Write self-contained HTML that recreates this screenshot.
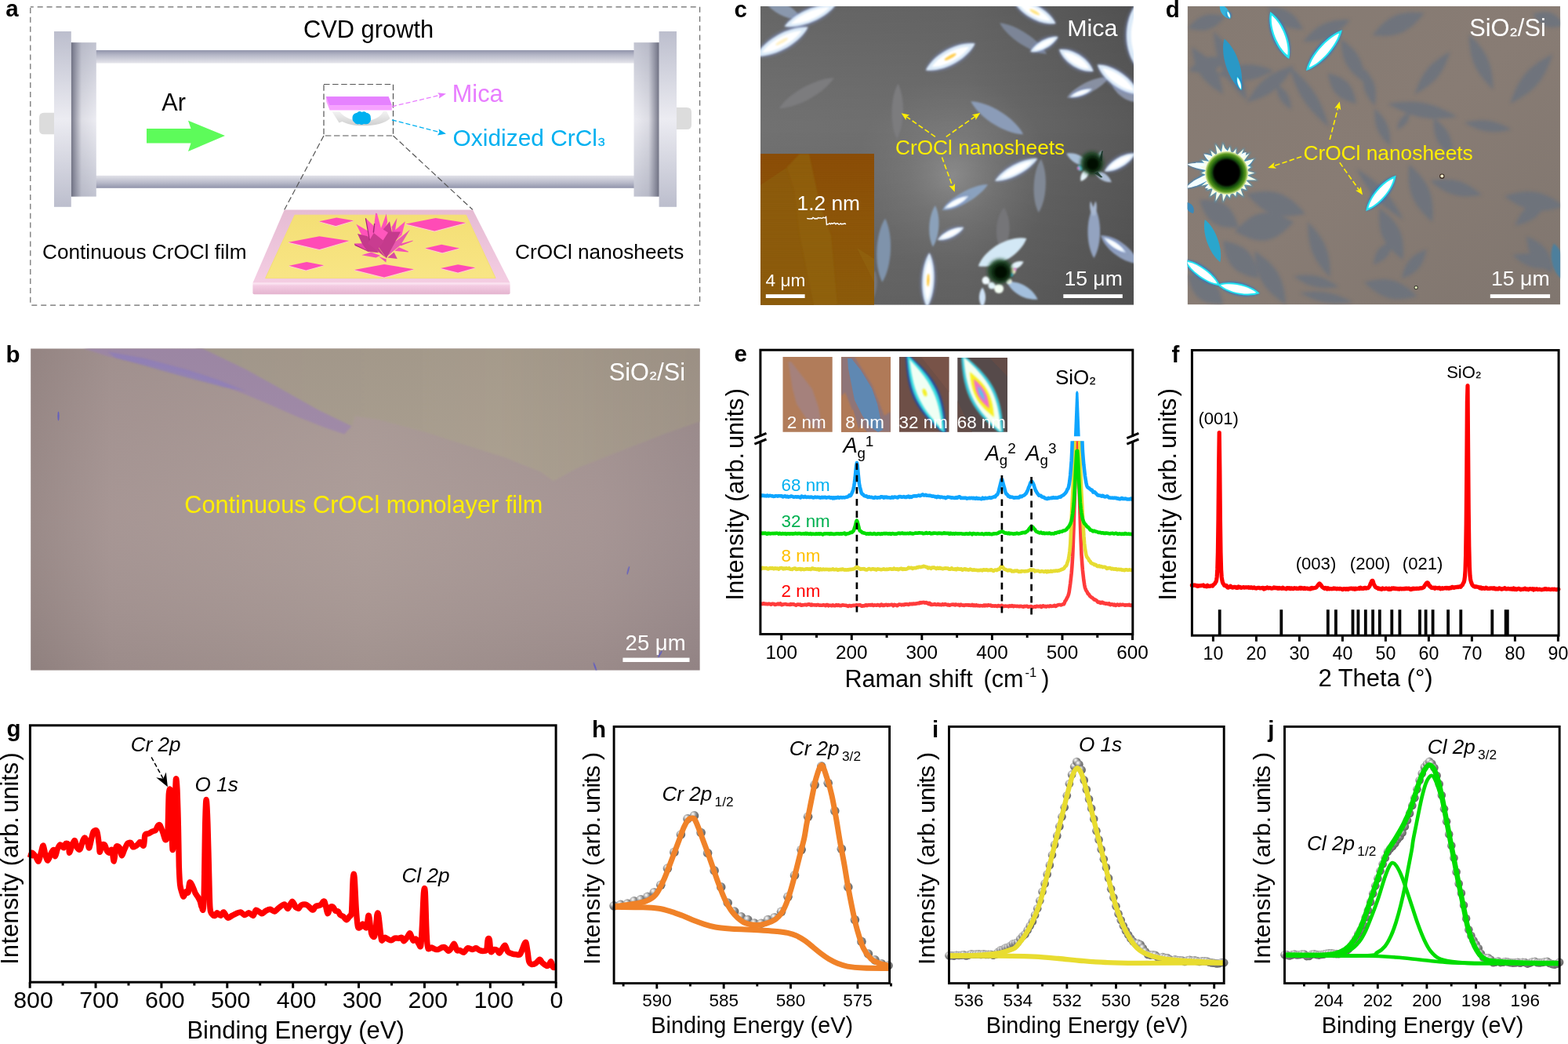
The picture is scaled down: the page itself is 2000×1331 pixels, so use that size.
<!DOCTYPE html>
<html lang="en">
<head>
<meta charset="utf-8">
<title>CVD growth and characterization of CrOCl</title>
<style>
html,body{margin:0;padding:0;background:#fff;}
body{width:2000px;height:1331px;overflow:hidden;}
svg{display:block;font-family:"Liberation Sans", Arial, Helvetica, sans-serif;}
text{white-space:pre;}
</style>
</head>
<body>
<svg width="2000" height="1331" viewBox="0 0 2000 1331">
<defs>

<linearGradient id="aTubeT" x1="0" y1="0" x2="0" y2="1"><stop offset="0" stop-color="#9093aa"/><stop offset="0.35" stop-color="#b4b6c6"/><stop offset="1" stop-color="#e6e6ec"/></linearGradient>
<linearGradient id="aTubeB" x1="0" y1="0" x2="0" y2="1"><stop offset="0" stop-color="#e2e2e9"/><stop offset="0.6" stop-color="#b6b8c8"/><stop offset="1" stop-color="#9093aa"/></linearGradient>
<linearGradient id="aFlO" x1="0" y1="0" x2="0" y2="1"><stop offset="0" stop-color="#bcbecd"/><stop offset="0.5" stop-color="#ececf2"/><stop offset="1" stop-color="#bcbecd"/></linearGradient>
<linearGradient id="aFlIv" x1="0" y1="0" x2="0" y2="1"><stop offset="0" stop-color="#c2c4d1"/><stop offset="0.5" stop-color="#ececf2"/><stop offset="1" stop-color="#c2c4d1"/></linearGradient>
<linearGradient id="aShL" x1="0" y1="0" x2="1" y2="0"><stop offset="0" stop-color="#55576a" stop-opacity="0.8"/><stop offset="0.18" stop-color="#5a5c70" stop-opacity="0.5"/><stop offset="0.42" stop-color="#5a5c70" stop-opacity="0.1"/><stop offset="1" stop-color="#5a5c70" stop-opacity="0"/></linearGradient>
<linearGradient id="aShR" x1="1" y1="0" x2="0" y2="0"><stop offset="0" stop-color="#55576a" stop-opacity="0.8"/><stop offset="0.18" stop-color="#5a5c70" stop-opacity="0.5"/><stop offset="0.42" stop-color="#5a5c70" stop-opacity="0.1"/><stop offset="1" stop-color="#5a5c70" stop-opacity="0"/></linearGradient>
<linearGradient id="aSubF" x1="0" y1="0" x2="0" y2="1"><stop offset="0" stop-color="#fdeaf5"/><stop offset="0.25" stop-color="#f3cbe2"/><stop offset="1" stop-color="#e4b4cf"/></linearGradient>
<linearGradient id="aSubT" x1="0" y1="0" x2="0" y2="1"><stop offset="0" stop-color="#e6bcd3"/><stop offset="1" stop-color="#f4cde3"/></linearGradient>
<linearGradient id="aYel" x1="0" y1="0" x2="0" y2="1"><stop offset="0" stop-color="#f4df75"/><stop offset="1" stop-color="#f8e585"/></linearGradient>
<linearGradient id="aBoat" x1="0" y1="0" x2="0" y2="1"><stop offset="0" stop-color="#f4f4f4"/><stop offset="1" stop-color="#cfcfcf"/></linearGradient>

<clipPath id="bClip"><rect x="39.1" y="444.3" width="853.7" height="410.4"/></clipPath>
<linearGradient id="bBg" x1="0" y1="0" x2="1" y2="0"><stop offset="0" stop-color="#988886"/><stop offset="0.12" stop-color="#a59492"/><stop offset="0.5" stop-color="#ab9b97"/><stop offset="0.85" stop-color="#a49392"/><stop offset="1" stop-color="#9b8b8c"/></linearGradient>
<linearGradient id="bBgV" x1="0" y1="0" x2="0" y2="1"><stop offset="0" stop-color="#000" stop-opacity="0.03"/><stop offset="0.5" stop-color="#fff" stop-opacity="0.02"/><stop offset="1" stop-color="#000" stop-opacity="0.06"/></linearGradient>
<linearGradient id="bBare" x1="0" y1="0" x2="1" y2="0"><stop offset="0" stop-color="#a59a8e"/><stop offset="0.6" stop-color="#aa9f8f"/><stop offset="1" stop-color="#a09488"/></linearGradient>

<clipPath id="cClip"><rect x="970" y="8" width="476" height="380.8"/></clipPath>
<clipPath id="cAfm"><rect x="970" y="196" width="145" height="192.8"/></clipPath>
<filter id="bl05" x="-20%" y="-20%" width="140%" height="140%"><feGaussianBlur stdDeviation="0.6"/></filter>
<filter id="bl1" x="-20%" y="-20%" width="140%" height="140%"><feGaussianBlur stdDeviation="1.1"/></filter>
<filter id="bl2" x="-30%" y="-30%" width="160%" height="160%"><feGaussianBlur stdDeviation="2.2"/></filter>
<filter id="bl4" x="-40%" y="-40%" width="180%" height="180%"><feGaussianBlur stdDeviation="4"/></filter>
<linearGradient id="cBg" x1="0" y1="0" x2="1" y2="0"><stop offset="0" stop-color="#717171"/><stop offset="0.55" stop-color="#6d6d6d"/><stop offset="1" stop-color="#595959"/></linearGradient>
<radialGradient id="cGlow" cx="1215" cy="225" r="125" gradientUnits="userSpaceOnUse"><stop offset="0" stop-color="#9a9a9a" stop-opacity="0.75"/><stop offset="0.45" stop-color="#8a8a8a" stop-opacity="0.4"/><stop offset="1" stop-color="#808080" stop-opacity="0"/></radialGradient>
<linearGradient id="cDark" x1="0" y1="0" x2="0" y2="1"><stop offset="0" stop-color="#000" stop-opacity="0.1"/><stop offset="0.4" stop-color="#000" stop-opacity="0"/><stop offset="1" stop-color="#000" stop-opacity="0.12"/></linearGradient>
<linearGradient id="cAfmG" x1="0" y1="0" x2="0" y2="1"><stop offset="0" stop-color="#884a05"/><stop offset="0.45" stop-color="#8a5307"/><stop offset="1" stop-color="#895909"/></linearGradient>
<pattern id="cAfmLines" width="4" height="2.4" patternUnits="userSpaceOnUse"><rect width="4" height="1" fill="#b07818" opacity="0.12"/></pattern>

<clipPath id="dClip"><rect x="1514.6" y="8" width="475.6" height="380.4"/></clipPath>
<linearGradient id="dBg" x1="0" y1="0" x2="1" y2="1"><stop offset="0" stop-color="#857a72"/><stop offset="0.5" stop-color="#887c74"/><stop offset="1" stop-color="#80766f"/></linearGradient>
<radialGradient id="dFl" cx="0.5" cy="0.5" r="0.5"><stop offset="0" stop-color="#000"/><stop offset="0.5" stop-color="#020802"/><stop offset="0.72" stop-color="#1c5a0c"/><stop offset="0.88" stop-color="#5a9a20"/><stop offset="1" stop-color="#e8f0b0"/></radialGradient>

<clipPath id="eLow"><rect x="969.9" y="562.2" width="474.9" height="245"/></clipPath>
<clipPath id="eI1"><rect x="998.5" y="455.1" width="63.2" height="95.6"/></clipPath>
<clipPath id="eI2"><rect x="1073" y="455.1" width="63" height="95.6"/></clipPath>
<clipPath id="eI3"><rect x="1147" y="455.1" width="63.5" height="95.6"/></clipPath>
<clipPath id="eI4"><rect x="1221.3" y="456" width="63.7" height="94.7"/></clipPath>

<radialGradient id="dotG" cx="0.36" cy="0.32" r="0.75"><stop offset="0" stop-color="#ffffff"/><stop offset="0.2" stop-color="#d0d0d0"/><stop offset="0.5" stop-color="#858585"/><stop offset="1" stop-color="#5c5c5c"/></radialGradient>

</defs>
<rect width="2000" height="1331" fill="#fff"/>
<g id="panel_a">
<rect x="38.8" y="8.8" width="853.8" height="380.4" fill="none" stroke="#6a6a6a" stroke-width="1.2" stroke-dasharray="7 4.9" stroke-dashoffset="3"/>
<path d="M69.5,143.8H56 q-6,0 -6,6 v15.5 q0,6 6,6 H69.5Z" fill="#dcdcdc"/>
<path d="M862.5,137H876 q6,0 6,6 v16 q0,6 -6,6 H862.5Z" fill="#dcdcdc"/>
<rect x="122" y="64" width="687" height="16.6" fill="url(#aTubeT)"/>
<rect x="122" y="223.8" width="687" height="16" fill="url(#aTubeB)"/>
<rect x="90.5" y="54.2" width="32.3" height="196.4" fill="url(#aFlIv)"/>
<rect x="90.5" y="54.2" width="32.3" height="196.4" fill="url(#aShL)"/>
<rect x="808.5" y="54.2" width="32.3" height="196.4" fill="url(#aFlIv)"/>
<rect x="808.5" y="54.2" width="32.3" height="196.4" fill="url(#aShR)"/>
<rect x="69" y="40" width="21.8" height="223.8" fill="url(#aFlO)"/>
<rect x="840.6" y="40" width="22.4" height="223.8" fill="url(#aFlO)"/>
<path d="M187,164 H243.5 L240,153.8 L287,173 L240,193 L243.5,182.5 H187Z" fill="#5dfb5a"/>
<rect x="413" y="107.5" width="88.5" height="65.5" fill="none" stroke="#555" stroke-width="1.2" stroke-dasharray="7.5 3.6"/>
<path d="M413,173 L362.7,267.5 M501.5,173 L603,267.5" fill="none" stroke="#555" stroke-width="1.2" stroke-dasharray="7.5 3.6"/>
<path d="M423.5,142.2 L433,142.2 C440,151 452,154.5 463,154.5 C476,154.5 486,149 489,141.8 L493,141.8 L497.5,151 C492,157 478,160.3 463,160.3 C451,160.3 442,158 436.5,155 L432.5,156.5Z" fill="url(#aBoat)"/>
<path d="M449.5,150.5 c0,-4 2.5,-6.5 6,-6.8 c1.5,-2 4.5,-2 6,-0.8 c2,-1.2 5,-0.6 6,1.2 c3,0 5.5,2.5 5.3,6 c0.6,2.5 0,5.5 -2.2,6.8 c-2,1.8 -5,1.5 -6.5,1 c-2,1.4 -4.5,1.2 -6,0.2 c-2.5,0.8 -5,-0.2 -6,-2 c-1.8,-1.2 -2.8,-3.4 -2.6,-5.6Z" fill="#00b0f0"/>
<path d="M416,123.3 H495.6 L499.8,134.2 H420.4Z" fill="#e682ff"/>
<path d="M416,123.3 L420.4,134.2 H499.8 V140.5 H420.6 L416.3,129.5Z" fill="#f7a2ff"/>
<path d="M416,123.3 H495.6 L499.8,134.2 H420.4Z" fill="#e682ff"/>
<path d="M500,135.8 L560,121.6" fill="none" stroke="#e87dff" stroke-width="1.3" stroke-dasharray="6 3"/>
<path d="M569,119.4 L558.3,118.2 L560.6,121.4 L559.8,125.5Z" fill="#e87dff"/>
<path d="M500,153 L560,168.3" fill="none" stroke="#00b0f0" stroke-width="1.3" stroke-dasharray="6 3"/>
<path d="M569,170.6 L559.6,164.6 L560.5,168.6 L558,172.6Z" fill="#00b0f0"/>
<path d="M362.7,267.6 L603.1,267.6 L650.6,360.7 L322.4,360.7Z" fill="url(#aSubT)"/>
<path d="M322.4,360.7 H650.6 V373.3 q0,2 -2,2 H324.4 q-2,0 -2,-2Z" fill="url(#aSubF)"/>
<path d="M376,274.2 L594.5,274.2 L632.1,354.6 L338.6,354.6Z" fill="url(#aYel)" stroke="#f4df75" stroke-width="1" stroke-linejoin="round"/>
<path d="M407,283.1 L428.3,288.9 L451.1,282.1 L451.1,281.2 L428.3,287.9 L407,282.2Z" fill="#ffc4ea"/>
<path d="M407,282.2 L429.2,277.4 L451.1,281.2 L428.3,287.9Z" fill="#ff4bb6"/>
<path d="M517.6,286.5 L554.2,295.5 L594.1,285 L594.1,284.1 L554.2,294.5 L517.6,285.6Z" fill="#ffc4ea"/>
<path d="M517.6,285.6 L555.6,278 L594.1,284.1 L554.2,294.5Z" fill="#ff4bb6"/>
<path d="M368,309.7 L407.4,318.9 L445.4,307.8 L445.4,306.9 L407.4,317.9 L368,308.8Z" fill="#ffc4ea"/>
<path d="M368,308.8 L407.4,301.2 L445.4,306.9 L407.4,317.9Z" fill="#ff4bb6"/>
<path d="M542.3,317.3 L564.1,323.3 L586,317.3 L586,316.4 L564.1,322.3 L542.3,316.4Z" fill="#ffc4ea"/>
<path d="M542.3,316.4 L563.2,311.8 L586,316.4 L564.1,322.3Z" fill="#ff4bb6"/>
<path d="M368.8,339.7 L390.3,345.5 L413.1,339.1 L413.1,338.2 L390.3,344.5 L368.8,338.8Z" fill="#ffc4ea"/>
<path d="M368.8,338.8 L391.2,334.1 L413.1,338.2 L390.3,344.5Z" fill="#ff4bb6"/>
<path d="M452,345 L490,354.4 L528,344.1 L528,343.2 L490,353.4 L452,344.1Z" fill="#ffc4ea"/>
<path d="M452,344.1 L490,336.9 L528,343.2 L490,353.4Z" fill="#ff4bb6"/>
<path d="M562.2,342.9 L584.1,348.5 L606.3,342.2 L606.3,341.3 L584.1,347.5 L562.2,342Z" fill="#ffc4ea"/>
<path d="M562.2,342 L584.1,337.3 L606.3,341.3 L584.1,347.5Z" fill="#ff4bb6"/>
<path d="M454.3,285.8 L469,294.2 L473.2,308.2 L463.4,304Z" fill="#ff52ba"/>
<path d="M451.8,310.6 L464.8,310.3 L470.4,321.1 L452.9,313.1Z" fill="#e848aa"/>
<path d="M451.8,311 L452.9,313.1 L470.4,321.1 L469,319.7Z" fill="#a82c78"/>
<path d="M510.3,311 L526.7,306.4 L526.4,307.5 L511,313.4Z" fill="#f04eb2"/>
<path d="M508.9,315.2 L520.8,320.4 L520.8,321.5 L503.3,319.7Z" fill="#f650b6"/>
<path d="M522.9,292.8 L511,312.4 L493.5,327.1 L500.5,311Z" fill="#e85aae"/>
<path d="M456,298 L469,301.2 L483,322.2 L469,320.8 L462,311Z" fill="#c43a8c"/>
<path d="M466.2,278.1 L476.7,287.9 L478.1,304 L472.5,311.7Z" fill="#ff55bc"/>
<path d="M465.8,278.4 L467,278.1 L472.8,311 L471.8,311.6Z" fill="#a02a74"/>
<path d="M506.4,278.1 L504,294.2 L500.5,297 L499.8,289.3Z" fill="#f04cb0"/>
<path d="M516.9,282.3 L512.4,299.8 L502.6,308.2 L501.2,295.6Z" fill="#ff52ba"/>
<path d="M492.8,272.5 L494.2,283 L490,294.2 L485.8,291.4Z" fill="#ff50b8"/>
<path d="M479.1,271.8 L480.9,272.1 L485.8,290 L483,299.8 L476,297Z" fill="#ff55bc"/>
<path d="M497,282.3 L500.5,298.4 L495.6,304 L488.6,292.8Z" fill="#cc3c94"/>
<path d="M477.4,285.1 L495.6,297 L490,308.2 L476.7,298.4Z" fill="#ff57bd"/>
<path d="M477,285.1 L478.4,285.1 L477,297 L475.6,296.3Z" fill="#a02a74"/>
<path d="M495.6,295.6 L511,295.6 L492.8,329.2 L483,315.2Z" fill="#c43a8c"/>
<path d="M476.7,297 L490,307.5 L483,315.9 L492.1,328.5 L469,310.3Z" fill="#c93c90"/>
<path d="M461.3,325.3 L473.2,321.5 L485.1,325.7 L479.5,328.5Z" fill="#f452b6"/>
<path d="M502.6,321.5 L506.8,329.9 L494.2,328.5Z" fill="#d848a0"/>
<path d="M483,327.1 L492.8,330.6 L492.4,334.4Z" fill="#f050b4"/>
<text x="7.20" y="21.20" font-size="29.50" fill="#000" font-weight="bold">a</text>
<text x="386.90" y="47.60" font-size="30.85" fill="#000">CVD growth</text>
<text x="206.30" y="140.60" font-size="30.60" fill="#000">Ar</text>
<text x="576.80" y="130.20" font-size="30.70" fill="#e87dff">Mica</text>
<text x="577.60" y="186.40" font-size="29.90" fill="#00b0f0">Oxidized CrCl<tspan font-size="25.7" dy="-2.09" stroke="#00b0f0" stroke-width="0.3">₃</tspan></text>
<text x="54.00" y="329.60" font-size="26.20" fill="#000">Continuous CrOCl film</text>
<text x="657.00" y="329.60" font-size="26.20" fill="#000">CrOCl nanosheets</text>
</g>
<g id="panel_b">
<g clip-path="url(#bClip)">
<rect x="39.1" y="444.3" width="853.7" height="410.4" fill="url(#bBg)"/>
<path d="M248.4,443.9 L892.8,443.9 L892.8,537.3 L846.4,553.4 L782,578.7 L736,597.1 L706.1,613.2 L690,601.7 L644,583.3 L593.4,567.2 L542.8,551.1 L483,535 L453.1,530.4 L448.5,544.2 L427.8,537.3 L395.6,518.9 L349.6,493.6 L299,468.3Z" fill="url(#bBare)" filter="url(#bl1)"/>
<path d="M105.8,443.9 L257.6,443.9 L312.8,470.6 L358.8,495.9 L404.8,522.1 L448.5,543.3 L439.3,553.4 L414,545.1 L377.2,530.4 L340.4,514.3 L312.8,502.8 L276,489 L230,474.3 L184,463.7 L138,454.5Z" fill="#a08aa8" filter="url(#bl1)"/>
<path d="M138,448.5 L184,456.8 L239.2,471.5 L276,483.5 L312.8,498.2 L285.2,493.6 L230,478.9 L184,466 L147.2,455.9Z" fill="#9080c0" opacity="0.75" filter="url(#bl1)"/>
<rect x="39.1" y="444.3" width="853.7" height="410.4" fill="url(#bBgV)"/>
<ellipse cx="74.5" cy="530.4" rx="1.1" ry="6" fill="#5a58c8" opacity="0.85" transform="rotate(0 74.5 530.4)" filter="url(#bl05)"/>
<ellipse cx="801.3" cy="727.3" rx="0.9" ry="5.5" fill="#5a58c8" opacity="0.85" transform="rotate(15 801.3 727.3)" filter="url(#bl05)"/>
<ellipse cx="759.0" cy="850.1" rx="1.0" ry="6" fill="#5a58c8" opacity="0.85" transform="rotate(-20 759.0 850.1)" filter="url(#bl05)"/>
<ellipse cx="841.8" cy="834.0" rx="1.0" ry="5" fill="#5a58c8" opacity="0.85" transform="rotate(30 841.8 834.0)" filter="url(#bl05)"/>
</g>
<text x="235.30" y="654.30" font-size="30.70" fill="#ffee00">Continuous CrOCl monolayer film</text>
<text x="776.80" y="484.50" font-size="30.70" fill="#fff">SiO<tspan font-size="26.4" dy="-2.15" stroke="#fff" stroke-width="0.3">₂</tspan><tspan dy="2.15">/Si</tspan></text>
<text x="797.60" y="828.60" font-size="27.50" fill="#fff">25 μm</text>
<rect x="794.4" y="838.6" width="85.1" height="5.4" fill="#fff"/>
<text x="7.60" y="461.60" font-size="29.50" fill="#000" font-weight="bold">b</text>
</g>
<g id="panel_c">
<g clip-path="url(#cClip)">
<rect x="970" y="8" width="476" height="380.8" fill="url(#cBg)"/>
<rect x="970" y="8" width="476" height="380.8" fill="url(#cGlow)"/>
<rect x="970" y="8" width="476" height="380.8" fill="url(#cDark)"/>
<g filter="url(#bl1)"><path d="M993.8,138.2 C1016.7,138.1 1051.6,118.6 1063.7,99.2 C1040.8,99.3 1005.9,118.8 993.8,138.2Z" fill="#7b7b7e"/><path d="M1145.5,106.7 C1135.4,124.1 1134.7,159.4 1144,177.3 C1154.1,159.9 1154.8,124.6 1145.5,106.7Z" fill="#7b7b7e"/><path d="M1280.4,264.4 C1268.8,278 1267.6,306.2 1278.1,320.7 C1289.7,307.1 1290.9,278.9 1280.4,264.4Z" fill="#757578"/><path d="M1327.7,202.8 C1316.9,219.4 1315.4,253.6 1324.7,271.1 C1335.5,254.5 1337,220.3 1327.7,202.8Z" fill="#808895"/><path d="M1116,345 C1106.1,354.6 1102.1,376.6 1108,389 C1117.9,379.4 1121.9,357.4 1116,345Z" fill="#74767a"/></g>
<g filter="url(#bl1)"><path d="M975,0 C982.2,15 1005.7,27 1022,24 C1014.8,9 991.3,-3 975,0Z" fill="#8a98ad"/><path d="M1275.1,29.3 C1284.6,47.6 1314.6,67.5 1335.2,69.1 C1325.7,50.8 1295.7,30.9 1275.1,29.3Z" fill="#7b8597"/><path d="M1360.8,124.7 C1378.3,126.3 1405.3,113.1 1414.8,98.4 C1397.3,96.8 1370.3,110 1360.8,124.7Z" fill="#8890a2"/><path d="M1238.3,129.2 C1248.6,149.9 1282.1,171 1305.2,171.3 C1294.9,150.6 1261.4,129.5 1238.3,129.2Z" fill="#8b9cb8"/><path d="M1129,278.6 C1116.4,298.4 1114.5,339 1125.3,359.8 C1137.9,340 1139.8,299.4 1129,278.6Z" fill="#7f93ab"/><path d="M1192.9,262.1 C1184.1,274.8 1182.6,301.1 1189.9,314.7 C1198.7,302 1200.2,275.7 1192.9,262.1Z" fill="#8ba1ba"/><path d="M1201.5,268.1 C1220.8,268 1250.1,251.5 1260.1,235.1 C1240.8,235.2 1211.5,251.7 1201.5,268.1Z" fill="#8aa1be"/><path d="M1395.3,262 C1384.9,278.8 1384.9,312.2 1395.3,329 C1405.7,312.2 1405.7,278.8 1395.3,262Z" fill="#93a3c0"/><path d="M1391,256.5 C1389.1,261.8 1390.6,271.5 1394,276 C1395.9,270.7 1394.4,261 1391,256.5Z" fill="#a8b8d0"/><path d="M1397.5,256.5 C1394.5,261.2 1393.7,270.9 1396,276 C1399,271.3 1399.8,261.6 1397.5,256.5Z" fill="#a8b8d0"/><path d="M1417.8,105.2 C1420.8,119 1437.9,131.4 1452,130 C1449,116.2 1431.9,103.8 1417.8,105.2Z" fill="#8a93a8"/><path d="M1404,300 C1409.3,318.1 1433.5,336.1 1452.4,336 C1447.1,317.9 1422.9,299.9 1404,300Z" fill="#8f9fbd"/></g>
<g filter="url(#bl2)"><path d="M1000.6,33.8 C1022.1,38.9 1054.8,25 1066,6 C1044.5,0.9 1011.8,14.8 1000.6,33.8Z" fill="#7f92c8" opacity="0.75"/><path d="M964,71.5 C988,75.5 1021.3,57 1030.6,34.6 C1006.6,30.6 973.3,49.1 964,71.5Z" fill="#7f92c8" opacity="0.75"/><path d="M1180.9,89.4 C1203.7,94.2 1235.1,77.3 1243.6,55.6 C1220.8,50.8 1189.4,67.7 1180.9,89.4Z" fill="#7f92c8" opacity="0.75"/><path d="M1293,1 C1300,20 1326.7,34.5 1346.5,30 C1339.5,11 1312.8,-3.5 1293,1Z" fill="#7f92c8" opacity="0.75"/><path d="M1314.2,66.1 C1327.3,69.2 1345,59.6 1349.5,46.9 C1336.4,43.8 1318.7,53.4 1314.2,66.1Z" fill="#7f92c8" opacity="0.75"/><path d="M1351,63.1 C1355.1,80.8 1376.9,94.7 1394.6,90.9 C1390.5,73.2 1368.7,59.3 1351,63.1Z" fill="#7f92c8" opacity="0.75"/><path d="M1399.8,82.6 C1404.8,103.4 1431.1,122.2 1452.4,120.2 C1447.4,99.4 1421.1,80.6 1399.8,82.6Z" fill="#7f92c8" opacity="0.75"/><path d="M1452,2 C1429.9,23.5 1429.9,66.5 1452,88 C1474.1,66.5 1474.1,23.5 1452,2Z" fill="#7f92c8" opacity="0.75"/><path d="M1364.5,123.5 C1373.6,126.7 1387.9,121.6 1393,113.4 C1383.9,110.2 1369.6,115.3 1364.5,123.5Z" fill="#7f92c8" opacity="0.75"/><path d="M1185.4,322.2 C1172.6,339.1 1171.1,374 1182.4,392 C1195.2,375.1 1196.7,340.2 1185.4,322.2Z" fill="#7f92c8" opacity="0.75"/><path d="M1269.1,230.6 C1287.8,233.2 1314.8,218.9 1323.2,202 C1304.5,199.4 1277.5,213.7 1269.1,230.6Z" fill="#7f92c8" opacity="0.75"/><path d="M1204.5,265.9 C1215.4,268.2 1230.8,260.3 1235.3,250.1 C1224.4,247.8 1209,255.7 1204.5,265.9Z" fill="#7f92c8" opacity="0.75"/><path d="M1196,305.7 C1207.8,309 1224.4,301.1 1229.3,289.9 C1217.5,286.6 1200.9,294.5 1196,305.7Z" fill="#7f92c8" opacity="0.75"/><path d="M1408.8,218.5 C1423.7,221.4 1443.3,209.9 1448,195.5 C1433.1,192.6 1413.5,204.1 1408.8,218.5Z" fill="#7f92c8" opacity="0.75"/><path d="M1408,303 C1411.2,313.3 1425.2,322.8 1436,322 C1432.8,311.7 1418.8,302.2 1408,303Z" fill="#7f92c8" opacity="0.75"/></g>
<g filter="url(#bl1)"><path d="M1000.6,33.8 C1021.3,37 1054,23.1 1066,6 C1045.3,2.8 1012.6,16.7 1000.6,33.8Z" fill="#dbeaf8"/><path d="M964,71.5 C987,73.7 1020.3,55.3 1030.6,34.6 C1007.6,32.4 974.3,50.8 964,71.5Z" fill="#dbeaf8"/><path d="M1180.9,89.4 C1202.8,92.5 1234.1,75.6 1243.6,55.6 C1221.7,52.5 1190.4,69.4 1180.9,89.4Z" fill="#dbeaf8"/><path d="M1293,1 C1300.9,18.3 1327.7,32.8 1346.5,30 C1338.6,12.7 1311.8,-1.8 1293,1Z" fill="#dbeaf8"/><path d="M1314.2,66.1 C1326.4,67.5 1344,57.9 1349.5,46.9 C1337.3,45.5 1319.7,55.1 1314.2,66.1Z" fill="#dbeaf8"/><path d="M1351,63.1 C1356.1,79.1 1377.9,93 1394.6,90.9 C1389.5,74.9 1367.7,61 1351,63.1Z" fill="#dbeaf8"/><path d="M1399.8,82.6 C1405.9,101.8 1432.2,120.6 1452.4,120.2 C1446.3,101 1420,82.2 1399.8,82.6Z" fill="#dbeaf8"/><path d="M1452,2 C1431.9,23.5 1431.9,66.5 1452,88 C1472.1,66.5 1472.1,23.5 1452,2Z" fill="#dbeaf8"/><path d="M1364.5,123.5 C1373,124.8 1387.2,119.7 1393,113.4 C1384.5,112.1 1370.3,117.2 1364.5,123.5Z" fill="#dbeaf8"/><path d="M1185.4,322.2 C1174.6,339.2 1173.1,374.1 1182.4,392 C1193.2,375 1194.7,340.1 1185.4,322.2Z" fill="#dbeaf8"/><path d="M1269.1,230.6 C1286.9,231.4 1313.9,217.1 1323.2,202 C1305.4,201.2 1278.4,215.5 1269.1,230.6Z" fill="#dbeaf8"/><path d="M1204.5,265.9 C1214.5,266.4 1229.9,258.5 1235.3,250.1 C1225.3,249.6 1209.9,257.5 1204.5,265.9Z" fill="#dbeaf8"/><path d="M1196,305.7 C1206.9,307.2 1223.6,299.3 1229.3,289.9 C1218.4,288.4 1201.7,296.3 1196,305.7Z" fill="#dbeaf8"/><path d="M1408.8,218.5 C1422.7,219.7 1442.3,208.2 1448,195.5 C1434.1,194.3 1414.5,205.8 1408.8,218.5Z" fill="#dbeaf8"/><path d="M1408,303 C1412.4,311.6 1426.4,321.1 1436,322 C1431.6,313.4 1417.6,303.9 1408,303Z" fill="#dbeaf8"/></g>
<g filter="url(#bl1)"><path d="M1008.4,30.5 C1023.6,31.5 1048.4,20.9 1058.2,9.3 C1043,8.3 1018.2,18.9 1008.4,30.5Z" fill="#ffffff"/><path d="M972,67.1 C988.6,67.1 1013.9,53.1 1022.6,39 C1006,39 980.7,53 972,67.1Z" fill="#ffffff"/><path d="M1188.4,85.3 C1204.2,86.1 1228,73.2 1236.1,59.7 C1220.3,58.9 1196.5,71.8 1188.4,85.3Z" fill="#ffffff"/><path d="M1299.4,4.5 C1306.2,16.2 1326.5,27.2 1340.1,26.5 C1333.3,14.8 1313,3.8 1299.4,4.5Z" fill="#ffffff"/><path d="M1318.4,63.8 C1327.2,64 1340.6,56.7 1345.3,49.2 C1336.5,49 1323.1,56.3 1318.4,63.8Z" fill="#ffffff"/><path d="M1356.2,66.4 C1360.9,77.3 1377.5,87.9 1389.4,87.6 C1384.7,76.7 1368.1,66.1 1356.2,66.4Z" fill="#ffffff"/><path d="M1406.1,87.1 C1411.8,100.3 1431.7,114.6 1446.1,115.7 C1440.4,102.5 1420.5,88.2 1406.1,87.1Z" fill="#ffffff"/><path d="M1452,12.3 C1439.5,28.7 1439.5,61.3 1452,77.7 C1464.5,61.3 1464.5,28.7 1452,12.3Z" fill="#ffffff"/><path d="M1367.9,122.3 C1374.2,122.7 1385,118.9 1389.6,114.6 C1383.3,114.2 1372.5,118 1367.9,122.3Z" fill="#ffffff"/><path d="M1185,330.6 C1178.2,343.6 1177.1,370.1 1182.8,383.6 C1189.6,370.6 1190.7,344.1 1185,330.6Z" fill="#ffffff"/><path d="M1275.6,227.2 C1288.5,226.7 1309,215.8 1316.7,205.4 C1303.8,205.9 1283.3,216.8 1275.6,227.2Z" fill="#ffffff"/><path d="M1208.2,264 C1215.5,263.8 1227.2,257.8 1231.6,252 C1224.3,252.2 1212.6,258.2 1208.2,264Z" fill="#ffffff"/><path d="M1200,303.8 C1207.9,304.2 1220.6,298.2 1225.3,291.8 C1217.4,291.4 1204.7,297.4 1200,303.8Z" fill="#ffffff"/><path d="M1413.5,215.7 C1423.5,215.7 1438.4,206.9 1443.3,198.3 C1433.3,198.3 1418.4,207.1 1413.5,215.7Z" fill="#ffffff"/><path d="M1411.4,305.3 C1415,311.3 1425.7,318.5 1432.6,319.7 C1429,313.7 1418.3,306.5 1411.4,305.3Z" fill="#ffffff"/></g>
<g filter="url(#bl1)"><ellipse cx="997.3" cy="53.0" rx="9.1" ry="2.1" fill="#fff0c0" opacity="0.9" transform="rotate(-29.0 997.3 53.0)"/><ellipse cx="1212.2" cy="72.5" rx="8.5" ry="2.1" fill="#ffc83c" opacity="0.9" transform="rotate(-28.3 1212.2 72.5)"/><ellipse cx="1319.8" cy="15.5" rx="7.3" ry="1.9" fill="#ffe070" opacity="0.9" transform="rotate(28.5 1319.8 15.5)"/><ellipse cx="1183.9" cy="357.1" rx="8.4" ry="1.6" fill="#ffc020" opacity="0.9" transform="rotate(92.5 1183.9 357.1)"/></g>
<g filter="url(#bl1)"><path d="M1360.3,195.7 C1365.8,206.8 1377.7,213 1390,211 C1384.5,199.9 1372.6,193.7 1360.3,195.7Z" fill="#a9bfd8"/><path d="M1378.5,231 C1386.2,228.7 1390.4,221.9 1389,214 C1381.3,216.3 1377.1,223.1 1378.5,231Z" fill="#e6f4fb"/><path d="M1417.8,232.2 C1414.6,222.9 1405.8,217.2 1396,218 C1399.2,227.3 1408,233 1417.8,232.2Z" fill="#aebfd6"/><path d="M1406,192 C1400.7,194.5 1397.5,200.1 1398,206 C1403.3,203.5 1406.5,197.9 1406,192Z" fill="#8fa9b5"/><path d="M1247.8,339.2 C1270.5,343.2 1301.3,325.5 1309.4,303.9 C1286.7,299.9 1255.9,317.6 1247.8,339.2Z" fill="#d3e8f5"/><path d="M1286.9,342.6 C1294.8,344.7 1302.3,341.1 1305.6,333.6 C1297.7,331.5 1290.2,335.1 1286.9,342.6Z" fill="#e4f2fb"/><path d="M1283.9,359.1 C1291.2,374 1307.1,383.1 1323.7,381.7 C1316.4,366.8 1300.5,357.7 1283.9,359.1Z" fill="#a3bfdd"/><path d="M1253,366.6 C1247.6,374.2 1247.6,384.4 1253,392 C1258.4,384.4 1258.4,374.2 1253,366.6Z" fill="#cfe2f6"/></g>
<g filter="url(#bl1)"><circle cx="1257.6" cy="357.6" r="5" fill="#f2fbff"/><circle cx="1274.1" cy="368.1" r="6" fill="#f4fff4"/><circle cx="1265" cy="364" r="4.5" fill="#e2f4fa"/><circle cx="1291.4" cy="345.6" r="4.2" fill="#fff8d0"/><circle cx="1294.5" cy="343.5" r="2" fill="#f090e0"/><circle cx="1290" cy="350" r="2.4" fill="#40c8f0"/><circle cx="1287" cy="358.5" r="3.6" fill="#f0f6e8"/><circle cx="1378" cy="214" r="3.4" fill="#58d0e8"/><circle cx="1375.6" cy="214.6" r="1.8" fill="#e080e0"/></g>
<g filter="url(#bl2)"><circle cx="1392.7" cy="208" r="14.5" fill="#154020" opacity="0.95"/></g>
<g filter="url(#bl2)"><circle cx="1393.7" cy="209" r="9.4" fill="#020a04"/></g>
<g filter="url(#bl2)"><circle cx="1275.6" cy="345.8" r="15.5" fill="#154020" opacity="0.95"/></g>
<g filter="url(#bl2)"><circle cx="1276.6" cy="346.8" r="10.1" fill="#020a04"/></g>
<path d="M1405,193 L1407,192 L1405.5,206 L1402,204Z M1400,219 L1406.5,226 L1404,226.6 L1396,221Z" fill="#0f2c1a" opacity="0.8" filter="url(#bl05)"/>
<g clip-path="url(#cAfm)">
<rect x="970" y="196" width="145" height="193" fill="url(#cAfmG)"/>
<path d="M970,236 L1003,214 L1012,240 L1020,300 L1038,389 L970,389Z" fill="#8a5a0b" opacity="0.9"/>
<path d="M1003,214 L1020,196 L1032,196 L1046,262 L1060,300 L1068,389 L1038,389 L1020,300 L1012,240Z" fill="#8f630d" opacity="0.7" filter="url(#bl1)"/>
<path d="M1093,316 L1115,330 L1115,360Z" fill="#8f600e" opacity="0.8"/>
<rect x="970" y="196" width="145" height="193" fill="url(#cAfmLines)"/>
</g>
<path d="M1029.2,278.4 L1030.5,278.7 L1031.8,278.8 L1033.1,279.1 L1034.4,278.7 L1035.7,279 L1037,277.3 L1038.3,278.1 L1039.6,279.1 L1040.9,278.5 L1042.2,279 L1043.5,277.4 L1044.8,278.1 L1046.1,277.7 L1047.4,278.3 L1048.7,278.3 L1050,277.2 L1051.3,277.6 L1052.6,277.8 L1053.6,276.2 L1054.4,286.6 L1055.5,285.9 L1056.8,285.7 L1058.1,284.6 L1059.4,285.7 L1060.7,284.5 L1062,285.4 L1063.3,284.5 L1064.6,284.3 L1065.9,285.9 L1067.2,284.7 L1068.5,284.7 L1069.8,286.1 L1071.1,285.9 L1072.4,284.8 L1073.7,286 L1075,285.3 L1076.3,285.5 L1077.6,284.7 L1078.9,286" fill="none" stroke="#fff" stroke-width="1.4" stroke-linejoin="round"/>
</g>
<path d="M1192.9,174.3 L1156.0,148.7" fill="none" stroke="#ffee00" stroke-width="1.6" stroke-dasharray="6.5 3.2"/><path d="M1149.6,144.2 L1160.2,146.5 L1156.0,148.7 L1155.5,153.3Z" fill="#ffee00"/>
<path d="M1206.8,174.3 L1243.9,148.4" fill="none" stroke="#ffee00" stroke-width="1.6" stroke-dasharray="6.5 3.2"/><path d="M1250.3,143.9 L1244.5,153.0 L1243.9,148.4 L1239.8,146.3Z" fill="#ffee00"/>
<path d="M1201.5,200.5 L1215.0,237.5" fill="none" stroke="#ffee00" stroke-width="1.6" stroke-dasharray="6.5 3.2"/><path d="M1217.7,244.8 L1210.4,236.8 L1215.0,237.5 L1218.1,234.0Z" fill="#ffee00"/>
<text x="1141.90" y="196.60" font-size="26.30" fill="#ffee00">CrOCl nanosheets</text>
<text x="1361.30" y="45.90" font-size="30.40" fill="#fff">Mica</text>
<text x="1016.60" y="267.90" font-size="26.30" fill="#fff">1.2 nm</text>
<text x="976.60" y="365.10" font-size="22.60" fill="#fff">4 μm</text>
<rect x="976.8" y="375.2" width="49.8" height="4.8" fill="#fff"/>
<text x="1357.40" y="364.40" font-size="26.60" fill="#fff">15 μm</text>
<rect x="1356.3" y="375.2" width="75.5" height="4.8" fill="#fff"/>
<text x="936.40" y="22.10" font-size="29.50" fill="#000" font-weight="bold">c</text>
</g>
<g id="panel_d">
<g clip-path="url(#dClip)">
<rect x="1514.6" y="8" width="475.6" height="380.4" fill="url(#dBg)"/>
<g filter="url(#bl2)" fill="#69727f" opacity="0.8"><path d="M1515,36 C1537.4,41.9 1548,38.6 1563,21 C1540.6,15.1 1530,18.4 1515,36Z"/><path d="M1516.5,90 C1538.9,96 1549.5,92.7 1564.6,75.1 C1542.2,69.1 1531.6,72.4 1516.5,90Z"/><path d="M1552.6,94.7 C1581.6,106.4 1597.4,105.4 1624.7,90.1 C1595.7,78.4 1579.9,79.4 1552.6,94.7Z"/><path d="M1590.1,130.7 C1621.1,122.3 1634.3,112 1650.2,84.1 C1619.2,92.5 1606,102.8 1590.1,130.7Z"/><path d="M1627.7,106.7 C1628.9,123.3 1633.2,130.6 1647.2,139.7 C1646,123.1 1641.7,115.8 1627.7,106.7Z"/><path d="M1644.2,84.1 C1654.8,120.7 1666.1,137.9 1695.3,162.3 C1684.7,125.7 1673.4,108.5 1644.2,84.1Z"/><path d="M1693.8,93.2 C1697.9,117.6 1705.9,126.2 1729.9,132.2 C1725.8,107.8 1717.8,99.2 1693.8,93.2Z"/><path d="M1662,53 C1690.6,53.3 1703.8,47.1 1722,25 C1693.4,24.7 1680.2,30.9 1662,53Z"/><path d="M1617.2,9 C1628.2,30.6 1638.1,36.9 1662.3,37.6 C1651.3,16 1641.4,9.7 1617.2,9Z"/><path d="M1710.3,49.6 C1711.2,77.2 1717.8,89.4 1740.4,105.2 C1739.5,77.6 1732.9,65.4 1710.3,49.6Z"/><path d="M1750.5,45.1 C1782.4,48.1 1796.9,41.8 1816.6,16.5 C1784.7,13.5 1770.2,19.8 1750.5,45.1Z"/><path d="M1804.6,120.2 C1830.7,106.2 1840.6,94.3 1849.7,66.1 C1823.6,80.1 1813.7,92 1804.6,120.2Z"/><path d="M1873.7,43.6 C1874.4,76.1 1881.2,91.6 1904.5,114.2 C1903.8,81.7 1897,66.2 1873.7,43.6Z"/><path d="M1926.3,132.2 C1957.7,116.4 1969.6,102.5 1980.4,69.1 C1949,84.9 1937.1,98.8 1926.3,132.2Z"/><path d="M1770,132.2 C1802.3,150.8 1821.9,154.4 1858.7,148.7 C1826.4,130.1 1806.8,126.5 1770,132.2Z"/><path d="M1867.7,156.3 C1889.8,169 1903,170.9 1927.8,165.3 C1905.7,152.6 1892.5,150.7 1867.7,156.3Z"/><path d="M1828.6,150.2 C1828,174.5 1833.3,185.4 1852.7,200 C1853.3,175.7 1848,164.8 1828.6,150.2Z"/><path d="M1753.5,138.2 C1752.6,160.4 1756.9,171 1773.1,186.3 C1774,164.1 1769.7,153.5 1753.5,138.2Z"/><path d="M1782.1,165.3 C1793.5,160.1 1797.1,155.1 1798.6,142.7 C1787.2,147.9 1783.6,152.9 1782.1,165.3Z"/><path d="M1954.8,18 C1966.4,35.1 1975.3,38.2 1995,32 C1983.4,14.9 1974.5,11.8 1954.8,18Z"/><path d="M1740,87.1 C1736.4,108.4 1739.3,118.9 1753.5,135.2 C1757.1,113.9 1754.2,103.4 1740,87.1Z"/><path d="M1590,247 C1613.3,274.5 1629.8,280.1 1665,272.6 C1641.7,245.1 1625.2,239.5 1590,247Z"/><path d="M1575,295 C1608,313.4 1624.5,310.8 1650,283 C1617,264.6 1600.5,267.2 1575,295Z"/><path d="M1668.3,283.1 C1668,315.3 1674.3,330.8 1696.8,353.8 C1697.1,321.6 1690.8,306.1 1668.3,283.1Z"/><path d="M1650.2,352.3 C1670.3,366.6 1682.9,369.5 1707.3,365.8 C1687.2,351.5 1674.6,348.6 1650.2,352.3Z"/><path d="M1657.8,373.3 C1682.7,386.5 1697.5,389.1 1725.4,385.3 C1700.5,372.1 1685.7,369.5 1657.8,373.3Z"/><path d="M1560,307 C1564.1,338.4 1574,348.9 1605,355 C1600.9,323.6 1591,313.1 1560,307Z"/><path d="M1797.1,209.5 C1794.5,244 1801.1,260.2 1827.1,283.1 C1829.7,248.6 1823.1,232.4 1797.1,209.5Z"/><path d="M1824.1,230.6 C1846.6,249.5 1861.2,253.5 1890.2,248.6 C1867.7,229.7 1853.1,225.7 1824.1,230.6Z"/><path d="M1759.5,265.1 C1757.2,297.3 1763.8,311.8 1789.6,331.2 C1791.9,299 1785.3,284.5 1759.5,265.1Z"/><path d="M1752,337.2 C1768.6,331.3 1773.9,324.7 1776,307.2 C1759.4,313.1 1754.1,319.7 1752,337.2Z"/><path d="M1788.1,355.3 C1808.4,347.4 1815.3,339.1 1819.6,317.7 C1799.3,325.6 1792.4,333.9 1788.1,355.3Z"/><path d="M1740,359.8 C1762.4,381.7 1777.3,385.7 1807.6,377.8 C1785.2,355.9 1770.3,351.9 1740,359.8Z"/><path d="M1918.8,250.1 C1945.9,270.3 1962.7,273.2 1995,263 C1967.9,242.8 1951.1,239.9 1918.8,250.1Z"/><path d="M1932.3,287.7 C1955.8,282.8 1965,275.2 1974.4,253.1 C1950.9,258 1941.7,265.6 1932.3,287.7Z"/><path d="M1947.3,301.2 C1949.2,327.2 1956.4,337.4 1980.4,347.7 C1978.5,321.7 1971.3,311.5 1947.3,301.2Z"/><path d="M1929.3,325.2 C1947.4,341.7 1959.3,345 1983.4,340.2 C1965.3,323.7 1953.4,320.4 1929.3,325.2Z"/><path d="M1520,60 C1524.3,90.9 1533.1,104.1 1560,120 C1555.7,89.1 1546.9,75.9 1520,60Z"/><path d="M1530,255 C1538.9,283.8 1549.9,291.5 1580,290 C1571.1,261.2 1560.1,253.5 1530,255Z"/><path d="M1515,350 C1520.6,378.9 1530.5,387.3 1560,388 C1554.4,359.1 1544.5,350.7 1515,350Z"/><path d="M1600,320 C1602.3,354.3 1611.1,369.3 1640,388 C1637.7,353.7 1628.9,338.7 1600,320Z"/><path d="M1548,40 C1551,80.7 1560.3,100.1 1590,128 C1587,87.3 1577.7,67.9 1548,40Z"/><path d="M1730,215 C1746.2,247 1759.4,261.3 1790,280 C1773.8,248 1760.6,233.7 1730,215Z"/></g>
<path d="M1981.9,310.2 C1974.6,323.8 1979.7,346.7 1992,356 C1999.3,342.4 1994.2,319.5 1981.9,310.2Z" fill="#4d7f9c" filter="url(#bl1)"/>
<path d="M1561.6,49.6 C1556,69.3 1566.5,101.6 1582.6,114.2 C1588.2,94.5 1577.7,62.2 1561.6,49.6Z" fill="#2b98c6" filter="url(#bl05)"/>
<path d="M1536.8,280.1 C1532.9,296.8 1542.6,323.9 1556.3,334.2 C1560.2,317.5 1550.5,290.4 1536.8,280.1Z" fill="#2aa6cd" filter="url(#bl05)"/>
<path d="M1556,6 C1554.4,14 1560.9,23 1569.1,24 C1570.7,16 1564.2,7 1556,6Z" fill="#35b4dc" filter="url(#bl05)"/>
<path d="M1514,258 C1511.3,264.2 1515.3,271.2 1522,272 C1524.7,265.8 1520.7,258.8 1514,258Z" fill="#3a88b8" filter="url(#bl05)"/>
<path d="M1620.2,15 C1613.9,34.9 1625.9,65 1644.2,75.1 C1650.5,55.2 1638.5,25.1 1620.2,15Z" fill="#2a78c8" opacity="0.8" filter="url(#bl1)"/>
<path d="M1666,90.1 C1686.6,85.2 1709.5,59.3 1711.8,38.3 C1691.2,43.2 1668.3,69.1 1666,90.1Z" fill="#2a78c8" opacity="0.8" filter="url(#bl1)"/>
<path d="M1742.3,268.9 C1760.8,265.2 1780,242.7 1780.6,223.8 C1762.1,227.5 1742.9,250 1742.3,268.9Z" fill="#2a78c8" opacity="0.8" filter="url(#bl1)"/>
<path d="M1510,331 C1515.2,348.1 1538.4,364.8 1556.3,364.3 C1551.1,347.2 1527.9,330.5 1510,331Z" fill="#2a78c8" opacity="0.8" filter="url(#bl1)"/>
<path d="M1552.6,362.8 C1563.9,376.6 1590.9,382.2 1606.7,374 C1595.4,360.2 1568.4,354.6 1552.6,362.8Z" fill="#2a78c8" opacity="0.8" filter="url(#bl1)"/>
<path d="M1578,97.5 C1574.4,103.3 1577,112.1 1583.2,115 C1586.8,109.2 1584.2,100.4 1578,97.5Z" fill="#2a78c8" opacity="0.8" filter="url(#bl1)"/>
<path d="M1565.5,14 C1562.2,17.9 1563.9,22.7 1569,23.5 C1572.3,19.6 1570.6,14.8 1565.5,14Z" fill="#2a78c8" opacity="0.8" filter="url(#bl1)"/>
<path d="M1620.2,15 C1615.9,34.1 1627.9,64.2 1644.2,75.1 C1648.5,56 1636.5,25.9 1620.2,15Z" fill="#22e6f2" filter="url(#bl05)"/>
<path d="M1622.1,19.8 C1619.8,35.4 1629.8,60.6 1642.3,70.3 C1644.6,54.7 1634.6,29.5 1622.1,19.8Z" fill="#fff" filter="url(#bl05)"/>
<path d="M1666,90.1 C1685,83.8 1707.9,57.9 1711.8,38.3 C1692.8,44.6 1669.9,70.5 1666,90.1Z" fill="#22e6f2" filter="url(#bl05)"/>
<path d="M1669.7,86 C1684.7,79.9 1703.9,58.1 1708.1,42.4 C1693.1,48.5 1673.9,70.3 1669.7,86Z" fill="#fff" filter="url(#bl05)"/>
<path d="M1742.3,268.9 C1759.2,263.8 1778.3,241.3 1780.6,223.8 C1763.7,228.9 1744.6,251.4 1742.3,268.9Z" fill="#22e6f2" filter="url(#bl05)"/>
<path d="M1745.4,265.3 C1758.7,260.3 1774.8,241.3 1777.5,227.4 C1764.2,232.4 1748.1,251.4 1745.4,265.3Z" fill="#fff" filter="url(#bl05)"/>
<path d="M1510,331 C1516.5,346.4 1539.6,363 1556.3,364.3 C1549.8,348.9 1526.7,332.3 1510,331Z" fill="#22e6f2" filter="url(#bl05)"/>
<path d="M1513.7,333.7 C1519.8,345.7 1539.2,359.7 1552.6,361.6 C1546.5,349.6 1527.1,335.6 1513.7,333.7Z" fill="#fff" filter="url(#bl05)"/>
<path d="M1552.6,362.8 C1564.3,374.5 1591.3,380.1 1606.7,374 C1595,362.3 1568,356.7 1552.6,362.8Z" fill="#22e6f2" filter="url(#bl05)"/>
<path d="M1556.9,363.7 C1567,372.4 1589.7,377.1 1602.4,373.1 C1592.3,364.4 1569.6,359.7 1556.9,363.7Z" fill="#fff" filter="url(#bl05)"/>
<path d="M1578,97.5 C1576.4,102.7 1579,111.5 1583.2,115 C1584.8,109.8 1582.2,101 1578,97.5Z" fill="#22e6f2" filter="url(#bl05)"/>
<path d="M1578.4,98.9 C1577.4,103.2 1579.6,110.5 1582.8,113.6 C1583.8,109.3 1581.6,102 1578.4,98.9Z" fill="#fff" filter="url(#bl05)"/>
<path d="M1565.5,14 C1564.2,17.2 1565.9,21.9 1569,23.5 C1570.3,20.3 1568.6,15.6 1565.5,14Z" fill="#22e6f2" filter="url(#bl05)"/>
<path d="M1565.8,14.8 C1564.9,17.3 1566.4,21.3 1568.7,22.7 C1569.6,20.2 1568.1,16.2 1565.8,14.8Z" fill="#fff" filter="url(#bl05)"/>
<path d="M1514,209.5 C1527.3,219.2 1555.8,222.5 1571,216.2 C1557.7,206.6 1529.2,203.2 1514,209.5Z" fill="#2a88d0" opacity="0.8" filter="url(#bl1)"/>
<path d="M1535.5,196.5 C1538,207 1551.1,215.6 1561.8,213.8 C1559.2,203.3 1546.1,194.7 1535.5,196.5Z" fill="#2a88d0" opacity="0.8" filter="url(#bl1)"/>
<path d="M1560,188 C1554.8,196.6 1559.3,207.9 1569,210.5 C1574.2,201.9 1569.7,190.6 1560,188Z" fill="#2a88d0" opacity="0.8" filter="url(#bl1)"/>
<path d="M1589.5,194 C1579.7,194 1571,203.7 1572.2,213.5 C1582.1,213.5 1590.7,203.8 1589.5,194Z" fill="#2a88d0" opacity="0.8" filter="url(#bl1)"/>
<path d="M1598,204 C1590,201.9 1580.2,207.9 1578.5,216 C1586.5,218.1 1596.3,212.1 1598,204Z" fill="#2a88d0" opacity="0.8" filter="url(#bl1)"/>
<path d="M1512,240 C1525.8,241.3 1546.8,230.8 1554,219 C1540.2,217.7 1519.2,228.2 1512,240Z" fill="#2a88d0" opacity="0.8" filter="url(#bl1)"/>
<path d="M1537,240 C1543.7,242.5 1551.9,238 1553.5,231 C1546.8,228.5 1538.6,233 1537,240Z" fill="#2a88d0" opacity="0.8" filter="url(#bl1)"/>
<path d="M1600.2,220.5 L1590.6,223.6 L1602.8,229.6 L1588.8,229.4 L1596.5,236.8 L1586.3,235 L1589.7,242 L1581.9,239.4 L1585.6,250.1 L1577.2,243.8 L1576.2,250.2 L1570.6,244.2 L1568.5,252 L1564.6,246.9 L1560.1,256.7 L1558.8,243.3 L1550.5,256.6 L1551.7,244.4 L1543.5,250.2 L1547.1,239.7 L1539.7,241.9 L1544.8,233.8 L1532.5,236.8 L1541.9,228.8 L1532.1,228.3 L1539.8,223.4 L1532.4,220.5 L1538.9,217.5 L1530.1,212.3 L1539,211.1 L1532.6,204.2 L1542.7,205.9 L1537.7,197.3 L1546.9,201.2 L1544.3,192 L1552.9,198.9 L1550.4,184.2 L1557.9,194.1 L1559.9,183.2 L1564.6,194.5 L1568.8,187.3 L1570.6,197 L1576.8,189.4 L1575.9,199.6 L1586.3,190.1 L1581.6,201.9 L1593.6,195.6 L1585.6,206.4 L1599.7,202.6 L1590.2,211.1 L1595.7,213.1 L1589.3,217.6Z" fill="#3fa8d8" opacity="0.8" filter="url(#bl1)" transform="translate(1564.6 220.5) scale(1.07) translate(-1564.6 -220.5)"/>
<path d="M1514,209.5 C1527.5,217.2 1556,220.6 1571,216.2 C1557.5,208.6 1529,205.2 1514,209.5Z" fill="#f4ffff" filter="url(#bl05)"/>
<path d="M1535.5,196.5 C1539.1,205.3 1552.2,213.9 1561.8,213.8 C1558.1,205 1545,196.3 1535.5,196.5Z" fill="#f4ffff" filter="url(#bl05)"/>
<path d="M1560,188 C1556.7,195.9 1561.2,207.1 1569,210.5 C1572.3,202.6 1567.8,191.4 1560,188Z" fill="#f4ffff" filter="url(#bl05)"/>
<path d="M1589.5,194 C1581.2,195.3 1572.5,205.1 1572.2,213.5 C1580.6,212.2 1589.2,202.4 1589.5,194Z" fill="#f4ffff" filter="url(#bl05)"/>
<path d="M1598,204 C1591,203.6 1581.3,209.6 1578.5,216 C1585.5,216.4 1595.2,210.4 1598,204Z" fill="#f4ffff" filter="url(#bl05)"/>
<path d="M1512,240 C1524.9,239.5 1545.9,229 1554,219 C1541.1,219.5 1520.1,230 1512,240Z" fill="#f4ffff" filter="url(#bl05)"/>
<path d="M1537,240 C1542.7,240.7 1551,236.2 1553.5,231 C1547.8,230.3 1539.5,234.8 1537,240Z" fill="#f4ffff" filter="url(#bl05)"/>
<path d="M1600.2,220.5 L1590.6,223.6 L1602.8,229.6 L1588.8,229.4 L1596.5,236.8 L1586.3,235 L1589.7,242 L1581.9,239.4 L1585.6,250.1 L1577.2,243.8 L1576.2,250.2 L1570.6,244.2 L1568.5,252 L1564.6,246.9 L1560.1,256.7 L1558.8,243.3 L1550.5,256.6 L1551.7,244.4 L1543.5,250.2 L1547.1,239.7 L1539.7,241.9 L1544.8,233.8 L1532.5,236.8 L1541.9,228.8 L1532.1,228.3 L1539.8,223.4 L1532.4,220.5 L1538.9,217.5 L1530.1,212.3 L1539,211.1 L1532.6,204.2 L1542.7,205.9 L1537.7,197.3 L1546.9,201.2 L1544.3,192 L1552.9,198.9 L1550.4,184.2 L1557.9,194.1 L1559.9,183.2 L1564.6,194.5 L1568.8,187.3 L1570.6,197 L1576.8,189.4 L1575.9,199.6 L1586.3,190.1 L1581.6,201.9 L1593.6,195.6 L1585.6,206.4 L1599.7,202.6 L1590.2,211.1 L1595.7,213.1 L1589.3,217.6Z" fill="#f8fbe8" filter="url(#bl05)"/>
<circle cx="1564.6" cy="220.5" r="27.5" fill="url(#dFl)" filter="url(#bl05)"/>
<circle cx="1564.6" cy="220.0" r="17" fill="#000" filter="url(#bl1)"/>
<circle cx="1839.3" cy="224.7" r="3.2" fill="#3a2a20"/><circle cx="1839.3" cy="224.5" r="2" fill="#fff4d0"/>
<circle cx="1806.2" cy="366.6" r="2.6" fill="#3a3a30"/><circle cx="1806.2" cy="366.6" r="1.6" fill="#e8f4c0"/>
</g>
<path d="M1696.1,178.0 L1706.8,137.0" fill="none" stroke="#ffee00" stroke-width="1.6" stroke-dasharray="6.5 3.2"/><path d="M1708.8,129.5 L1710.2,140.2 L1706.8,137.0 L1702.3,138.1Z" fill="#ffee00"/>
<path d="M1660.0,199.8 L1624.6,211.5" fill="none" stroke="#ffee00" stroke-width="1.6" stroke-dasharray="6.5 3.2"/><path d="M1617.2,214.0 L1625.4,207.0 L1624.6,211.5 L1628.0,214.7Z" fill="#ffee00"/>
<path d="M1708.8,207.3 L1733.6,242.2" fill="none" stroke="#ffee00" stroke-width="1.6" stroke-dasharray="6.5 3.2"/><path d="M1738.1,248.6 L1729.0,242.8 L1733.6,242.2 L1735.7,238.1Z" fill="#ffee00"/>
<text x="1662.40" y="203.60" font-size="26.30" fill="#ffee00">CrOCl nanosheets</text>
<text x="1874.20" y="45.90" font-size="30.80" fill="#fff">SiO<tspan font-size="26.5" dy="-2.16" stroke="#fff" stroke-width="0.3">₂</tspan><tspan dy="2.16">/Si</tspan></text>
<text x="1902.00" y="364.40" font-size="26.70" fill="#fff">15 μm</text>
<rect x="1900.8" y="375.2" width="76.3" height="4.8" fill="#fff"/>
<text x="1486.80" y="22.10" font-size="29.50" fill="#000" font-weight="bold">d</text>
</g>
<g id="panel_e">
<g clip-path="url(#eI1)"><rect x="998" y="455" width="64" height="96" fill="#b17c5a"/><path d="M1005.5,461.5 L1009,461 L1019,474 L1036,496 L1044,519 L1049,548 L1040,546 L1028,533 L1016,515 L1011,496 L1008,478Z" fill="#a5817c" filter="url(#bl1)"/></g>
<g clip-path="url(#eI2)"><rect x="1073" y="455" width="63" height="96" fill="#b07a58"/><path d="M1073,455 H1090 L1112,490 L1128,530 L1136,525 V551 H1096 L1090,530 L1078,500 L1073,505Z" fill="#8f7478" filter="url(#bl1)"/><path d="M1073,535 L1088,522 L1096,551 H1073Z" fill="#b07a58" filter="url(#bl05)"/><path d="M1098,540 L1106,551 H1094Z" fill="#b07a58"/><path d="M1081,457 L1086,457 L1098,472 L1112,495 L1119,515 L1126,548 L1120,551 L1110,544 L1100,530 L1090,510 L1085,485 L1082,470Z" fill="#5f88b2" filter="url(#bl05)"/></g>
<g clip-path="url(#eI3)"><rect x="1147" y="455" width="64" height="96" fill="#6e4f47"/><path d="M1175,455 H1210.5 V500 L1195,480Z" fill="#7a5448" opacity="0.8"/><path d="M1155,449 C1155.9,501.5 1166.3,522.9 1207,556 C1206.1,503.5 1195.7,482.1 1155,449Z" fill="#2a4a98" filter="url(#bl1)"/><path d="M1157,452 C1159.6,500.3 1169.2,520.5 1205,553 C1202.4,504.7 1192.8,484.5 1157,452Z" fill="#38dce0" filter="url(#bl1)"/><path d="M1160,458 C1164.7,499.7 1173.1,517.7 1202,548 C1197.3,506.3 1188.9,488.3 1160,458Z" fill="#f0fff4" filter="url(#bl1)"/><ellipse cx="1179.5" cy="500.5" rx="2.4" ry="5" fill="#f4f020" transform="rotate(-20 1179.5 500.5)" filter="url(#bl1)"/></g>
<g clip-path="url(#eI4)"><rect x="1221" y="455" width="65" height="96" fill="#564a4a"/><path d="M1221,510 L1240,551 H1221Z M1262,456 H1285 V480Z" fill="#6a4c44" opacity="0.6"/><path d="M1226,450 C1227.9,502.4 1238.7,523.6 1280,556 C1278.1,503.6 1267.3,482.4 1226,450Z" fill="#38c8d8" filter="url(#bl1)"/><path d="M1229,455 C1232.6,501.2 1242.2,520.4 1277,551 C1273.4,504.8 1263.8,485.6 1229,455Z" fill="#f4fff0" filter="url(#bl1)"/><path d="M1237,474 C1239.4,502.6 1245.6,514.2 1268,532 C1265.6,503.4 1259.4,491.8 1237,474Z" fill="#f8f020" filter="url(#bl1)"/><path d="M1242,483 C1243.8,501.5 1247.8,509.1 1262,521 C1260.2,502.5 1256.2,494.9 1242,483Z" fill="#f070c8" filter="url(#bl1)"/><path d="M1247,492 C1247.8,500.9 1249.6,504.7 1256,511 C1255.2,502.1 1253.4,498.3 1247,492Z" fill="#60c0e8" filter="url(#bl1)"/></g>
<text x="1003.80" y="545.80" font-size="22.40" fill="#fff">2 nm</text>
<text x="1078.20" y="545.80" font-size="22.40" fill="#fff">8 nm</text>
<text x="1146.60" y="545.80" font-size="22.40" fill="#fff">32 nm</text>
<text x="1220.70" y="545.80" font-size="22.40" fill="#fff">68 nm</text>
<g clip-path="url(#eLow)" fill="none" stroke-linejoin="round" stroke-width="4.6">
<path d="M969.9,769.8 L970.6,770.0 L971.4,769.7 L972.1,769.8 L972.9,769.9 L973.6,769.3 L974.4,769.3 L975.1,769.9 L975.9,770.2 L976.6,769.7 L977.4,769.8 L978.1,770.1 L978.9,770.1 L979.6,770.2 L980.4,769.8 L981.1,769.8 L981.9,770.0 L982.6,770.3 L983.4,770.7 L984.1,770.3 L984.9,769.8 L985.6,769.9 L986.4,770.2 L987.1,769.9 L987.9,770.5 L988.6,770.9 L989.4,770.8 L990.1,770.4 L990.9,770.4 L991.6,770.3 L992.4,769.7 L993.1,770.3 L993.9,770.5 L994.6,769.7 L995.4,769.4 L996.1,770.3 L996.9,771.2 L997.6,771.2 L998.4,770.6 L999.1,770.6 L999.9,770.3 L1000.6,770.3 L1001.4,770.2 L1002.1,770.1 L1002.9,770.4 L1003.6,770.7 L1004.4,770.7 L1005.1,770.8 L1005.9,770.8 L1006.6,770.7 L1007.4,771.0 L1008.1,770.3 L1008.9,770.1 L1009.6,770.6 L1010.4,770.4 L1011.1,770.5 L1011.9,770.3 L1012.6,770.4 L1013.4,771.0 L1014.1,771.0 L1014.9,771.5 L1015.6,771.6 L1016.4,770.9 L1017.1,770.6 L1017.9,770.7 L1018.6,770.6 L1019.4,770.9 L1020.1,771.0 L1020.9,770.7 L1021.6,771.5 L1022.4,771.8 L1023.1,771.3 L1023.9,771.4 L1024.7,771.3 L1025.4,771.2 L1026.2,771.2 L1026.9,770.7 L1027.7,770.9 L1028.4,771.4 L1029.2,771.2 L1029.9,770.6 L1030.7,770.6 L1031.4,770.3 L1032.2,770.3 L1032.9,770.6 L1033.7,771.4 L1034.4,771.6 L1035.2,770.6 L1035.9,771.0 L1036.7,771.4 L1037.4,771.2 L1038.2,771.3 L1038.9,771.4 L1039.7,771.2 L1040.4,771.4 L1041.2,771.7 L1041.9,771.3 L1042.7,771.1 L1043.4,771.0 L1044.2,771.2 L1044.9,771.7 L1045.7,771.8 L1046.4,771.8 L1047.2,771.6 L1047.9,771.8 L1048.7,771.8 L1049.4,771.4 L1050.2,771.4 L1050.9,771.4 L1051.7,771.5 L1052.4,772.0 L1053.2,772.2 L1053.9,771.2 L1054.7,771.0 L1055.4,771.1 L1056.2,771.4 L1056.9,772.3 L1057.7,771.9 L1058.4,771.7 L1059.2,771.8 L1059.9,771.7 L1060.7,772.3 L1061.4,772.1 L1062.2,771.3 L1062.9,771.6 L1063.7,772.1 L1064.4,772.1 L1065.2,772.3 L1065.9,771.9 L1066.7,771.1 L1067.4,771.6 L1068.2,772.0 L1068.9,771.4 L1069.7,771.2 L1070.4,771.9 L1071.2,772.3 L1071.9,772.1 L1072.7,772.3 L1073.4,772.0 L1074.2,771.5 L1074.9,771.4 L1075.7,771.5 L1076.4,771.6 L1077.2,771.7 L1077.9,771.8 L1078.7,771.9 L1079.4,771.9 L1080.2,772.2 L1080.9,772.6 L1081.7,772.9 L1082.4,772.5 L1083.2,772.1 L1083.9,772.0 L1084.7,772.2 L1085.4,772.7 L1086.2,772.3 L1086.9,772.0 L1087.7,772.1 L1088.4,771.8 L1089.2,772.0 L1089.9,771.9 L1090.7,772.1 L1091.4,771.8 L1092.2,771.3 L1092.9,771.7 L1093.7,771.6 L1094.4,771.7 L1095.2,771.5 L1095.9,771.4 L1096.7,771.4 L1097.4,771.4 L1098.2,771.9 L1098.9,772.6 L1099.7,772.7 L1100.4,772.5 L1101.2,772.2 L1101.9,772.4 L1102.7,772.3 L1103.4,771.6 L1104.2,771.3 L1104.9,771.4 L1105.7,772.1 L1106.4,771.8 L1107.2,771.4 L1107.9,771.4 L1108.7,771.4 L1109.4,771.4 L1110.2,771.1 L1110.9,771.6 L1111.7,771.4 L1112.4,770.8 L1113.2,771.4 L1113.9,772.0 L1114.7,771.8 L1115.4,771.4 L1116.2,771.5 L1116.9,771.5 L1117.7,771.7 L1118.4,771.6 L1119.2,771.1 L1119.9,771.1 L1120.7,771.4 L1121.4,771.8 L1122.2,772.2 L1122.9,771.8 L1123.7,770.9 L1124.4,770.6 L1125.2,771.6 L1125.9,771.9 L1126.7,771.4 L1127.4,772.0 L1128.2,771.7 L1128.9,771.1 L1129.7,771.1 L1130.4,770.8 L1131.2,771.2 L1131.9,771.8 L1132.7,771.0 L1133.4,771.0 L1134.2,771.5 L1134.9,771.2 L1135.7,771.3 L1136.4,770.9 L1137.2,770.7 L1137.9,770.8 L1138.7,771.4 L1139.4,772.3 L1140.2,771.8 L1140.9,770.8 L1141.7,771.1 L1142.4,771.4 L1143.2,771.5 L1143.9,772.1 L1144.7,772.1 L1145.4,771.4 L1146.2,770.7 L1146.9,770.6 L1147.7,770.8 L1148.4,770.7 L1149.2,771.0 L1149.9,771.5 L1150.7,771.1 L1151.4,770.7 L1152.2,770.9 L1152.9,771.3 L1153.7,770.6 L1154.4,770.2 L1155.2,770.6 L1155.9,770.3 L1156.7,770.2 L1157.4,770.4 L1158.2,771.0 L1158.9,770.9 L1159.7,770.2 L1160.4,769.8 L1161.2,770.0 L1161.9,770.1 L1162.7,769.8 L1163.4,770.2 L1164.2,770.1 L1164.9,769.8 L1165.7,769.6 L1166.4,769.9 L1167.2,769.9 L1167.9,769.6 L1168.7,769.7 L1169.4,769.4 L1170.2,769.2 L1170.9,769.1 L1171.7,769.2 L1172.4,769.3 L1173.2,768.3 L1173.9,768.0 L1174.7,768.6 L1175.4,768.5 L1176.2,768.0 L1176.9,768.3 L1177.7,768.1 L1178.4,767.8 L1179.2,768.4 L1179.9,768.7 L1180.7,768.4 L1181.4,768.0 L1182.2,768.9 L1182.9,769.2 L1183.7,768.9 L1184.4,770.0 L1185.2,770.1 L1185.9,768.9 L1186.7,769.9 L1187.4,770.9 L1188.2,770.3 L1188.9,770.9 L1189.7,770.8 L1190.4,770.5 L1191.2,770.6 L1191.9,770.1 L1192.7,770.3 L1193.4,770.7 L1194.2,770.9 L1194.9,771.0 L1195.7,770.5 L1196.4,770.2 L1197.2,770.9 L1197.9,771.1 L1198.7,770.6 L1199.4,770.8 L1200.2,771.2 L1200.9,771.2 L1201.7,770.7 L1202.4,770.2 L1203.2,770.6 L1203.9,771.1 L1204.7,770.6 L1205.4,770.1 L1206.2,770.4 L1206.9,770.9 L1207.7,770.7 L1208.4,771.2 L1209.2,771.5 L1209.9,770.9 L1210.7,771.6 L1211.4,771.6 L1212.2,771.2 L1212.9,771.0 L1213.7,770.9 L1214.4,770.7 L1215.2,770.6 L1215.9,770.9 L1216.7,770.7 L1217.4,771.0 L1218.2,771.4 L1218.9,770.6 L1219.7,770.8 L1220.4,771.0 L1221.2,771.0 L1221.9,771.1 L1222.7,770.8 L1223.4,771.2 L1224.2,771.9 L1224.9,771.3 L1225.7,770.7 L1226.4,771.1 L1227.2,771.5 L1227.9,771.6 L1228.7,771.4 L1229.4,771.9 L1230.2,772.0 L1230.9,771.5 L1231.7,771.2 L1232.4,771.3 L1233.2,771.4 L1233.9,771.3 L1234.7,771.3 L1235.4,771.7 L1236.2,771.6 L1236.9,771.3 L1237.7,771.6 L1238.4,771.9 L1239.2,771.5 L1239.9,771.0 L1240.7,771.8 L1241.4,772.1 L1242.2,771.4 L1242.9,771.5 L1243.7,772.3 L1244.4,772.1 L1245.2,771.4 L1245.9,771.5 L1246.7,772.3 L1247.4,772.2 L1248.2,771.9 L1248.9,772.4 L1249.7,772.4 L1250.4,772.1 L1251.2,772.1 L1251.9,772.3 L1252.7,772.3 L1253.4,772.4 L1254.2,772.2 L1254.9,771.6 L1255.7,771.8 L1256.4,772.3 L1257.2,771.5 L1257.9,771.6 L1258.7,772.2 L1259.4,772.2 L1260.2,771.5 L1260.9,771.3 L1261.7,771.7 L1262.4,771.9 L1263.2,771.5 L1263.9,771.7 L1264.7,772.5 L1265.4,772.6 L1266.2,772.5 L1266.9,772.3 L1267.7,772.6 L1268.4,772.8 L1269.2,772.4 L1269.9,772.3 L1270.7,772.7 L1271.4,772.9 L1272.2,772.9 L1272.9,772.3 L1273.7,772.1 L1274.4,772.4 L1275.2,772.6 L1275.9,772.9 L1276.7,772.3 L1277.4,771.8 L1278.2,772.0 L1278.9,772.5 L1279.7,773.1 L1280.4,772.9 L1281.2,772.9 L1281.9,772.7 L1282.7,772.6 L1283.4,772.8 L1284.2,772.7 L1284.9,772.7 L1285.7,772.9 L1286.4,773.3 L1287.2,772.6 L1287.9,772.2 L1288.7,772.6 L1289.4,772.9 L1290.2,772.5 L1290.9,772.1 L1291.7,772.4 L1292.4,773.2 L1293.2,773.1 L1293.9,772.5 L1294.7,772.7 L1295.4,772.8 L1296.2,772.9 L1296.9,772.9 L1297.7,772.8 L1298.4,772.9 L1299.2,773.1 L1299.9,773.1 L1300.7,773.2 L1301.4,772.8 L1302.2,772.7 L1302.9,773.1 L1303.7,773.3 L1304.4,773.4 L1305.2,773.7 L1305.9,773.3 L1306.7,772.8 L1307.4,773.1 L1308.2,773.0 L1308.9,772.9 L1309.7,772.9 L1310.4,772.9 L1311.2,773.7 L1311.9,773.8 L1312.7,773.6 L1313.4,773.4 L1314.2,773.0 L1314.9,773.1 L1315.7,773.1 L1316.4,773.8 L1317.2,774.2 L1317.9,774.0 L1318.7,773.6 L1319.4,773.4 L1320.2,773.3 L1320.9,773.7 L1321.7,773.2 L1322.4,772.7 L1323.2,772.9 L1323.9,773.2 L1324.7,773.2 L1325.4,773.1 L1326.2,773.1 L1326.9,772.6 L1327.7,773.3 L1328.4,773.9 L1329.2,773.3 L1329.9,772.5 L1330.7,772.4 L1331.4,773.1 L1332.2,773.3 L1332.9,772.9 L1333.7,773.0 L1334.4,773.6 L1335.2,773.1 L1335.9,772.7 L1336.7,772.8 L1337.4,773.1 L1338.2,773.3 L1338.9,772.8 L1339.7,772.3 L1340.4,772.6 L1341.2,773.0 L1341.9,772.8 L1342.7,772.8 L1343.4,772.8 L1344.2,772.3 L1344.9,771.8 L1345.7,772.3 L1346.4,772.9 L1347.2,772.7 L1347.9,772.0 L1348.7,771.6 L1349.4,771.3 L1350.2,771.2 L1350.9,771.0 L1351.7,771.0 L1352.4,771.0 L1353.2,771.4 L1353.9,771.2 L1354.7,770.8 L1355.4,770.5 L1356.2,770.2 L1356.9,770.3 L1357.7,768.9 L1358.4,766.6 L1359.2,765.7 L1359.9,764.6 L1360.7,762.9 L1361.4,761.5 L1362.2,760.1 L1362.9,758.1 L1363.7,754.7 L1364.4,749.7 L1365.2,744.1 L1365.9,737.9 L1366.7,730.8 L1367.4,722.1 L1368.2,709.2 L1368.9,690.9 L1369.7,668.5 L1370.4,643.8 L1371.2,619.9 L1371.9,593.9 L1372.7,561.1 L1373.4,531.3 L1374.2,528.8 L1374.9,557.6 L1375.7,591.9 L1376.4,618.3 L1377.2,642.1 L1377.9,667.1 L1378.7,690.0 L1379.4,706.6 L1380.2,718.0 L1380.9,726.8 L1381.7,734.1 L1382.4,740.2 L1383.2,745.4 L1383.9,749.0 L1384.7,751.1 L1385.4,752.9 L1386.2,753.9 L1386.9,755.2 L1387.7,757.0 L1388.4,757.2 L1389.2,758.3 L1389.9,759.5 L1390.7,760.3 L1391.4,761.1 L1392.2,761.5 L1392.9,761.9 L1393.7,762.4 L1394.4,763.2 L1395.2,763.9 L1395.9,764.6 L1396.7,764.4 L1397.4,764.8 L1398.2,765.4 L1398.9,765.8 L1399.7,767.0 L1400.4,767.8 L1401.2,767.9 L1401.9,767.6 L1402.7,767.8 L1403.4,768.8 L1404.2,768.9 L1404.9,768.0 L1405.7,767.8 L1406.4,768.0 L1407.2,768.8 L1407.9,769.2 L1408.7,768.8 L1409.4,769.1 L1410.2,769.8 L1410.9,769.8 L1411.7,769.4 L1412.4,769.6 L1413.2,770.2 L1413.9,769.8 L1414.7,769.3 L1415.4,770.5 L1416.2,771.1 L1416.9,770.8 L1417.7,770.4 L1418.4,770.2 L1419.2,770.6 L1419.9,771.2 L1420.7,771.4 L1421.4,770.6 L1422.2,771.0 L1422.9,771.9 L1423.7,771.8 L1424.4,771.0 L1425.2,770.6 L1425.9,770.9 L1426.7,771.1 L1427.4,771.7 L1428.2,771.3 L1428.9,770.7 L1429.7,771.1 L1430.4,771.1 L1431.2,771.0 L1431.9,770.8 L1432.7,770.9 L1433.4,771.3 L1434.2,771.3 L1434.9,771.7 L1435.7,771.6 L1436.4,771.3 L1437.2,771.5 L1437.9,771.4 L1438.7,771.5 L1439.4,771.1 L1440.2,770.8 L1440.9,771.5 L1441.7,771.8 L1442.4,771.9 L1443.2,771.5 L1443.9,771.2 L1444.7,771.5" stroke="#ff3b3b"/>
<path d="M969.9,725.0 L970.6,725.2 L971.4,724.7 L972.1,724.0 L972.9,723.9 L973.6,724.4 L974.4,724.5 L975.1,724.4 L975.9,724.4 L976.6,724.5 L977.4,724.1 L978.1,724.5 L978.9,725.2 L979.6,725.4 L980.4,725.2 L981.1,724.6 L981.9,724.4 L982.6,724.1 L983.4,724.6 L984.1,724.7 L984.9,724.1 L985.6,724.4 L986.4,725.1 L987.1,725.3 L987.9,724.6 L988.6,724.3 L989.4,724.8 L990.1,725.0 L990.9,724.6 L991.6,724.6 L992.4,725.0 L993.1,725.7 L993.9,725.1 L994.6,724.4 L995.4,724.5 L996.1,724.0 L996.9,724.0 L997.6,724.4 L998.4,725.0 L999.1,725.3 L999.9,724.5 L1000.6,724.7 L1001.4,725.1 L1002.1,724.5 L1002.9,724.4 L1003.6,724.7 L1004.4,724.7 L1005.1,724.9 L1005.9,724.5 L1006.6,724.4 L1007.4,725.4 L1008.1,725.7 L1008.9,725.7 L1009.6,725.8 L1010.4,725.9 L1011.1,725.3 L1011.9,725.1 L1012.6,724.9 L1013.4,724.5 L1014.1,724.5 L1014.9,725.0 L1015.6,726.0 L1016.4,725.6 L1017.1,725.8 L1017.9,725.6 L1018.6,725.2 L1019.4,725.4 L1020.1,725.1 L1020.9,725.2 L1021.6,726.1 L1022.4,725.7 L1023.1,725.4 L1023.9,725.6 L1024.7,725.9 L1025.4,726.1 L1026.2,725.8 L1026.9,725.8 L1027.7,725.7 L1028.4,725.2 L1029.2,725.5 L1029.9,725.5 L1030.7,725.2 L1031.4,725.8 L1032.2,725.5 L1032.9,725.4 L1033.7,726.0 L1034.4,725.9 L1035.2,725.4 L1035.9,724.6 L1036.7,724.5 L1037.4,725.2 L1038.2,725.4 L1038.9,725.3 L1039.7,725.5 L1040.4,725.7 L1041.2,725.5 L1041.9,725.9 L1042.7,725.7 L1043.4,725.4 L1044.2,726.3 L1044.9,726.6 L1045.7,725.7 L1046.4,725.4 L1047.2,726.0 L1047.9,726.3 L1048.7,726.2 L1049.4,725.8 L1050.2,725.5 L1050.9,725.9 L1051.7,726.2 L1052.4,725.9 L1053.2,725.7 L1053.9,725.8 L1054.7,726.0 L1055.4,726.0 L1056.2,725.9 L1056.9,726.4 L1057.7,726.4 L1058.4,725.9 L1059.2,726.2 L1059.9,726.2 L1060.7,726.0 L1061.4,726.0 L1062.2,725.4 L1062.9,725.7 L1063.7,726.2 L1064.4,726.2 L1065.2,726.2 L1065.9,726.0 L1066.7,725.7 L1067.4,725.9 L1068.2,726.7 L1068.9,726.9 L1069.7,726.3 L1070.4,726.2 L1071.2,726.2 L1071.9,725.9 L1072.7,726.3 L1073.4,726.3 L1074.2,725.6 L1074.9,725.5 L1075.7,726.0 L1076.4,726.3 L1077.2,726.6 L1077.9,726.4 L1078.7,726.3 L1079.4,726.6 L1080.2,726.3 L1080.9,726.4 L1081.7,726.6 L1082.4,726.1 L1083.2,726.2 L1083.9,726.1 L1084.7,725.7 L1085.4,726.0 L1086.2,726.0 L1086.9,725.7 L1087.7,725.5 L1088.4,725.5 L1089.2,725.5 L1089.9,725.0 L1090.7,724.3 L1091.4,723.9 L1092.2,723.0 L1092.9,723.6 L1093.7,724.1 L1094.4,723.5 L1095.2,724.4 L1095.9,724.9 L1096.7,724.9 L1097.4,725.7 L1098.2,725.6 L1098.9,725.3 L1099.7,725.4 L1100.4,725.5 L1101.2,725.3 L1101.9,725.0 L1102.7,725.4 L1103.4,726.1 L1104.2,726.3 L1104.9,726.5 L1105.7,726.5 L1106.4,725.9 L1107.2,725.7 L1107.9,725.2 L1108.7,725.0 L1109.4,725.3 L1110.2,725.6 L1110.9,726.1 L1111.7,725.8 L1112.4,725.5 L1113.2,725.2 L1113.9,725.3 L1114.7,725.8 L1115.4,725.9 L1116.2,725.6 L1116.9,726.1 L1117.7,726.6 L1118.4,726.0 L1119.2,725.5 L1119.9,725.4 L1120.7,725.6 L1121.4,725.7 L1122.2,725.8 L1122.9,726.0 L1123.7,726.2 L1124.4,726.3 L1125.2,725.9 L1125.9,725.7 L1126.7,725.6 L1127.4,725.3 L1128.2,725.9 L1128.9,726.0 L1129.7,726.0 L1130.4,726.0 L1131.2,725.5 L1131.9,725.9 L1132.7,725.8 L1133.4,725.6 L1134.2,725.5 L1134.9,725.2 L1135.7,725.2 L1136.4,725.2 L1137.2,725.7 L1137.9,725.8 L1138.7,725.8 L1139.4,725.1 L1140.2,724.6 L1140.9,725.5 L1141.7,725.4 L1142.4,725.5 L1143.2,725.8 L1143.9,725.4 L1144.7,725.3 L1145.4,726.2 L1146.2,726.1 L1146.9,725.4 L1147.7,725.2 L1148.4,725.1 L1149.2,724.8 L1149.9,724.7 L1150.7,725.7 L1151.4,726.0 L1152.2,725.5 L1152.9,725.4 L1153.7,725.7 L1154.4,725.5 L1155.2,725.5 L1155.9,725.6 L1156.7,725.0 L1157.4,725.1 L1158.2,724.4 L1158.9,723.6 L1159.7,724.3 L1160.4,724.2 L1161.2,724.0 L1161.9,724.0 L1162.7,723.8 L1163.4,724.7 L1164.2,725.0 L1164.9,724.2 L1165.7,724.3 L1166.4,724.2 L1167.2,724.0 L1167.9,724.0 L1168.7,724.1 L1169.4,723.5 L1170.2,723.2 L1170.9,723.5 L1171.7,722.8 L1172.4,722.9 L1173.2,722.8 L1173.9,722.9 L1174.7,723.1 L1175.4,722.7 L1176.2,722.5 L1176.9,722.5 L1177.7,722.0 L1178.4,721.8 L1179.2,722.2 L1179.9,722.3 L1180.7,722.6 L1181.4,722.9 L1182.2,722.8 L1182.9,723.3 L1183.7,724.4 L1184.4,724.0 L1185.2,723.5 L1185.9,723.8 L1186.7,724.2 L1187.4,724.8 L1188.2,724.2 L1188.9,723.5 L1189.7,723.6 L1190.4,723.6 L1191.2,723.4 L1191.9,723.9 L1192.7,724.1 L1193.4,724.4 L1194.2,725.1 L1194.9,724.4 L1195.7,723.9 L1196.4,724.0 L1197.2,724.7 L1197.9,724.7 L1198.7,723.9 L1199.4,724.2 L1200.2,724.7 L1200.9,724.6 L1201.7,725.0 L1202.4,725.3 L1203.2,725.0 L1203.9,724.7 L1204.7,724.6 L1205.4,724.8 L1206.2,724.2 L1206.9,724.4 L1207.7,724.6 L1208.4,724.5 L1209.2,724.6 L1209.9,725.3 L1210.7,725.8 L1211.4,725.5 L1212.2,725.7 L1212.9,725.1 L1213.7,724.3 L1214.4,724.6 L1215.2,725.5 L1215.9,725.7 L1216.7,725.7 L1217.4,725.9 L1218.2,725.3 L1218.9,725.2 L1219.7,726.2 L1220.4,726.0 L1221.2,724.9 L1221.9,725.0 L1222.7,725.5 L1223.4,725.7 L1224.2,725.6 L1224.9,725.6 L1225.7,725.2 L1226.4,725.5 L1227.2,726.6 L1227.9,726.8 L1228.7,725.9 L1229.4,725.7 L1230.2,725.3 L1230.9,725.3 L1231.7,726.2 L1232.4,725.8 L1233.2,726.0 L1233.9,726.3 L1234.7,726.5 L1235.4,726.6 L1236.2,726.4 L1236.9,725.9 L1237.7,725.5 L1238.4,726.0 L1239.2,726.4 L1239.9,726.6 L1240.7,726.9 L1241.4,726.7 L1242.2,726.3 L1242.9,726.6 L1243.7,726.7 L1244.4,726.8 L1245.2,726.7 L1245.9,727.0 L1246.7,727.1 L1247.4,727.0 L1248.2,727.1 L1248.9,727.3 L1249.7,726.9 L1250.4,726.7 L1251.2,727.0 L1251.9,726.9 L1252.7,727.4 L1253.4,727.0 L1254.2,726.3 L1254.9,726.4 L1255.7,726.8 L1256.4,726.6 L1257.2,726.5 L1257.9,726.7 L1258.7,726.4 L1259.4,726.7 L1260.2,727.1 L1260.9,727.0 L1261.7,726.8 L1262.4,727.0 L1263.2,727.0 L1263.9,726.3 L1264.7,726.2 L1265.4,727.0 L1266.2,727.4 L1266.9,727.9 L1267.7,727.7 L1268.4,727.1 L1269.2,726.6 L1269.9,726.5 L1270.7,726.9 L1271.4,727.1 L1272.2,726.4 L1272.9,725.8 L1273.7,725.9 L1274.4,725.9 L1275.2,725.1 L1275.9,723.7 L1276.7,722.6 L1277.4,722.1 L1278.2,722.0 L1278.9,722.8 L1279.7,724.1 L1280.4,724.9 L1281.2,725.7 L1281.9,725.9 L1282.7,726.1 L1283.4,726.5 L1284.2,726.7 L1284.9,727.3 L1285.7,727.5 L1286.4,726.7 L1287.2,726.8 L1287.9,727.2 L1288.7,726.9 L1289.4,727.0 L1290.2,727.7 L1290.9,728.5 L1291.7,728.1 L1292.4,728.0 L1293.2,728.5 L1293.9,727.9 L1294.7,727.6 L1295.4,728.0 L1296.2,728.0 L1296.9,727.6 L1297.7,727.5 L1298.4,728.3 L1299.2,728.8 L1299.9,729.0 L1300.7,728.5 L1301.4,728.6 L1302.2,728.9 L1302.9,728.0 L1303.7,728.0 L1304.4,728.3 L1305.2,728.2 L1305.9,728.3 L1306.7,728.4 L1307.4,728.5 L1308.2,728.0 L1308.9,728.2 L1309.7,728.3 L1310.4,727.8 L1311.2,727.9 L1311.9,727.8 L1312.7,727.1 L1313.4,726.9 L1314.2,726.4 L1314.9,726.3 L1315.7,727.1 L1316.4,727.0 L1317.2,726.6 L1317.9,726.7 L1318.7,726.8 L1319.4,727.7 L1320.2,728.4 L1320.9,727.9 L1321.7,727.8 L1322.4,727.9 L1323.2,727.8 L1323.9,727.8 L1324.7,727.9 L1325.4,728.3 L1326.2,728.7 L1326.9,728.8 L1327.7,728.6 L1328.4,728.1 L1329.2,728.2 L1329.9,728.3 L1330.7,728.6 L1331.4,729.0 L1332.2,729.0 L1332.9,728.7 L1333.7,728.0 L1334.4,728.3 L1335.2,729.2 L1335.9,728.4 L1336.7,728.1 L1337.4,728.8 L1338.2,728.5 L1338.9,728.6 L1339.7,728.7 L1340.4,727.9 L1341.2,728.3 L1341.9,728.6 L1342.7,728.0 L1343.4,728.1 L1344.2,727.7 L1344.9,727.9 L1345.7,728.1 L1346.4,727.6 L1347.2,727.7 L1347.9,727.6 L1348.7,727.9 L1349.4,727.5 L1350.2,727.4 L1350.9,727.5 L1351.7,727.0 L1352.4,726.8 L1353.2,726.5 L1353.9,725.9 L1354.7,726.0 L1355.4,725.7 L1356.2,725.2 L1356.9,724.9 L1357.7,723.8 L1358.4,722.6 L1359.2,721.9 L1359.9,721.4 L1360.7,719.8 L1361.4,717.4 L1362.2,715.4 L1362.9,712.5 L1363.7,708.2 L1364.4,702.8 L1365.2,694.3 L1365.9,680.2 L1366.7,662.1 L1367.4,645.0 L1368.2,629.8 L1368.9,614.7 L1369.7,597.4 L1370.4,573.1 L1371.2,531.9 L1371.9,466.6 L1372.7,400.0 L1373.4,400.0 L1374.2,400.0 L1374.9,400.0 L1375.7,444.3 L1376.4,512.9 L1377.2,562.0 L1377.9,592.5 L1378.7,612.4 L1379.4,628.4 L1380.2,642.8 L1380.9,656.5 L1381.7,670.4 L1382.4,683.2 L1383.2,692.9 L1383.9,699.0 L1384.7,703.7 L1385.4,707.6 L1386.2,709.6 L1386.9,710.9 L1387.7,711.7 L1388.4,712.7 L1389.2,714.7 L1389.9,715.3 L1390.7,715.8 L1391.4,717.5 L1392.2,718.1 L1392.9,718.3 L1393.7,718.8 L1394.4,718.9 L1395.2,719.2 L1395.9,720.2 L1396.7,720.1 L1397.4,719.8 L1398.2,720.4 L1398.9,721.2 L1399.7,721.9 L1400.4,722.1 L1401.2,721.7 L1401.9,721.4 L1402.7,721.8 L1403.4,722.4 L1404.2,722.1 L1404.9,722.1 L1405.7,722.7 L1406.4,723.1 L1407.2,722.8 L1407.9,722.8 L1408.7,722.9 L1409.4,722.8 L1410.2,723.2 L1410.9,723.9 L1411.7,725.0 L1412.4,724.8 L1413.2,724.1 L1413.9,724.4 L1414.7,724.0 L1415.4,724.1 L1416.2,724.3 L1416.9,724.6 L1417.7,725.5 L1418.4,725.3 L1419.2,724.8 L1419.9,725.3 L1420.7,725.7 L1421.4,725.4 L1422.2,725.6 L1422.9,725.3 L1423.7,725.3 L1424.4,726.2 L1425.2,726.2 L1425.9,726.0 L1426.7,725.7 L1427.4,725.8 L1428.2,726.2 L1428.9,726.1 L1429.7,725.9 L1430.4,726.2 L1431.2,726.7 L1431.9,726.6 L1432.7,726.5 L1433.4,726.9 L1434.2,727.1 L1434.9,726.8 L1435.7,726.3 L1436.4,726.2 L1437.2,726.3 L1437.9,726.6 L1438.7,726.9 L1439.4,726.7 L1440.2,726.5 L1440.9,726.4 L1441.7,726.7 L1442.4,726.9 L1443.2,726.7 L1443.9,726.7 L1444.7,726.5" stroke="#e6dc32"/>
<path d="M969.9,632.4 L970.6,632.2 L971.4,631.6 L972.1,631.5 L972.9,631.9 L973.6,631.6 L974.4,631.9 L975.1,632.3 L975.9,631.9 L976.6,632.1 L977.4,632.4 L978.1,632.0 L978.9,631.5 L979.6,632.0 L980.4,632.4 L981.1,632.2 L981.9,631.9 L982.6,632.0 L983.4,632.0 L984.1,632.5 L984.9,632.2 L985.6,632.4 L986.4,633.0 L987.1,632.8 L987.9,632.8 L988.6,632.5 L989.4,632.2 L990.1,632.2 L990.9,632.2 L991.6,632.6 L992.4,632.5 L993.1,632.3 L993.9,632.3 L994.6,632.2 L995.4,632.2 L996.1,632.5 L996.9,632.4 L997.6,632.5 L998.4,633.3 L999.1,633.4 L999.9,632.9 L1000.6,632.5 L1001.4,632.4 L1002.1,633.1 L1002.9,633.4 L1003.6,632.7 L1004.4,632.8 L1005.1,633.6 L1005.9,633.6 L1006.6,633.2 L1007.4,633.3 L1008.1,633.0 L1008.9,632.6 L1009.6,632.6 L1010.4,632.9 L1011.1,633.2 L1011.9,633.5 L1012.6,633.7 L1013.4,633.5 L1014.1,633.5 L1014.9,633.3 L1015.6,633.4 L1016.4,633.8 L1017.1,633.4 L1017.9,633.4 L1018.6,633.5 L1019.4,633.7 L1020.1,634.1 L1020.9,634.5 L1021.6,633.6 L1022.4,632.6 L1023.1,632.9 L1023.9,633.4 L1024.7,633.8 L1025.4,633.9 L1026.2,633.1 L1026.9,632.9 L1027.7,633.7 L1028.4,633.9 L1029.2,633.9 L1029.9,633.8 L1030.7,633.6 L1031.4,633.7 L1032.2,633.9 L1032.9,633.9 L1033.7,633.9 L1034.4,633.6 L1035.2,633.7 L1035.9,634.0 L1036.7,634.2 L1037.4,634.5 L1038.2,634.3 L1038.9,633.9 L1039.7,633.6 L1040.4,633.9 L1041.2,634.1 L1041.9,633.9 L1042.7,633.9 L1043.4,633.9 L1044.2,634.1 L1044.9,634.1 L1045.7,634.3 L1046.4,634.6 L1047.2,634.4 L1047.9,634.0 L1048.7,633.9 L1049.4,634.4 L1050.2,634.1 L1050.9,633.9 L1051.7,634.2 L1052.4,633.9 L1053.2,634.0 L1053.9,634.6 L1054.7,634.3 L1055.4,634.2 L1056.2,634.1 L1056.9,634.0 L1057.7,633.9 L1058.4,634.2 L1059.2,634.8 L1059.9,634.5 L1060.7,634.2 L1061.4,634.5 L1062.2,635.3 L1062.9,634.5 L1063.7,634.3 L1064.4,635.2 L1065.2,635.0 L1065.9,634.2 L1066.7,634.3 L1067.4,634.6 L1068.2,634.2 L1068.9,633.9 L1069.7,634.2 L1070.4,634.8 L1071.2,634.4 L1071.9,634.3 L1072.7,634.1 L1073.4,634.2 L1074.2,634.5 L1074.9,634.2 L1075.7,634.1 L1076.4,634.3 L1077.2,634.4 L1077.9,634.2 L1078.7,633.9 L1079.4,633.7 L1080.2,633.6 L1080.9,633.5 L1081.7,633.2 L1082.4,632.7 L1083.2,631.5 L1083.9,631.3 L1084.7,632.0 L1085.4,631.1 L1086.2,629.5 L1086.9,628.0 L1087.7,626.2 L1088.4,623.8 L1089.2,620.2 L1089.9,615.4 L1090.7,608.9 L1091.4,601.1 L1092.2,593.5 L1092.9,590.1 L1093.7,593.6 L1094.4,601.5 L1095.2,609.6 L1095.9,616.4 L1096.7,620.5 L1097.4,623.0 L1098.2,626.2 L1098.9,628.8 L1099.7,629.8 L1100.4,630.1 L1101.2,630.8 L1101.9,631.8 L1102.7,632.2 L1103.4,632.4 L1104.2,632.7 L1104.9,632.4 L1105.7,632.8 L1106.4,633.5 L1107.2,633.9 L1107.9,633.8 L1108.7,633.4 L1109.4,633.7 L1110.2,634.0 L1110.9,634.0 L1111.7,633.9 L1112.4,634.2 L1113.2,634.4 L1113.9,634.6 L1114.7,634.9 L1115.4,634.6 L1116.2,633.8 L1116.9,633.8 L1117.7,634.4 L1118.4,634.5 L1119.2,634.6 L1119.9,634.3 L1120.7,634.2 L1121.4,634.2 L1122.2,634.5 L1122.9,634.3 L1123.7,633.3 L1124.4,633.2 L1125.2,633.4 L1125.9,633.5 L1126.7,634.3 L1127.4,634.6 L1128.2,633.6 L1128.9,634.0 L1129.7,634.2 L1130.4,633.5 L1131.2,634.0 L1131.9,634.5 L1132.7,634.1 L1133.4,634.3 L1134.2,634.4 L1134.9,634.5 L1135.7,634.6 L1136.4,634.6 L1137.2,634.4 L1137.9,633.6 L1138.7,634.3 L1139.4,634.5 L1140.2,633.7 L1140.9,633.6 L1141.7,633.6 L1142.4,633.9 L1143.2,634.0 L1143.9,634.1 L1144.7,634.5 L1145.4,634.3 L1146.2,633.4 L1146.9,633.1 L1147.7,633.2 L1148.4,633.1 L1149.2,633.5 L1149.9,633.8 L1150.7,633.5 L1151.4,633.6 L1152.2,633.3 L1152.9,633.0 L1153.7,633.6 L1154.4,634.0 L1155.2,633.6 L1155.9,634.0 L1156.7,633.7 L1157.4,633.0 L1158.2,633.3 L1158.9,632.6 L1159.7,633.1 L1160.4,633.9 L1161.2,633.0 L1161.9,633.4 L1162.7,633.8 L1163.4,633.2 L1164.2,632.8 L1164.9,632.6 L1165.7,632.2 L1166.4,632.3 L1167.2,632.5 L1167.9,632.2 L1168.7,632.5 L1169.4,632.4 L1170.2,632.1 L1170.9,631.9 L1171.7,631.5 L1172.4,631.6 L1173.2,632.1 L1173.9,632.0 L1174.7,631.7 L1175.4,631.2 L1176.2,630.6 L1176.9,630.4 L1177.7,631.0 L1178.4,631.4 L1179.2,631.4 L1179.9,631.4 L1180.7,630.9 L1181.4,631.2 L1182.2,631.7 L1182.9,631.8 L1183.7,631.7 L1184.4,631.8 L1185.2,632.0 L1185.9,631.8 L1186.7,631.8 L1187.4,632.2 L1188.2,632.3 L1188.9,632.6 L1189.7,632.6 L1190.4,632.5 L1191.2,632.7 L1191.9,633.0 L1192.7,633.4 L1193.4,633.1 L1194.2,633.2 L1194.9,634.1 L1195.7,633.6 L1196.4,632.8 L1197.2,633.1 L1197.9,633.3 L1198.7,634.0 L1199.4,634.1 L1200.2,633.5 L1200.9,633.7 L1201.7,633.8 L1202.4,634.0 L1203.2,634.2 L1203.9,634.3 L1204.7,634.1 L1205.4,634.6 L1206.2,635.1 L1206.9,634.4 L1207.7,634.2 L1208.4,633.8 L1209.2,633.6 L1209.9,633.8 L1210.7,633.9 L1211.4,634.0 L1212.2,634.1 L1212.9,634.2 L1213.7,634.7 L1214.4,634.4 L1215.2,634.5 L1215.9,634.6 L1216.7,634.7 L1217.4,634.9 L1218.2,634.9 L1218.9,634.5 L1219.7,634.2 L1220.4,634.9 L1221.2,634.8 L1221.9,633.9 L1222.7,633.5 L1223.4,633.4 L1224.2,633.4 L1224.9,634.0 L1225.7,635.0 L1226.4,635.0 L1227.2,634.8 L1227.9,634.9 L1228.7,634.8 L1229.4,634.9 L1230.2,634.8 L1230.9,635.0 L1231.7,634.8 L1232.4,635.0 L1233.2,635.6 L1233.9,635.3 L1234.7,635.3 L1235.4,635.1 L1236.2,634.8 L1236.9,635.1 L1237.7,635.2 L1238.4,635.0 L1239.2,634.9 L1239.9,634.9 L1240.7,635.4 L1241.4,635.0 L1242.2,634.9 L1242.9,635.4 L1243.7,635.5 L1244.4,635.7 L1245.2,634.8 L1245.9,634.8 L1246.7,635.7 L1247.4,635.6 L1248.2,635.3 L1248.9,635.6 L1249.7,635.6 L1250.4,635.9 L1251.2,636.2 L1251.9,636.2 L1252.7,635.8 L1253.4,634.7 L1254.2,635.1 L1254.9,635.8 L1255.7,635.6 L1256.4,634.9 L1257.2,634.7 L1257.9,635.3 L1258.7,635.3 L1259.4,635.0 L1260.2,635.0 L1260.9,634.7 L1261.7,634.5 L1262.4,634.3 L1263.2,634.8 L1263.9,635.0 L1264.7,634.5 L1265.4,634.2 L1266.2,634.1 L1266.9,633.6 L1267.7,633.3 L1268.4,633.5 L1269.2,633.5 L1269.9,632.6 L1270.7,631.4 L1271.4,631.1 L1272.2,630.4 L1272.9,628.8 L1273.7,626.7 L1274.4,623.8 L1275.2,620.6 L1275.9,617.7 L1276.7,614.5 L1277.4,611.6 L1278.2,611.4 L1278.9,614.0 L1279.7,617.0 L1280.4,619.5 L1281.2,622.2 L1281.9,625.2 L1282.7,627.9 L1283.4,629.7 L1284.2,629.9 L1284.9,630.6 L1285.7,632.3 L1286.4,632.8 L1287.2,632.5 L1287.9,633.5 L1288.7,634.0 L1289.4,633.5 L1290.2,633.7 L1290.9,634.0 L1291.7,633.9 L1292.4,634.3 L1293.2,634.7 L1293.9,634.7 L1294.7,634.3 L1295.4,634.4 L1296.2,634.4 L1296.9,634.2 L1297.7,634.4 L1298.4,634.4 L1299.2,634.5 L1299.9,634.3 L1300.7,633.2 L1301.4,632.6 L1302.2,633.2 L1302.9,633.2 L1303.7,632.7 L1304.4,632.2 L1305.2,631.9 L1305.9,631.6 L1306.7,631.1 L1307.4,630.4 L1308.2,629.5 L1308.9,628.9 L1309.7,627.2 L1310.4,625.9 L1311.2,624.3 L1311.9,621.9 L1312.7,620.4 L1313.4,618.4 L1314.2,616.0 L1314.9,614.6 L1315.7,613.6 L1316.4,614.0 L1317.2,615.4 L1317.9,616.7 L1318.7,618.5 L1319.4,620.8 L1320.2,623.4 L1320.9,625.3 L1321.7,626.3 L1322.4,627.7 L1323.2,628.9 L1323.9,629.7 L1324.7,631.1 L1325.4,631.7 L1326.2,631.7 L1326.9,631.7 L1327.7,631.9 L1328.4,633.0 L1329.2,633.5 L1329.9,633.8 L1330.7,634.0 L1331.4,633.8 L1332.2,634.5 L1332.9,635.3 L1333.7,635.5 L1334.4,635.5 L1335.2,635.9 L1335.9,635.9 L1336.7,635.2 L1337.4,634.9 L1338.2,635.4 L1338.9,635.3 L1339.7,635.2 L1340.4,634.9 L1341.2,634.5 L1341.9,635.1 L1342.7,634.6 L1343.4,634.1 L1344.2,634.7 L1344.9,634.5 L1345.7,634.5 L1346.4,634.7 L1347.2,634.5 L1347.9,634.6 L1348.7,634.6 L1349.4,634.3 L1350.2,634.0 L1350.9,633.7 L1351.7,633.5 L1352.4,633.8 L1353.2,633.4 L1353.9,632.6 L1354.7,631.9 L1355.4,631.7 L1356.2,631.4 L1356.9,630.5 L1357.7,630.1 L1358.4,629.3 L1359.2,628.3 L1359.9,627.4 L1360.7,625.7 L1361.4,624.0 L1362.2,623.2 L1362.9,621.2 L1363.7,617.5 L1364.4,612.7 L1365.2,605.9 L1365.9,597.5 L1366.7,587.2 L1367.4,572.9 L1368.2,550.0 L1368.9,515.5 L1369.7,469.0 L1370.4,408.6 L1371.2,400.0 L1371.9,400.0 L1372.7,400.0 L1373.4,400.0 L1374.2,400.0 L1374.9,400.0 L1375.7,400.0 L1376.4,400.0 L1377.2,402.1 L1377.9,458.0 L1378.7,499.9 L1379.4,533.5 L1380.2,558.4 L1380.9,574.8 L1381.7,585.1 L1382.4,593.1 L1383.2,600.1 L1383.9,606.3 L1384.7,611.5 L1385.4,615.5 L1386.2,619.1 L1386.9,620.7 L1387.7,621.6 L1388.4,622.0 L1389.2,622.3 L1389.9,623.3 L1390.7,623.7 L1391.4,624.4 L1392.2,625.1 L1392.9,624.8 L1393.7,626.4 L1394.4,627.6 L1395.2,627.1 L1395.9,627.1 L1396.7,627.7 L1397.4,628.5 L1398.2,629.3 L1398.9,630.1 L1399.7,631.0 L1400.4,631.4 L1401.2,631.4 L1401.9,631.7 L1402.7,631.7 L1403.4,631.7 L1404.2,632.2 L1404.9,632.6 L1405.7,632.2 L1406.4,631.8 L1407.2,632.1 L1407.9,632.9 L1408.7,633.1 L1409.4,633.4 L1410.2,633.3 L1410.9,633.0 L1411.7,632.6 L1412.4,632.6 L1413.2,633.3 L1413.9,633.8 L1414.7,634.5 L1415.4,634.5 L1416.2,634.5 L1416.9,634.8 L1417.7,634.8 L1418.4,634.6 L1419.2,634.9 L1419.9,634.9 L1420.7,634.7 L1421.4,634.9 L1422.2,634.7 L1422.9,634.7 L1423.7,634.8 L1424.4,635.4 L1425.2,635.6 L1425.9,635.2 L1426.7,635.6 L1427.4,636.1 L1428.2,636.0 L1428.9,636.2 L1429.7,635.8 L1430.4,635.0 L1431.2,635.0 L1431.9,635.9 L1432.7,635.9 L1433.4,635.8 L1434.2,636.0 L1434.9,635.9 L1435.7,635.6 L1436.4,635.9 L1437.2,636.4 L1437.9,636.4 L1438.7,636.5 L1439.4,636.5 L1440.2,636.4 L1440.9,636.5 L1441.7,636.1 L1442.4,635.6 L1443.2,636.3 L1443.9,636.6 L1444.7,636.4" stroke="#0ea5ff"/>
<path d="M969.9,680.0 L970.6,680.0 L971.4,679.6 L972.1,680.0 L972.9,680.1 L973.6,679.6 L974.4,680.0 L975.1,680.0 L975.9,679.6 L976.6,679.7 L977.4,680.1 L978.1,680.7 L978.9,680.6 L979.6,679.9 L980.4,680.0 L981.1,680.2 L981.9,680.0 L982.6,680.4 L983.4,680.3 L984.1,680.0 L984.9,680.0 L985.6,680.0 L986.4,680.2 L987.1,680.1 L987.9,679.9 L988.6,680.1 L989.4,680.0 L990.1,679.8 L990.9,679.7 L991.6,679.9 L992.4,680.2 L993.1,680.7 L993.9,680.2 L994.6,679.8 L995.4,680.4 L996.1,680.6 L996.9,680.7 L997.6,680.2 L998.4,680.1 L999.1,680.4 L999.9,680.3 L1000.6,680.4 L1001.4,680.1 L1002.1,680.3 L1002.9,681.0 L1003.6,680.6 L1004.4,680.4 L1005.1,680.5 L1005.9,680.2 L1006.6,680.2 L1007.4,680.6 L1008.1,680.5 L1008.9,680.2 L1009.6,680.3 L1010.4,680.4 L1011.1,680.7 L1011.9,680.5 L1012.6,680.3 L1013.4,680.5 L1014.1,680.0 L1014.9,679.9 L1015.6,680.3 L1016.4,680.4 L1017.1,680.5 L1017.9,680.0 L1018.6,680.0 L1019.4,680.3 L1020.1,680.0 L1020.9,680.2 L1021.6,680.7 L1022.4,680.5 L1023.1,680.5 L1023.9,680.5 L1024.7,680.4 L1025.4,680.2 L1026.2,680.6 L1026.9,680.2 L1027.7,679.9 L1028.4,680.6 L1029.2,680.2 L1029.9,680.0 L1030.7,680.4 L1031.4,680.7 L1032.2,680.9 L1032.9,680.7 L1033.7,680.1 L1034.4,680.5 L1035.2,681.1 L1035.9,680.7 L1036.7,680.5 L1037.4,680.7 L1038.2,680.7 L1038.9,680.7 L1039.7,680.9 L1040.4,680.5 L1041.2,680.4 L1041.9,680.9 L1042.7,680.6 L1043.4,680.8 L1044.2,680.3 L1044.9,680.3 L1045.7,680.9 L1046.4,680.4 L1047.2,680.4 L1047.9,680.6 L1048.7,681.1 L1049.4,681.5 L1050.2,681.1 L1050.9,680.5 L1051.7,680.3 L1052.4,680.4 L1053.2,680.4 L1053.9,680.3 L1054.7,680.3 L1055.4,680.4 L1056.2,680.4 L1056.9,680.4 L1057.7,680.3 L1058.4,681.0 L1059.2,680.8 L1059.9,680.1 L1060.7,680.5 L1061.4,680.6 L1062.2,680.6 L1062.9,680.9 L1063.7,681.0 L1064.4,681.0 L1065.2,680.6 L1065.9,680.6 L1066.7,680.5 L1067.4,680.2 L1068.2,680.5 L1068.9,680.3 L1069.7,680.5 L1070.4,680.7 L1071.2,680.7 L1071.9,680.4 L1072.7,680.4 L1073.4,680.8 L1074.2,680.6 L1074.9,680.2 L1075.7,680.1 L1076.4,680.0 L1077.2,679.6 L1077.9,680.6 L1078.7,681.2 L1079.4,680.8 L1080.2,680.5 L1080.9,680.2 L1081.7,680.3 L1082.4,680.2 L1083.2,679.9 L1083.9,679.5 L1084.7,678.9 L1085.4,678.8 L1086.2,678.9 L1086.9,678.5 L1087.7,677.7 L1088.4,677.0 L1089.2,675.7 L1089.9,673.3 L1090.7,671.1 L1091.4,668.3 L1092.2,664.9 L1092.9,663.7 L1093.7,665.4 L1094.4,668.4 L1095.2,671.4 L1095.9,674.6 L1096.7,676.5 L1097.4,677.2 L1098.2,677.5 L1098.9,677.9 L1099.7,679.0 L1100.4,679.2 L1101.2,679.2 L1101.9,679.5 L1102.7,679.8 L1103.4,679.8 L1104.2,680.2 L1104.9,680.7 L1105.7,680.6 L1106.4,680.3 L1107.2,680.3 L1107.9,680.7 L1108.7,680.7 L1109.4,680.3 L1110.2,680.1 L1110.9,680.5 L1111.7,680.7 L1112.4,680.8 L1113.2,680.9 L1113.9,680.4 L1114.7,680.1 L1115.4,680.1 L1116.2,680.7 L1116.9,681.0 L1117.7,680.7 L1118.4,680.9 L1119.2,680.7 L1119.9,680.2 L1120.7,680.2 L1121.4,680.4 L1122.2,680.8 L1122.9,681.0 L1123.7,680.5 L1124.4,680.4 L1125.2,680.8 L1125.9,680.4 L1126.7,680.2 L1127.4,680.1 L1128.2,680.1 L1128.9,680.5 L1129.7,680.1 L1130.4,680.0 L1131.2,680.3 L1131.9,680.4 L1132.7,680.4 L1133.4,680.6 L1134.2,680.3 L1134.9,680.1 L1135.7,680.8 L1136.4,680.9 L1137.2,680.2 L1137.9,680.2 L1138.7,680.1 L1139.4,680.3 L1140.2,680.6 L1140.9,680.6 L1141.7,680.7 L1142.4,680.6 L1143.2,680.6 L1143.9,680.5 L1144.7,680.2 L1145.4,679.9 L1146.2,679.9 L1146.9,679.6 L1147.7,680.1 L1148.4,680.2 L1149.2,679.8 L1149.9,679.9 L1150.7,679.5 L1151.4,679.7 L1152.2,680.1 L1152.9,680.0 L1153.7,680.2 L1154.4,680.1 L1155.2,680.1 L1155.9,680.3 L1156.7,680.1 L1157.4,679.9 L1158.2,680.1 L1158.9,680.2 L1159.7,680.1 L1160.4,679.6 L1161.2,679.5 L1161.9,680.1 L1162.7,680.1 L1163.4,680.0 L1164.2,680.5 L1164.9,680.4 L1165.7,680.1 L1166.4,679.9 L1167.2,679.6 L1167.9,679.6 L1168.7,679.6 L1169.4,679.7 L1170.2,679.7 L1170.9,679.6 L1171.7,679.5 L1172.4,679.2 L1173.2,679.4 L1173.9,679.5 L1174.7,679.5 L1175.4,679.5 L1176.2,679.6 L1176.9,680.0 L1177.7,680.3 L1178.4,680.2 L1179.2,679.9 L1179.9,680.0 L1180.7,679.8 L1181.4,679.1 L1182.2,679.5 L1182.9,679.9 L1183.7,679.8 L1184.4,679.8 L1185.2,679.5 L1185.9,679.3 L1186.7,679.9 L1187.4,680.4 L1188.2,680.0 L1188.9,680.2 L1189.7,680.1 L1190.4,679.6 L1191.2,679.9 L1191.9,679.7 L1192.7,679.6 L1193.4,679.8 L1194.2,679.8 L1194.9,680.1 L1195.7,680.3 L1196.4,679.9 L1197.2,679.6 L1197.9,679.9 L1198.7,680.0 L1199.4,679.8 L1200.2,679.9 L1200.9,680.3 L1201.7,680.1 L1202.4,680.1 L1203.2,679.9 L1203.9,679.4 L1204.7,679.8 L1205.4,680.0 L1206.2,679.7 L1206.9,679.8 L1207.7,679.9 L1208.4,680.0 L1209.2,679.9 L1209.9,679.7 L1210.7,680.7 L1211.4,680.8 L1212.2,679.8 L1212.9,679.9 L1213.7,680.4 L1214.4,680.6 L1215.2,680.5 L1215.9,680.1 L1216.7,680.4 L1217.4,680.7 L1218.2,680.0 L1218.9,680.0 L1219.7,680.3 L1220.4,680.4 L1221.2,680.4 L1221.9,680.3 L1222.7,680.5 L1223.4,680.4 L1224.2,680.4 L1224.9,680.2 L1225.7,680.2 L1226.4,680.4 L1227.2,680.5 L1227.9,680.7 L1228.7,680.8 L1229.4,680.6 L1230.2,680.9 L1230.9,680.8 L1231.7,680.5 L1232.4,680.3 L1233.2,680.2 L1233.9,680.7 L1234.7,680.8 L1235.4,680.8 L1236.2,680.5 L1236.9,679.9 L1237.7,680.2 L1238.4,680.2 L1239.2,680.7 L1239.9,681.3 L1240.7,680.4 L1241.4,680.1 L1242.2,680.3 L1242.9,680.4 L1243.7,680.5 L1244.4,680.7 L1245.2,681.0 L1245.9,680.7 L1246.7,680.2 L1247.4,680.4 L1248.2,680.6 L1248.9,680.7 L1249.7,680.7 L1250.4,680.7 L1251.2,680.8 L1251.9,680.5 L1252.7,680.4 L1253.4,680.6 L1254.2,681.2 L1254.9,681.2 L1255.7,680.7 L1256.4,680.6 L1257.2,680.7 L1257.9,680.3 L1258.7,680.3 L1259.4,680.9 L1260.2,680.8 L1260.9,680.2 L1261.7,680.3 L1262.4,681.0 L1263.2,681.0 L1263.9,680.9 L1264.7,681.1 L1265.4,681.2 L1266.2,680.9 L1266.9,680.5 L1267.7,680.3 L1268.4,680.3 L1269.2,680.4 L1269.9,680.2 L1270.7,680.3 L1271.4,680.4 L1272.2,679.9 L1272.9,679.8 L1273.7,679.3 L1274.4,678.6 L1275.2,678.5 L1275.9,678.4 L1276.7,677.9 L1277.4,677.7 L1278.2,677.6 L1278.9,677.7 L1279.7,678.2 L1280.4,678.8 L1281.2,679.3 L1281.9,679.5 L1282.7,679.7 L1283.4,679.5 L1284.2,679.7 L1284.9,680.2 L1285.7,680.2 L1286.4,679.6 L1287.2,679.8 L1287.9,680.4 L1288.7,680.2 L1289.4,680.0 L1290.2,680.2 L1290.9,680.3 L1291.7,680.3 L1292.4,680.6 L1293.2,680.6 L1293.9,680.3 L1294.7,680.4 L1295.4,680.4 L1296.2,680.0 L1296.9,679.8 L1297.7,679.7 L1298.4,680.3 L1299.2,680.5 L1299.9,680.2 L1300.7,680.3 L1301.4,679.9 L1302.2,679.8 L1302.9,679.8 L1303.7,679.1 L1304.4,679.1 L1305.2,679.1 L1305.9,678.9 L1306.7,679.0 L1307.4,679.3 L1308.2,678.9 L1308.9,678.0 L1309.7,677.7 L1310.4,677.2 L1311.2,676.5 L1311.9,675.4 L1312.7,674.3 L1313.4,673.5 L1314.2,672.4 L1314.9,671.5 L1315.7,671.0 L1316.4,671.4 L1317.2,671.9 L1317.9,672.9 L1318.7,674.1 L1319.4,674.5 L1320.2,675.3 L1320.9,676.5 L1321.7,677.6 L1322.4,677.8 L1323.2,678.1 L1323.9,678.6 L1324.7,678.8 L1325.4,679.1 L1326.2,679.5 L1326.9,679.2 L1327.7,678.7 L1328.4,679.3 L1329.2,679.8 L1329.9,680.0 L1330.7,679.7 L1331.4,679.4 L1332.2,680.1 L1332.9,680.1 L1333.7,679.9 L1334.4,680.0 L1335.2,679.9 L1335.9,679.8 L1336.7,680.1 L1337.4,680.0 L1338.2,679.5 L1338.9,679.7 L1339.7,680.2 L1340.4,680.5 L1341.2,680.4 L1341.9,680.3 L1342.7,680.2 L1343.4,680.2 L1344.2,680.4 L1344.9,680.2 L1345.7,679.4 L1346.4,679.4 L1347.2,679.6 L1347.9,678.9 L1348.7,678.7 L1349.4,678.5 L1350.2,678.8 L1350.9,678.8 L1351.7,677.7 L1352.4,677.7 L1353.2,677.8 L1353.9,677.8 L1354.7,677.8 L1355.4,677.0 L1356.2,676.6 L1356.9,676.6 L1357.7,676.4 L1358.4,676.2 L1359.2,675.7 L1359.9,675.3 L1360.7,674.7 L1361.4,673.4 L1362.2,672.6 L1362.9,672.0 L1363.7,670.6 L1364.4,669.4 L1365.2,667.9 L1365.9,666.0 L1366.7,663.8 L1367.4,659.9 L1368.2,655.1 L1368.9,649.3 L1369.7,641.6 L1370.4,630.4 L1371.2,616.4 L1371.9,601.1 L1372.7,585.8 L1373.4,575.3 L1374.2,574.8 L1374.9,584.0 L1375.7,599.6 L1376.4,615.7 L1377.2,629.5 L1377.9,640.9 L1378.7,648.6 L1379.4,653.8 L1380.2,658.2 L1380.9,661.9 L1381.7,664.0 L1382.4,665.9 L1383.2,667.5 L1383.9,668.1 L1384.7,668.8 L1385.4,669.7 L1386.2,670.9 L1386.9,671.7 L1387.7,671.8 L1388.4,672.8 L1389.2,673.5 L1389.9,674.4 L1390.7,675.6 L1391.4,675.9 L1392.2,676.0 L1392.9,676.3 L1393.7,677.0 L1394.4,677.4 L1395.2,676.9 L1395.9,676.8 L1396.7,677.2 L1397.4,677.6 L1398.2,677.7 L1398.9,677.9 L1399.7,678.2 L1400.4,678.6 L1401.2,678.9 L1401.9,678.8 L1402.7,679.0 L1403.4,678.9 L1404.2,679.2 L1404.9,679.6 L1405.7,679.4 L1406.4,679.4 L1407.2,679.4 L1407.9,679.9 L1408.7,680.0 L1409.4,679.6 L1410.2,679.9 L1410.9,679.6 L1411.7,679.6 L1412.4,679.8 L1413.2,679.9 L1413.9,680.1 L1414.7,680.2 L1415.4,680.4 L1416.2,680.2 L1416.9,680.0 L1417.7,680.0 L1418.4,680.0 L1419.2,679.8 L1419.9,680.1 L1420.7,680.5 L1421.4,680.4 L1422.2,680.1 L1422.9,679.9 L1423.7,679.8 L1424.4,680.1 L1425.2,680.8 L1425.9,680.9 L1426.7,680.8 L1427.4,680.4 L1428.2,680.4 L1428.9,680.6 L1429.7,680.8 L1430.4,681.0 L1431.2,680.7 L1431.9,680.6 L1432.7,680.8 L1433.4,680.9 L1434.2,680.7 L1434.9,680.1 L1435.7,680.0 L1436.4,680.7 L1437.2,680.8 L1437.9,680.8 L1438.7,680.7 L1439.4,680.6 L1440.2,680.8 L1440.9,680.9 L1441.7,680.8 L1442.4,680.9 L1443.2,681.1 L1443.9,681.2 L1444.7,680.5" stroke="#00dd00"/>
</g>
<path d="M1369.9,556.2 L1372.1,501 Q1373.8,495.4 1375.5,501 L1377.7,556.2Z" fill="#0ea5ff"/>
<path d="M1092.9,590.5 V780.6" stroke="#000" stroke-width="2.7" stroke-dasharray="8.6 6.6" fill="none"/>
<path d="M1277.9,606 V781.5" stroke="#000" stroke-width="2.7" stroke-dasharray="8.6 6.6" fill="none"/>
<path d="M1315.6,608 V783.5" stroke="#000" stroke-width="2.7" stroke-dasharray="8.6 6.6" fill="none"/>
<rect x="969.90" y="446.20" width="474.90" height="362.30" fill="none" stroke="#000" stroke-width="3.0"/>
<path d="M996.70,808.50v7.60M1086.27,808.50v7.60M1175.84,808.50v7.60M1265.41,808.50v7.60M1354.98,808.50v7.60M1444.55,808.50v7.60" stroke="#000" stroke-width="3.0" fill="none"/>
<path d="M1041.49,808.50v4.40M1131.06,808.50v4.40M1220.62,808.50v4.40M1310.20,808.50v4.40M1399.77,808.50v4.40" stroke="#000" stroke-width="3.0" fill="none"/>
<rect x="967.9" y="556.6" width="4" height="5.4" fill="#fff"/>
<path d="M962.4,558.6 L977.5,552.4 M962.4,566.2 L977.5,560" stroke="#000" stroke-width="3" fill="none"/>
<rect x="1442.8" y="556.6" width="4" height="5.4" fill="#fff"/>
<path d="M1437.3,558.6 L1452.4,552.4 M1437.3,566.2 L1452.4,560" stroke="#000" stroke-width="3" fill="none"/>
<text x="996.70" y="840.10" font-size="24.30" fill="#000" text-anchor="middle">100</text>
<text x="1086.27" y="840.10" font-size="24.30" fill="#000" text-anchor="middle">200</text>
<text x="1175.84" y="840.10" font-size="24.30" fill="#000" text-anchor="middle">300</text>
<text x="1265.41" y="840.10" font-size="24.30" fill="#000" text-anchor="middle">400</text>
<text x="1354.98" y="840.10" font-size="24.30" fill="#000" text-anchor="middle">500</text>
<text x="1444.55" y="840.10" font-size="24.30" fill="#000" text-anchor="middle">600</text>
<text font-size="30.6"><tspan x="1077.5" y="876">Raman shift </tspan><tspan x="1254.6" y="876">(cm</tspan><tspan x="1307.6" y="862.5" font-size="16.6">-1</tspan><tspan x="1328.2" y="876">)</tspan></text>
<text transform="translate(947.9 765.4) rotate(-90)" font-size="30.6"><tspan x="-0.08" y="0" letter-spacing="0.340">Intensity </tspan><tspan x="125.54" y="0" letter-spacing="0.021">(arb. </tspan><tspan x="193.36" y="0" letter-spacing="-0.046">units</tspan><tspan x="260.12" y="0">)</tspan></text>
<text x="996.50" y="626.40" font-size="22.40" fill="#00b0f0">68 nm</text>
<text x="996.50" y="672.20" font-size="22.40" fill="#00b050">32 nm</text>
<text x="996.50" y="715.80" font-size="22.40" fill="#ffc000">8 nm</text>
<text x="996.50" y="761.20" font-size="22.40" fill="#ff0000">2 nm</text>
<text font-size="27.5" font-style="italic"><tspan x="1075.5" y="577.3">A</tspan><tspan font-style="normal" font-size="18.7" x="1093.4" y="583.6">g</tspan><tspan font-style="normal" font-size="19" x="1103.8" y="568.8">1</tspan></text>
<text font-size="27.5" font-style="italic"><tspan x="1256.8" y="586.8">A</tspan><tspan font-style="normal" font-size="18.7" x="1274.7" y="593.1">g</tspan><tspan font-style="normal" font-size="19" x="1285.3" y="578.3">2</tspan></text>
<text font-size="27.5" font-style="italic"><tspan x="1308.3" y="586.8">A</tspan><tspan font-style="normal" font-size="18.7" x="1326.4" y="593.1">g</tspan><tspan font-style="normal" font-size="19" x="1337" y="578.3">3</tspan></text>
<text x="1346.00" y="490.20" font-size="26.00" fill="#000">SiO<tspan font-size="22.4" dy="-1.82" stroke="#000" stroke-width="0.3">₂</tspan></text>
<text x="936.60" y="461.40" font-size="29.50" fill="#000" font-weight="bold">e</text>
</g>
<g id="panel_f">
<path d="M1520.4,746.2 L1521.0,746.2 L1521.6,746.5 L1522.2,746.2 L1522.8,746.2 L1523.4,746.1 L1524.0,745.9 L1524.6,746.3 L1525.2,746.7 L1525.8,746.8 L1526.4,746.4 L1527.0,746.8 L1527.6,747.4 L1528.2,746.9 L1528.8,746.7 L1529.4,746.8 L1530.0,746.7 L1530.6,746.9 L1531.2,746.5 L1531.8,746.5 L1532.4,746.6 L1533.0,746.3 L1533.6,746.5 L1534.2,746.3 L1534.8,746.0 L1535.4,746.7 L1536.0,747.3 L1536.6,747.5 L1537.2,747.2 L1537.8,747.1 L1538.4,747.7 L1539.0,747.8 L1539.6,747.1 L1540.2,746.3 L1540.8,746.7 L1541.4,747.5 L1542.0,747.4 L1542.6,747.3 L1543.2,747.3 L1543.8,747.1 L1544.4,747.0 L1545.0,746.9 L1545.6,746.6 L1546.2,746.8 L1546.8,747.0 L1547.4,746.0 L1548.0,745.4 L1548.6,744.8 L1549.2,744.4 L1549.8,743.6 L1550.4,742.4 L1551.0,741.6 L1551.6,739.7 L1552.2,735.5 L1552.8,725.4 L1553.4,703.6 L1554.0,661.4 L1554.6,596.9 L1555.2,551.5 L1555.8,597.1 L1556.4,662.1 L1557.0,704.4 L1557.6,726.1 L1558.2,735.5 L1558.8,739.7 L1559.4,742.3 L1560.0,743.8 L1560.6,744.5 L1561.2,745.6 L1561.8,746.4 L1562.4,746.5 L1563.0,746.8 L1563.6,746.7 L1564.2,746.5 L1564.8,747.2 L1565.4,748.5 L1566.0,749.1 L1566.6,749.1 L1567.2,748.8 L1567.8,748.1 L1568.4,748.3 L1569.0,748.2 L1569.6,747.2 L1570.2,747.7 L1570.8,748.8 L1571.4,748.9 L1572.0,749.1 L1572.6,749.1 L1573.2,748.9 L1573.8,748.4 L1574.4,748.3 L1575.0,748.3 L1575.6,748.3 L1576.2,749.1 L1576.8,749.3 L1577.4,748.9 L1578.0,748.7 L1578.6,749.4 L1579.2,749.0 L1579.8,748.1 L1580.4,748.9 L1581.0,749.0 L1581.6,748.5 L1582.2,748.9 L1582.8,749.3 L1583.4,749.4 L1584.0,749.0 L1584.6,749.0 L1585.2,749.0 L1585.8,748.5 L1586.4,748.6 L1587.0,749.0 L1587.6,749.2 L1588.2,748.8 L1588.8,749.0 L1589.4,749.0 L1590.0,748.8 L1590.6,749.0 L1591.2,749.0 L1591.8,748.9 L1592.4,748.7 L1593.0,749.3 L1593.6,749.1 L1594.2,748.9 L1594.8,749.3 L1595.4,749.0 L1596.0,748.8 L1596.6,749.0 L1597.2,749.3 L1597.8,749.6 L1598.4,749.6 L1599.0,749.1 L1599.6,748.9 L1600.2,749.5 L1600.8,749.9 L1601.4,749.6 L1602.0,749.9 L1602.6,750.1 L1603.2,749.6 L1603.8,749.6 L1604.4,749.4 L1605.0,749.3 L1605.6,749.3 L1606.2,749.5 L1606.8,749.9 L1607.4,749.8 L1608.0,749.9 L1608.6,749.7 L1609.2,749.6 L1609.8,749.8 L1610.4,749.3 L1611.0,749.5 L1611.6,750.3 L1612.2,751.0 L1612.8,750.5 L1613.4,749.8 L1614.0,750.3 L1614.6,749.9 L1615.2,749.8 L1615.8,749.7 L1616.4,749.0 L1617.0,749.4 L1617.6,749.6 L1618.2,749.9 L1618.8,749.7 L1619.4,749.4 L1620.0,749.6 L1620.6,749.7 L1621.2,750.0 L1621.8,750.2 L1622.4,750.1 L1623.0,750.0 L1623.6,749.9 L1624.2,749.4 L1624.8,748.9 L1625.4,749.4 L1626.0,749.6 L1626.6,749.2 L1627.2,749.7 L1627.8,749.8 L1628.4,749.5 L1629.0,749.4 L1629.6,749.6 L1630.2,750.3 L1630.8,749.8 L1631.4,749.4 L1632.0,750.1 L1632.6,750.2 L1633.2,749.8 L1633.8,749.8 L1634.4,750.0 L1635.0,750.3 L1635.6,749.8 L1636.2,749.3 L1636.8,749.8 L1637.4,750.1 L1638.0,750.1 L1638.6,750.1 L1639.2,750.3 L1639.8,750.3 L1640.4,750.8 L1641.0,750.5 L1641.6,749.7 L1642.2,749.5 L1642.8,749.8 L1643.4,750.2 L1644.0,750.0 L1644.6,749.7 L1645.2,750.2 L1645.8,750.7 L1646.4,750.4 L1647.0,749.9 L1647.6,749.8 L1648.2,750.3 L1648.8,750.7 L1649.4,750.7 L1650.0,750.5 L1650.6,749.9 L1651.2,749.6 L1651.8,750.0 L1652.4,750.1 L1653.0,750.0 L1653.6,749.9 L1654.2,750.4 L1654.8,750.3 L1655.4,750.2 L1656.0,750.5 L1656.6,750.2 L1657.2,750.1 L1657.8,749.5 L1658.4,749.3 L1659.0,750.3 L1659.6,750.3 L1660.2,749.4 L1660.8,749.9 L1661.4,750.1 L1662.0,750.2 L1662.6,750.5 L1663.2,749.8 L1663.8,749.6 L1664.4,750.4 L1665.0,750.6 L1665.6,750.2 L1666.2,750.2 L1666.8,750.2 L1667.4,750.0 L1668.0,750.2 L1668.6,750.7 L1669.2,750.6 L1669.8,750.6 L1670.4,750.9 L1671.0,750.1 L1671.6,749.9 L1672.2,750.7 L1672.8,750.0 L1673.4,749.4 L1674.0,750.1 L1674.6,750.0 L1675.2,749.8 L1675.8,749.9 L1676.4,749.5 L1677.0,749.5 L1677.6,749.4 L1678.2,749.2 L1678.8,748.9 L1679.4,748.3 L1680.0,747.5 L1680.6,746.7 L1681.2,746.1 L1681.8,745.0 L1682.4,744.4 L1683.0,744.0 L1683.6,744.4 L1684.2,745.3 L1684.8,745.7 L1685.4,746.6 L1686.0,747.7 L1686.6,748.5 L1687.2,748.7 L1687.8,749.1 L1688.4,749.8 L1689.0,750.0 L1689.6,750.4 L1690.2,749.7 L1690.8,749.4 L1691.4,750.0 L1692.0,750.2 L1692.6,750.9 L1693.2,750.4 L1693.8,749.7 L1694.4,750.1 L1695.0,750.6 L1695.6,750.9 L1696.2,750.5 L1696.8,750.5 L1697.4,750.7 L1698.0,750.7 L1698.6,750.8 L1699.2,750.7 L1699.8,750.6 L1700.4,750.3 L1701.0,750.0 L1701.6,750.4 L1702.2,750.5 L1702.8,750.1 L1703.4,750.2 L1704.0,750.6 L1704.6,750.8 L1705.2,750.5 L1705.8,750.3 L1706.4,750.6 L1707.0,750.5 L1707.6,750.6 L1708.2,750.8 L1708.8,750.3 L1709.4,750.4 L1710.0,750.6 L1710.6,750.9 L1711.2,750.9 L1711.8,750.9 L1712.4,751.6 L1713.0,751.3 L1713.6,750.9 L1714.2,750.6 L1714.8,750.5 L1715.4,750.8 L1716.0,751.3 L1716.6,751.4 L1717.2,750.7 L1717.8,750.7 L1718.4,750.7 L1719.0,750.9 L1719.6,751.4 L1720.2,751.0 L1720.8,750.4 L1721.4,750.4 L1722.0,750.5 L1722.6,750.2 L1723.2,750.3 L1723.8,750.1 L1724.4,750.1 L1725.0,750.7 L1725.6,750.9 L1726.2,750.6 L1726.8,750.2 L1727.4,750.8 L1728.0,751.2 L1728.6,750.4 L1729.2,750.2 L1729.8,750.9 L1730.4,750.6 L1731.0,750.6 L1731.6,750.7 L1732.2,750.3 L1732.8,750.0 L1733.4,750.5 L1734.0,750.6 L1734.6,749.3 L1735.2,749.2 L1735.8,749.8 L1736.4,749.8 L1737.0,750.4 L1737.6,750.5 L1738.2,749.9 L1738.8,750.2 L1739.4,750.4 L1740.0,750.0 L1740.6,749.3 L1741.2,749.4 L1741.8,750.0 L1742.4,750.1 L1743.0,750.0 L1743.6,749.8 L1744.2,749.7 L1744.8,749.7 L1745.4,749.0 L1746.0,748.5 L1746.6,747.8 L1747.2,746.7 L1747.8,745.0 L1748.4,743.5 L1749.0,742.3 L1749.6,740.9 L1750.2,740.3 L1750.8,740.4 L1751.4,741.7 L1752.0,743.9 L1752.6,745.4 L1753.2,746.4 L1753.8,747.4 L1754.4,748.5 L1755.0,748.9 L1755.6,749.1 L1756.2,749.5 L1756.8,749.3 L1757.4,749.8 L1758.0,750.5 L1758.6,750.3 L1759.2,750.1 L1759.8,750.4 L1760.4,750.9 L1761.0,750.8 L1761.6,750.9 L1762.2,751.3 L1762.8,750.3 L1763.4,749.9 L1764.0,750.5 L1764.6,750.5 L1765.2,750.7 L1765.8,750.9 L1766.4,750.7 L1767.0,750.6 L1767.6,750.0 L1768.2,750.1 L1768.8,750.3 L1769.4,750.4 L1770.0,750.8 L1770.6,751.3 L1771.2,751.4 L1771.8,750.1 L1772.4,750.6 L1773.0,751.3 L1773.6,751.0 L1774.2,751.2 L1774.8,750.7 L1775.4,750.0 L1776.0,750.5 L1776.6,750.5 L1777.2,749.8 L1777.8,749.9 L1778.4,750.3 L1779.0,750.7 L1779.6,750.6 L1780.2,750.2 L1780.8,750.5 L1781.4,750.7 L1782.0,750.8 L1782.6,750.4 L1783.2,750.8 L1783.8,750.8 L1784.4,750.5 L1785.0,751.1 L1785.6,750.6 L1786.2,750.3 L1786.8,750.4 L1787.4,750.6 L1788.0,751.0 L1788.6,750.8 L1789.2,750.6 L1789.8,750.4 L1790.4,750.6 L1791.0,750.9 L1791.6,750.7 L1792.2,750.2 L1792.8,750.6 L1793.4,750.6 L1794.0,750.2 L1794.6,750.2 L1795.2,750.4 L1795.8,750.6 L1796.4,750.2 L1797.0,750.1 L1797.6,750.2 L1798.2,750.6 L1798.8,751.4 L1799.4,751.6 L1800.0,751.4 L1800.6,751.4 L1801.2,750.8 L1801.8,750.3 L1802.4,750.1 L1803.0,750.4 L1803.6,750.8 L1804.2,750.3 L1804.8,750.3 L1805.4,750.5 L1806.0,750.6 L1806.6,750.6 L1807.2,750.1 L1807.8,750.2 L1808.4,750.3 L1809.0,750.5 L1809.6,750.4 L1810.2,750.0 L1810.8,750.1 L1811.4,749.8 L1812.0,749.6 L1812.6,750.0 L1813.2,749.8 L1813.8,749.8 L1814.4,749.6 L1815.0,749.0 L1815.6,748.9 L1816.2,748.6 L1816.8,747.5 L1817.4,746.2 L1818.0,745.7 L1818.6,744.8 L1819.2,743.6 L1819.8,743.2 L1820.4,742.9 L1821.0,742.9 L1821.6,743.5 L1822.2,744.7 L1822.8,746.6 L1823.4,747.3 L1824.0,747.0 L1824.6,747.7 L1825.2,748.9 L1825.8,749.3 L1826.4,749.2 L1827.0,749.4 L1827.6,749.6 L1828.2,749.5 L1828.8,749.2 L1829.4,749.5 L1830.0,750.3 L1830.6,749.9 L1831.2,749.3 L1831.8,749.7 L1832.4,749.7 L1833.0,749.8 L1833.6,749.7 L1834.2,749.9 L1834.8,749.9 L1835.4,749.3 L1836.0,749.4 L1836.6,750.0 L1837.2,750.8 L1837.8,750.6 L1838.4,750.3 L1839.0,749.9 L1839.6,749.7 L1840.2,750.5 L1840.8,750.2 L1841.4,750.0 L1842.0,750.0 L1842.6,749.6 L1843.2,749.6 L1843.8,749.9 L1844.4,749.4 L1845.0,749.6 L1845.6,750.0 L1846.2,749.5 L1846.8,749.8 L1847.4,750.0 L1848.0,750.4 L1848.6,750.0 L1849.2,749.3 L1849.8,749.4 L1850.4,749.8 L1851.0,749.7 L1851.6,748.9 L1852.2,748.4 L1852.8,748.3 L1853.4,749.0 L1854.0,749.1 L1854.6,749.4 L1855.2,749.2 L1855.8,748.7 L1856.4,748.7 L1857.0,748.6 L1857.6,748.7 L1858.2,748.6 L1858.8,748.2 L1859.4,748.4 L1860.0,748.6 L1860.6,748.1 L1861.2,748.0 L1861.8,747.8 L1862.4,748.1 L1863.0,748.3 L1863.6,747.7 L1864.2,746.7 L1864.8,746.2 L1865.4,745.8 L1866.0,744.3 L1866.6,743.1 L1867.2,742.3 L1867.8,739.9 L1868.4,735.7 L1869.0,727.5 L1869.6,708.4 L1870.2,667.6 L1870.8,599.0 L1871.4,512.6 L1872.0,491.6 L1872.6,570.6 L1873.2,648.2 L1873.8,696.8 L1874.4,721.8 L1875.0,733.9 L1875.6,738.8 L1876.2,741.2 L1876.8,743.1 L1877.4,744.5 L1878.0,745.8 L1878.6,746.3 L1879.2,747.1 L1879.8,747.5 L1880.4,747.5 L1881.0,748.1 L1881.6,747.8 L1882.2,747.6 L1882.8,748.1 L1883.4,748.2 L1884.0,748.0 L1884.6,748.3 L1885.2,748.4 L1885.8,748.5 L1886.4,748.9 L1887.0,749.2 L1887.6,749.7 L1888.2,749.1 L1888.8,748.8 L1889.4,749.6 L1890.0,750.4 L1890.6,750.3 L1891.2,749.7 L1891.8,749.6 L1892.4,750.2 L1893.0,750.3 L1893.6,749.9 L1894.2,750.3 L1894.8,749.8 L1895.4,749.2 L1896.0,749.3 L1896.6,749.7 L1897.2,750.3 L1897.8,750.1 L1898.4,750.4 L1899.0,750.5 L1899.6,750.1 L1900.2,750.3 L1900.8,749.9 L1901.4,749.9 L1902.0,750.1 L1902.6,749.9 L1903.2,749.9 L1903.8,750.0 L1904.4,750.3 L1905.0,750.3 L1905.6,749.7 L1906.2,749.8 L1906.8,750.2 L1907.4,750.8 L1908.0,750.4 L1908.6,750.3 L1909.2,750.8 L1909.8,750.5 L1910.4,750.5 L1911.0,750.8 L1911.6,750.5 L1912.2,749.8 L1912.8,750.0 L1913.4,750.4 L1914.0,750.4 L1914.6,750.7 L1915.2,751.2 L1915.8,751.0 L1916.4,750.7 L1917.0,750.9 L1917.6,750.5 L1918.2,750.2 L1918.8,750.0 L1919.4,749.7 L1920.0,750.2 L1920.6,750.9 L1921.2,750.6 L1921.8,750.6 L1922.4,750.9 L1923.0,750.7 L1923.6,750.4 L1924.2,750.3 L1924.8,750.7 L1925.4,751.0 L1926.0,750.8 L1926.6,750.9 L1927.2,751.1 L1927.8,750.5 L1928.4,750.8 L1929.0,751.1 L1929.6,751.3 L1930.2,751.1 L1930.8,750.0 L1931.4,750.4 L1932.0,751.5 L1932.6,751.2 L1933.2,750.8 L1933.8,751.5 L1934.4,751.7 L1935.0,751.3 L1935.6,750.9 L1936.2,750.6 L1936.8,750.4 L1937.4,750.3 L1938.0,750.6 L1938.6,751.0 L1939.2,751.6 L1939.8,751.8 L1940.4,751.4 L1941.0,751.1 L1941.6,751.1 L1942.2,751.0 L1942.8,751.4 L1943.4,751.2 L1944.0,750.7 L1944.6,750.5 L1945.2,750.2 L1945.8,750.7 L1946.4,751.4 L1947.0,751.5 L1947.6,751.5 L1948.2,751.0 L1948.8,751.3 L1949.4,751.7 L1950.0,751.1 L1950.6,751.0 L1951.2,750.8 L1951.8,750.6 L1952.4,750.9 L1953.0,751.0 L1953.6,751.0 L1954.2,751.2 L1954.8,750.7 L1955.4,751.0 L1956.0,752.0 L1956.6,751.5 L1957.2,751.0 L1957.8,751.5 L1958.4,751.4 L1959.0,751.2 L1959.6,751.0 L1960.2,750.8 L1960.8,751.1 L1961.4,751.6 L1962.0,751.5 L1962.6,751.5 L1963.2,751.5 L1963.8,751.2 L1964.4,751.4 L1965.0,751.6 L1965.6,751.7 L1966.2,751.9 L1966.8,751.8 L1967.4,751.5 L1968.0,751.6 L1968.6,751.4 L1969.2,751.1 L1969.8,751.4 L1970.4,751.2 L1971.0,750.5 L1971.6,750.6 L1972.2,751.2 L1972.8,751.5 L1973.4,751.3 L1974.0,751.2 L1974.6,751.0 L1975.2,751.0 L1975.8,751.1 L1976.4,751.4 L1977.0,751.5 L1977.6,751.5 L1978.2,751.6 L1978.8,751.4 L1979.4,751.2 L1980.0,751.1 L1980.6,751.3 L1981.2,751.7 L1981.8,751.3 L1982.4,751.0 L1983.0,751.3 L1983.6,751.4 L1984.2,751.6 L1984.8,751.7 L1985.4,751.8 L1986.0,751.6 L1986.6,751.3 L1987.2,751.4 L1987.8,751.1" fill="none" stroke="#ff0000" stroke-width="5.2" stroke-linejoin="round" stroke-linecap="round"/>
<path d="M1555.7,777.2V810.2M1634.3,777.2V810.2M1693.8,777.2V810.2M1703.9,777.2V810.2M1725.5,777.2V810.2M1732.4,777.2V810.2M1741.8,777.2V810.2M1751.1,777.2V810.2M1759.8,777.2V810.2M1775.3,777.2V810.2M1785.4,777.2V810.2M1811.0,777.2V810.2M1818.6,777.2V810.2M1827.6,777.2V810.2M1847.1,777.2V810.2M1863.3,777.2V810.2M1903.3,777.2V810.2M1920.7,777.2V810.2M1922.8,777.2V810.2" stroke="#000" stroke-width="3.8" fill="none"/>
<rect x="1520.40" y="446.50" width="467.70" height="363.70" fill="none" stroke="#000" stroke-width="3.0"/>
<path d="M1547.40,810.20v7.60M1602.40,810.20v7.60M1657.40,810.20v7.60M1712.40,810.20v7.60M1767.40,810.20v7.60M1822.40,810.20v7.60M1877.40,810.20v7.60M1932.40,810.20v7.60M1987.40,810.20v7.60" stroke="#000" stroke-width="3.0" fill="none"/>
<text x="1547.40" y="841.20" font-size="23.20" fill="#000" text-anchor="middle">10</text>
<text x="1602.40" y="841.20" font-size="23.20" fill="#000" text-anchor="middle">20</text>
<text x="1657.40" y="841.20" font-size="23.20" fill="#000" text-anchor="middle">30</text>
<text x="1712.40" y="841.20" font-size="23.20" fill="#000" text-anchor="middle">40</text>
<text x="1767.40" y="841.20" font-size="23.20" fill="#000" text-anchor="middle">50</text>
<text x="1822.40" y="841.20" font-size="23.20" fill="#000" text-anchor="middle">60</text>
<text x="1877.40" y="841.20" font-size="23.20" fill="#000" text-anchor="middle">70</text>
<text x="1932.40" y="841.20" font-size="23.20" fill="#000" text-anchor="middle">80</text>
<text x="1987.40" y="841.20" font-size="23.20" fill="#000" text-anchor="middle">90</text>
<text x="1681.40" y="874.70" font-size="31.00" fill="#000">2 Theta (°)</text>
<text transform="translate(1499.5 765.4) rotate(-90)" font-size="30.6"><tspan x="-0.08" y="0" letter-spacing="0.340">Intensity </tspan><tspan x="125.54" y="0" letter-spacing="0.021">(arb. </tspan><tspan x="193.36" y="0" letter-spacing="-0.046">units</tspan><tspan x="260.12" y="0">)</tspan></text>
<text x="1528.40" y="540.60" font-size="22.10" fill="#000">(001)</text>
<text x="1652.70" y="726.20" font-size="22.10" fill="#000">(003)</text>
<text x="1721.80" y="725.70" font-size="22.10" fill="#000">(200)</text>
<text x="1788.80" y="726.40" font-size="22.10" fill="#000">(021)</text>
<text x="1845.20" y="481.70" font-size="22.00" fill="#000">SiO<tspan font-size="18.9" dy="-1.54" stroke="#000" stroke-width="0.3">₂</tspan></text>
<text x="1494.60" y="461.70" font-size="29.50" fill="#000" font-weight="bold">f</text>
</g>
<g id="panel_g">
<path d="M38.4,1093.5C38.8,1092.5 39.7,1087.3 40.7,1087.1C41.8,1086.8 44.0,1090.0 45.3,1091.7C46.5,1093.3 48.1,1098.8 49.2,1098.0C50.3,1097.2 51.6,1089.3 52.5,1086.3C53.4,1083.3 54.4,1077.5 55.2,1078.0C56.0,1078.6 57.0,1087.0 57.9,1089.9C58.8,1092.7 60.0,1097.4 61.1,1097.1C62.2,1096.8 64.0,1090.1 65.1,1088.1C66.2,1086.0 67.9,1083.0 68.7,1083.6C69.5,1084.1 69.8,1091.8 70.5,1091.7C71.2,1091.5 72.3,1084.9 73.2,1082.7C74.2,1080.4 75.6,1077.2 76.8,1076.9C78.0,1076.6 80.2,1081.1 81.3,1080.9C82.4,1080.6 83.1,1076.0 84.0,1075.4C85.0,1074.9 87.0,1075.5 87.6,1077.2C88.3,1079.0 87.9,1087.2 88.5,1087.2C89.2,1087.2 91.1,1079.6 92.2,1077.2C93.2,1074.9 94.4,1071.2 95.4,1071.7C96.3,1072.3 97.5,1079.2 98.5,1080.9C99.5,1082.5 101.0,1084.0 102.1,1082.7C103.2,1081.3 104.7,1074.0 105.7,1071.8C106.6,1069.7 107.4,1067.7 108.4,1068.2C109.3,1068.8 111.2,1073.5 112.0,1075.4C112.8,1077.3 113.1,1081.7 113.8,1080.9C114.5,1080.0 115.7,1073.1 116.5,1070.0C117.3,1066.9 118.1,1061.6 119.2,1060.1C120.3,1058.6 122.6,1057.5 123.7,1060.1C124.8,1062.7 125.9,1073.3 126.4,1077.2C127.0,1081.2 126.8,1086.3 127.3,1086.3C127.9,1086.3 129.1,1078.6 130.0,1077.2C131.0,1075.9 132.7,1076.2 133.6,1077.2C134.6,1078.3 135.5,1083.0 136.3,1084.5C137.2,1085.9 138.1,1087.3 139.0,1087.2C140.0,1087.0 141.7,1081.8 142.7,1083.5C143.6,1085.1 144.5,1098.5 145.4,1098.0C146.2,1097.5 147.0,1082.5 148.1,1079.9C149.1,1077.4 151.5,1079.2 152.6,1080.9C153.7,1082.5 154.3,1090.5 155.3,1090.8C156.2,1091.0 157.8,1085.0 158.9,1082.7C160.0,1080.4 161.3,1076.7 162.5,1075.4C163.7,1074.2 165.9,1073.9 167.0,1074.5C168.1,1075.2 168.5,1079.5 169.7,1079.9C170.9,1080.4 173.8,1078.2 175.1,1077.2C176.5,1076.3 177.5,1073.4 178.7,1073.5C179.9,1073.7 182.3,1079.5 183.2,1078.1C184.2,1076.8 184.1,1066.9 185.0,1064.6C186.0,1062.3 188.2,1063.5 189.6,1062.8C190.9,1062.1 192.7,1060.8 194.1,1060.1C195.4,1059.4 197.5,1059.4 198.6,1058.3C199.7,1057.2 200.5,1053.8 201.3,1052.9C202.1,1051.9 203.0,1050.8 204.0,1052.0C204.9,1053.2 206.5,1058.2 207.6,1061.0C208.7,1063.9 210.3,1070.9 211.2,1070.9C212.1,1070.9 213.3,1069.8 213.9,1061.0C214.5,1052.2 214.8,1019.7 215.3,1012.3C215.9,1004.9 216.9,1003.0 217.5,1011.4C218.1,1019.8 218.9,1057.7 219.3,1068.2C219.8,1078.8 220.0,1087.2 220.6,1081.8C221.1,1076.3 222.4,1045.4 222.9,1032.2C223.5,1018.9 223.9,997.4 224.4,993.6C224.8,989.8 225.5,997.9 226.0,1006.9C226.4,1015.9 227.1,1039.2 227.4,1053.8C227.8,1068.4 228.0,1093.2 228.3,1104.3C228.7,1115.4 229.1,1122.7 229.6,1127.7C230.1,1132.8 231.2,1135.4 231.9,1137.7C232.6,1140.0 233.5,1143.2 234.3,1143.1C235.1,1142.9 236.5,1137.6 237.4,1136.8C238.2,1136.0 239.4,1139.4 240.1,1137.7C240.7,1135.9 241.0,1126.3 241.9,1125.0C242.7,1123.8 244.4,1127.5 245.5,1129.6C246.6,1131.6 248.0,1136.4 249.1,1138.6C250.2,1140.7 251.7,1142.4 252.7,1144.0C253.6,1145.6 254.7,1147.5 255.4,1149.4C256.1,1151.3 256.5,1156.3 257.2,1156.6C257.9,1156.9 259.2,1167.2 259.9,1151.2C260.6,1135.2 261.2,1070.0 261.7,1050.2C262.2,1030.4 262.7,1019.4 263.1,1019.4C263.6,1019.4 264.4,1034.7 264.9,1050.2C265.5,1065.6 266.3,1106.1 266.8,1122.3C267.2,1138.6 267.4,1151.9 268.0,1158.4C268.6,1164.9 269.8,1164.3 270.7,1165.6C271.7,1167.0 273.4,1167.7 274.3,1167.4C275.3,1167.2 276.0,1163.8 277.0,1163.8C278.1,1163.8 280.3,1167.6 281.5,1167.4C282.8,1167.3 283.8,1162.5 285.2,1162.9C286.5,1163.3 288.9,1169.5 290.6,1170.1C292.2,1170.8 294.4,1168.2 296.0,1167.4C297.6,1166.6 299.8,1165.4 301.4,1164.7C303.0,1164.0 305.2,1162.7 306.8,1162.9C308.4,1163.2 310.6,1166.4 312.2,1166.5C313.8,1166.7 316.0,1163.7 317.6,1163.8C319.2,1164.0 321.7,1168.0 323.0,1167.4C324.4,1166.9 325.0,1160.6 326.6,1160.2C328.3,1159.8 332.0,1164.6 333.9,1164.7C335.7,1164.9 337.6,1161.9 339.3,1161.1C340.9,1160.3 343.1,1159.2 344.7,1159.3C346.3,1159.4 348.5,1162.3 350.1,1162.0C351.7,1161.7 353.6,1158.9 355.5,1157.5C357.4,1156.2 361.0,1152.9 362.7,1153.0C364.5,1153.1 365.7,1159.0 367.2,1158.4C368.7,1157.9 371.1,1149.6 372.6,1149.3C374.1,1149.0 377.0,1156.4 377.1,1156.6C377.3,1156.9 373.6,1151.0 373.6,1151.0C373.6,1151.0 376.1,1155.4 377.2,1156.5C378.3,1157.6 379.7,1158.7 380.8,1158.3C381.9,1157.9 382.8,1154.5 384.4,1153.8C386.1,1153.1 389.5,1152.8 391.6,1153.8C393.8,1154.7 397.2,1159.8 398.9,1160.1C400.5,1160.4 401.0,1156.5 402.5,1155.6C404.0,1154.7 407.1,1154.8 408.8,1153.8C410.5,1152.8 412.5,1147.6 413.8,1149.2C415.2,1150.8 416.7,1163.5 417.8,1164.6C418.9,1165.7 420.3,1157.7 421.4,1156.5C422.5,1155.3 424.1,1155.8 425.0,1156.5C426.0,1157.2 426.8,1160.2 427.7,1161.0C428.7,1161.8 430.4,1161.1 431.3,1161.9C432.3,1162.7 433.1,1165.5 434.0,1166.4C435.0,1167.4 436.4,1167.3 437.6,1168.2C438.9,1169.2 440.9,1172.7 442.2,1172.7C443.4,1172.7 444.8,1169.7 445.8,1168.2C446.7,1166.7 447.8,1170.1 448.5,1162.8C449.1,1155.5 449.7,1126.2 450.3,1119.5C450.8,1112.9 451.4,1112.4 452.1,1118.6C452.7,1124.8 453.7,1151.5 454.4,1161.0C455.1,1170.5 455.6,1178.8 456.6,1181.8C457.6,1184.7 460.1,1181.4 461.1,1180.9C462.0,1180.3 461.9,1177.9 462.9,1178.1C463.8,1178.4 466.4,1184.1 467.4,1182.7C468.4,1181.2 469.2,1170.1 469.7,1168.2C470.3,1166.3 470.4,1166.8 471.0,1170.0C471.6,1173.3 472.8,1186.2 473.7,1189.9C474.7,1193.5 476.5,1194.9 477.3,1194.4C478.1,1193.8 478.6,1190.5 479.1,1186.3C479.7,1182.1 480.4,1169.4 480.9,1166.4C481.5,1163.4 482.1,1162.9 482.7,1166.4C483.4,1169.9 484.8,1185.0 485.4,1189.9C486.1,1194.7 486.1,1198.1 486.9,1198.9C487.7,1199.7 489.7,1195.6 490.9,1195.3C492.0,1195.0 493.2,1196.5 494.5,1197.1C495.7,1197.6 497.6,1199.0 499.0,1198.9C500.3,1198.8 502.0,1196.6 503.5,1196.2C505.0,1195.8 507.5,1196.3 508.9,1196.2C510.2,1196.0 511.5,1194.7 512.5,1195.3C513.4,1195.8 514.1,1199.9 515.2,1199.8C516.3,1199.7 518.5,1195.9 519.7,1194.4C520.9,1192.9 521.9,1189.2 523.0,1189.9C524.0,1190.5 525.8,1197.8 526.9,1198.9C528.1,1200.0 529.5,1196.4 530.5,1197.1C531.6,1197.8 533.2,1202.2 534.1,1203.4C535.1,1204.6 536.2,1209.4 536.8,1205.2C537.5,1201.0 538.1,1185.6 538.7,1175.4C539.2,1165.3 539.9,1143.2 540.5,1137.6C541.0,1131.9 541.7,1129.7 542.3,1137.6C542.8,1145.4 543.5,1179.2 544.1,1189.9C544.6,1200.6 544.9,1206.1 545.9,1208.8C546.8,1211.5 549.2,1207.8 550.4,1207.9C551.6,1208.0 552.8,1209.3 554.0,1209.7C555.2,1210.1 557.0,1210.9 558.5,1210.6C560.0,1210.3 562.6,1208.3 563.9,1207.9C565.3,1207.5 566.3,1207.2 567.5,1207.9C568.7,1208.6 570.8,1212.3 572.0,1212.4C573.2,1212.6 574.5,1210.2 575.6,1208.8C576.7,1207.4 578.2,1202.9 579.2,1203.3C580.3,1203.7 581.8,1210.3 582.8,1211.5C583.9,1212.7 585.1,1211.1 586.5,1211.5C587.8,1211.9 590.4,1214.6 591.9,1214.2C593.3,1213.8 594.7,1209.4 596.4,1208.8C598.0,1208.3 601.1,1210.6 602.7,1210.6C604.3,1210.6 605.8,1208.7 607.2,1208.8C608.5,1208.9 610.2,1211.0 611.7,1211.5C613.2,1212.1 615.8,1212.6 617.1,1212.4C618.5,1212.3 620.0,1212.8 620.7,1210.6C621.5,1208.4 621.6,1199.9 622.2,1198.0C622.7,1196.1 623.7,1195.7 624.3,1198.0C624.9,1200.3 625.3,1211.4 626.1,1213.3C626.9,1215.2 628.5,1210.9 629.7,1210.6C631.0,1210.3 633.2,1210.8 634.2,1211.5C635.3,1212.2 636.0,1215.4 637.0,1215.1C637.9,1214.9 639.5,1211.2 640.6,1209.7C641.6,1208.2 643.1,1204.7 644.2,1205.2C645.3,1205.7 646.4,1211.7 647.8,1213.3C649.1,1214.9 651.6,1215.5 653.2,1216.0C654.8,1216.6 657.1,1216.8 658.6,1216.9C660.1,1217.1 662.0,1217.7 663.1,1216.9C664.2,1216.1 665.0,1213.4 665.8,1211.5C666.6,1209.6 667.8,1205.8 668.5,1204.3C669.3,1202.8 670.2,1200.2 670.9,1201.6C671.5,1202.9 672.4,1209.7 673.0,1213.3C673.6,1217.0 674.0,1223.5 674.8,1225.9C675.6,1228.4 677.1,1229.3 678.4,1229.6C679.8,1229.8 682.4,1228.7 683.9,1227.7C685.3,1226.8 687.1,1223.2 688.4,1223.2C689.6,1223.2 690.6,1226.5 692.0,1227.7C693.3,1229.0 696.2,1231.0 697.4,1231.4C698.6,1231.8 699.3,1231.3 700.1,1230.5C700.9,1229.6 702.0,1225.5 702.8,1225.9C703.6,1226.4 704.6,1232.2 705.5,1233.2C706.4,1234.1 708.6,1232.4 709.1,1232.3" fill="none" stroke="#ff0000" stroke-width="7.4" stroke-linejoin="round" stroke-linecap="butt"/>
<rect x="38.40" y="924.80" width="670.70" height="327.40" fill="none" stroke="#000" stroke-width="3.0"/>
<path d="M709.20,1252.20v7.60M625.32,1252.20v7.60M541.44,1252.20v7.60M457.56,1252.20v7.60M373.68,1252.20v7.60M289.80,1252.20v7.60M205.92,1252.20v7.60M122.04,1252.20v7.60M38.16,1252.20v7.60" stroke="#000" stroke-width="3.0" fill="none"/>
<path d="M667.26,1252.20v4.20M583.38,1252.20v4.20M499.50,1252.20v4.20M415.62,1252.20v4.20M331.74,1252.20v4.20M247.86,1252.20v4.20M163.98,1252.20v4.20M80.10,1252.20v4.20" stroke="#000" stroke-width="3.0" fill="none"/>
<text x="710.00" y="1285.10" font-size="30.30" fill="#000" text-anchor="middle">0</text>
<text x="629.72" y="1285.10" font-size="30.30" fill="#000" text-anchor="middle">100</text>
<text x="545.84" y="1285.10" font-size="30.30" fill="#000" text-anchor="middle">200</text>
<text x="461.96" y="1285.10" font-size="30.30" fill="#000" text-anchor="middle">300</text>
<text x="378.08" y="1285.10" font-size="30.30" fill="#000" text-anchor="middle">400</text>
<text x="294.20" y="1285.10" font-size="30.30" fill="#000" text-anchor="middle">500</text>
<text x="210.32" y="1285.10" font-size="30.30" fill="#000" text-anchor="middle">600</text>
<text x="126.44" y="1285.10" font-size="30.30" fill="#000" text-anchor="middle">700</text>
<text x="42.56" y="1285.10" font-size="30.30" fill="#000" text-anchor="middle">800</text>
<text x="238.40" y="1323.60" font-size="31.00" fill="#000">Binding Energy (eV)</text>
<text transform="translate(23.1 1229.7) rotate(-90)" font-size="30.6"><tspan x="-0.08" y="0" letter-spacing="0.340">Intensity </tspan><tspan x="125.54" y="0" letter-spacing="0.021">(arb. </tspan><tspan x="193.36" y="0" letter-spacing="-0.046">units</tspan><tspan x="260.12" y="0">)</tspan></text>
<text x="166.80" y="957.70" font-size="26.00" fill="#000" font-style="italic">Cr 2p</text>
<text x="248.60" y="1009.10" font-size="26.20" fill="#000" font-style="italic">O 1s</text>
<text x="512.40" y="1124.70" font-size="26.20" fill="#000" font-style="italic">Cl 2p</text>
<path d="M193.1,965.4 L208.2,992.8" fill="none" stroke="#000" stroke-width="1.5" stroke-dasharray="5.5 3"/><path d="M213.9,1003.2 L199.2,991.3 L208.2,992.8 L211.8,984.4Z" fill="#000"/>
<text x="8.40" y="939.20" font-size="29.50" fill="#000" font-weight="bold">g</text>
</g>
<g id="panel_hij">
<g><circle cx="783.1" cy="1154.8" r="5.8" fill="url(#dotG)"/><circle cx="791.6" cy="1153.3" r="5.8" fill="url(#dotG)"/><circle cx="800.2" cy="1152.0" r="5.8" fill="url(#dotG)"/><circle cx="808.7" cy="1148.8" r="5.8" fill="url(#dotG)"/><circle cx="817.2" cy="1146.9" r="5.8" fill="url(#dotG)"/><circle cx="825.8" cy="1143.3" r="5.8" fill="url(#dotG)"/><circle cx="834.3" cy="1137.7" r="5.8" fill="url(#dotG)"/><circle cx="842.8" cy="1128.3" r="5.8" fill="url(#dotG)"/><circle cx="851.4" cy="1107.1" r="5.8" fill="url(#dotG)"/><circle cx="859.9" cy="1086.4" r="5.8" fill="url(#dotG)"/><circle cx="868.4" cy="1064.0" r="5.8" fill="url(#dotG)"/><circle cx="877.0" cy="1043.9" r="5.8" fill="url(#dotG)"/><circle cx="885.5" cy="1039.9" r="5.8" fill="url(#dotG)"/><circle cx="894.1" cy="1061.5" r="5.8" fill="url(#dotG)"/><circle cx="902.6" cy="1087.5" r="5.8" fill="url(#dotG)"/><circle cx="911.1" cy="1109.9" r="5.8" fill="url(#dotG)"/><circle cx="919.7" cy="1130.9" r="5.8" fill="url(#dotG)"/><circle cx="928.2" cy="1151.0" r="5.8" fill="url(#dotG)"/><circle cx="936.7" cy="1162.0" r="5.8" fill="url(#dotG)"/><circle cx="945.3" cy="1168.8" r="5.8" fill="url(#dotG)"/><circle cx="953.8" cy="1172.5" r="5.8" fill="url(#dotG)"/><circle cx="962.3" cy="1177.0" r="5.8" fill="url(#dotG)"/><circle cx="970.9" cy="1177.2" r="5.8" fill="url(#dotG)"/><circle cx="979.4" cy="1172.6" r="5.8" fill="url(#dotG)"/><circle cx="987.9" cy="1169.7" r="5.8" fill="url(#dotG)"/><circle cx="996.5" cy="1162.3" r="5.8" fill="url(#dotG)"/><circle cx="1005.0" cy="1143.3" r="5.8" fill="url(#dotG)"/><circle cx="1013.5" cy="1115.9" r="5.8" fill="url(#dotG)"/><circle cx="1022.1" cy="1083.3" r="5.8" fill="url(#dotG)"/><circle cx="1030.6" cy="1041.2" r="5.8" fill="url(#dotG)"/><circle cx="1039.1" cy="1000.6" r="5.8" fill="url(#dotG)"/><circle cx="1047.7" cy="976.9" r="5.8" fill="url(#dotG)"/><circle cx="1056.2" cy="998.3" r="5.8" fill="url(#dotG)"/><circle cx="1064.8" cy="1033.8" r="5.8" fill="url(#dotG)"/><circle cx="1073.3" cy="1082.2" r="5.8" fill="url(#dotG)"/><circle cx="1081.8" cy="1130.9" r="5.8" fill="url(#dotG)"/><circle cx="1090.4" cy="1172.6" r="5.8" fill="url(#dotG)"/><circle cx="1098.9" cy="1200.4" r="5.8" fill="url(#dotG)"/><circle cx="1107.4" cy="1216.0" r="5.8" fill="url(#dotG)"/><circle cx="1116.0" cy="1223.9" r="5.8" fill="url(#dotG)"/><circle cx="1124.5" cy="1228.9" r="5.8" fill="url(#dotG)"/><circle cx="1133.0" cy="1231.0" r="5.8" fill="url(#dotG)"/></g>
<path d="M783.1,1156.3C789.3,1156.4 810.7,1156.4 820.2,1156.7C829.7,1157.0 834.3,1157.4 840.3,1158.3C846.3,1159.2 851.3,1160.8 856.3,1162.3C861.3,1163.8 865.7,1165.5 870.4,1167.3C875.1,1169.1 879.7,1171.5 884.4,1173.3C889.1,1175.1 893.8,1176.8 898.5,1178.3C903.2,1179.8 907.1,1181.0 912.5,1182.0C917.9,1183.0 924.2,1183.5 930.6,1184.0C937.0,1184.5 943.9,1184.7 950.6,1185.0C957.3,1185.3 964.0,1185.6 970.7,1186.0C977.4,1186.4 985.1,1186.8 990.8,1187.4C996.5,1188.0 1000.5,1188.4 1004.8,1189.4C1009.1,1190.4 1013.1,1191.7 1016.8,1193.4C1020.5,1195.1 1023.6,1197.1 1026.9,1199.4C1030.2,1201.7 1033.6,1204.7 1036.9,1207.4C1040.2,1210.1 1043.6,1213.0 1046.9,1215.5C1050.2,1218.0 1053.3,1220.3 1057.0,1222.5C1060.7,1224.7 1065.0,1226.9 1069.0,1228.5C1073.0,1230.1 1075.7,1231.2 1081.0,1232.1C1086.3,1233.0 1092.2,1233.7 1101.1,1234.1C1110.0,1234.5 1129.0,1234.4 1134.6,1234.5" fill="none" stroke="#f08228" stroke-width="7" stroke-linejoin="round"/>
<path d="M783.1,1155.7C787.0,1155.2 799.3,1153.9 806.2,1152.7C813.1,1151.5 819.3,1150.7 824.3,1148.7C829.3,1146.7 832.6,1145.1 836.3,1140.7C840.0,1136.3 843.3,1128.9 846.3,1122.6C849.3,1116.2 851.9,1108.6 854.3,1102.6C856.6,1096.6 858.4,1091.8 860.4,1086.5C862.4,1081.2 864.4,1075.8 866.4,1070.5C868.4,1065.2 870.4,1058.7 872.4,1054.4C874.4,1050.1 876.8,1046.5 878.4,1044.6C880.0,1042.7 881.0,1043.3 882.2,1043.2C883.4,1043.1 884.4,1042.3 885.8,1044.2C887.2,1046.1 888.7,1050.0 890.5,1054.4C892.3,1058.8 894.5,1065.2 896.5,1070.5C898.5,1075.8 900.3,1080.5 902.5,1086.5C904.7,1092.5 907.2,1099.9 909.5,1106.6C911.8,1113.3 914.0,1119.9 916.5,1126.6C919.0,1133.3 921.9,1141.0 924.6,1146.7C927.3,1152.4 929.9,1157.0 932.6,1160.8C935.3,1164.6 937.6,1167.1 940.6,1169.8C943.6,1172.5 946.6,1175.2 950.6,1176.8C954.6,1178.4 960.4,1179.4 964.7,1179.6C969.1,1179.8 972.7,1178.9 976.7,1177.7C980.7,1176.5 985.4,1174.5 988.7,1172.3C992.1,1170.1 994.4,1167.6 996.8,1164.3C999.1,1161.0 1000.8,1157.3 1002.8,1152.3C1004.8,1147.3 1006.8,1140.9 1008.8,1134.2C1010.8,1127.5 1012.8,1119.8 1014.8,1112.1C1016.8,1104.4 1018.9,1095.4 1020.8,1088.1C1022.6,1080.8 1024.6,1074.3 1025.9,1068.0C1027.2,1061.7 1027.7,1056.7 1028.9,1050.4C1030.1,1044.1 1031.6,1037.1 1032.9,1030.4C1034.2,1023.7 1035.6,1016.7 1036.9,1010.3C1038.2,1003.9 1039.1,998.0 1040.9,992.2C1042.7,986.4 1045.6,975.6 1047.9,975.6C1050.2,975.6 1052.7,985.8 1054.9,992.2C1057.1,998.7 1059.2,1006.3 1061.0,1014.3C1062.8,1022.3 1064.3,1031.0 1066.0,1040.4C1067.7,1049.8 1069.2,1060.1 1071.0,1070.5C1072.8,1080.9 1075.2,1092.3 1077.0,1102.6C1078.8,1112.9 1080.2,1122.6 1082.0,1132.2C1083.8,1141.8 1085.7,1151.6 1087.5,1160.3C1089.3,1169.0 1090.8,1176.4 1093.1,1184.4C1095.4,1192.4 1098.1,1202.1 1101.1,1208.4C1104.1,1214.8 1107.8,1219.2 1111.1,1222.5C1114.4,1225.8 1117.3,1226.5 1121.2,1228.0C1125.1,1229.5 1132.4,1230.9 1134.6,1231.5" fill="none" stroke="#f08228" stroke-width="7" stroke-linejoin="round"/>
<rect x="783.10" y="926.40" width="351.50" height="327.20" fill="none" stroke="#000" stroke-width="2.9"/>
<path d="M837.80,1253.60v6.80M923.15,1253.60v6.80M1008.50,1253.60v6.80M1093.85,1253.60v6.80" stroke="#000" stroke-width="2.9" fill="none"/>
<path d="M795.12,1253.60v3.80M880.47,1253.60v3.80M965.82,1253.60v3.80M1051.17,1253.60v3.80M1136.53,1253.60v3.80" stroke="#000" stroke-width="2.9" fill="none"/>
<text x="837.90" y="1282.60" font-size="22.50" fill="#000" text-anchor="middle">590</text>
<text x="923.25" y="1282.60" font-size="22.50" fill="#000" text-anchor="middle">585</text>
<text x="1008.60" y="1282.60" font-size="22.50" fill="#000" text-anchor="middle">580</text>
<text x="1093.95" y="1282.60" font-size="22.50" fill="#000" text-anchor="middle">575</text>
<text x="830.30" y="1317.00" font-size="28.80" fill="#000">Binding Energy (eV)</text>
<text transform="translate(764.8 1230.0) rotate(-90)" font-size="30.4"><tspan x="-0.06" y="0" letter-spacing="0.356">Intensity </tspan><tspan x="126.05" y="0">(</tspan><tspan x="136.86" y="0" letter-spacing="0.021">arb. </tspan><tspan x="193.07" y="0" letter-spacing="-0.745">units</tspan><tspan x="260.92" y="0">)</tspan></text>
<text x="1006.8" y="963.3" font-size="26.1" font-style="italic">Cr 2p<tspan font-style="normal" font-size="17.3" dx="3.4" dy="6.4">3/2</tspan></text>
<text x="844.4" y="1021.4" font-size="26.1" font-style="italic">Cr 2p<tspan font-style="normal" font-size="17.3" dx="3.4" dy="7">1/2</tspan></text>
<text x="755.00" y="939.80" font-size="29.50" fill="#000" font-weight="bold">h</text>
<g><circle cx="1210.5" cy="1218.3" r="5.3" fill="url(#dotG)"/><circle cx="1213.6" cy="1218.3" r="5.3" fill="url(#dotG)"/><circle cx="1216.8" cy="1218.6" r="5.3" fill="url(#dotG)"/><circle cx="1219.9" cy="1217.8" r="5.3" fill="url(#dotG)"/><circle cx="1223.0" cy="1218.0" r="5.3" fill="url(#dotG)"/><circle cx="1226.2" cy="1217.8" r="5.3" fill="url(#dotG)"/><circle cx="1229.3" cy="1217.2" r="5.3" fill="url(#dotG)"/><circle cx="1232.4" cy="1218.5" r="5.3" fill="url(#dotG)"/><circle cx="1235.5" cy="1217.6" r="5.3" fill="url(#dotG)"/><circle cx="1238.7" cy="1216.3" r="5.3" fill="url(#dotG)"/><circle cx="1241.8" cy="1216.7" r="5.3" fill="url(#dotG)"/><circle cx="1244.9" cy="1216.6" r="5.3" fill="url(#dotG)"/><circle cx="1248.1" cy="1216.4" r="5.3" fill="url(#dotG)"/><circle cx="1251.2" cy="1216.9" r="5.3" fill="url(#dotG)"/><circle cx="1254.3" cy="1216.4" r="5.3" fill="url(#dotG)"/><circle cx="1257.5" cy="1216.9" r="5.3" fill="url(#dotG)"/><circle cx="1260.6" cy="1216.9" r="5.3" fill="url(#dotG)"/><circle cx="1263.7" cy="1216.7" r="5.3" fill="url(#dotG)"/><circle cx="1266.9" cy="1217.8" r="5.3" fill="url(#dotG)"/><circle cx="1270.0" cy="1216.8" r="5.3" fill="url(#dotG)"/><circle cx="1273.1" cy="1213.8" r="5.3" fill="url(#dotG)"/><circle cx="1276.3" cy="1211.3" r="5.3" fill="url(#dotG)"/><circle cx="1279.4" cy="1210.6" r="5.3" fill="url(#dotG)"/><circle cx="1282.5" cy="1208.6" r="5.3" fill="url(#dotG)"/><circle cx="1285.6" cy="1207.7" r="5.3" fill="url(#dotG)"/><circle cx="1288.8" cy="1205.7" r="5.3" fill="url(#dotG)"/><circle cx="1291.9" cy="1203.2" r="5.3" fill="url(#dotG)"/><circle cx="1295.0" cy="1202.5" r="5.3" fill="url(#dotG)"/><circle cx="1298.2" cy="1201.2" r="5.3" fill="url(#dotG)"/><circle cx="1301.3" cy="1197.0" r="5.3" fill="url(#dotG)"/><circle cx="1304.4" cy="1193.5" r="5.3" fill="url(#dotG)"/><circle cx="1307.6" cy="1190.9" r="5.3" fill="url(#dotG)"/><circle cx="1310.7" cy="1185.8" r="5.3" fill="url(#dotG)"/><circle cx="1313.8" cy="1180.3" r="5.3" fill="url(#dotG)"/><circle cx="1317.0" cy="1174.7" r="5.3" fill="url(#dotG)"/><circle cx="1320.1" cy="1166.6" r="5.3" fill="url(#dotG)"/><circle cx="1323.2" cy="1158.2" r="5.3" fill="url(#dotG)"/><circle cx="1326.3" cy="1148.2" r="5.3" fill="url(#dotG)"/><circle cx="1329.5" cy="1136.8" r="5.3" fill="url(#dotG)"/><circle cx="1332.6" cy="1126.4" r="5.3" fill="url(#dotG)"/><circle cx="1335.7" cy="1114.6" r="5.3" fill="url(#dotG)"/><circle cx="1338.9" cy="1102.9" r="5.3" fill="url(#dotG)"/><circle cx="1342.0" cy="1090.0" r="5.3" fill="url(#dotG)"/><circle cx="1345.1" cy="1076.9" r="5.3" fill="url(#dotG)"/><circle cx="1348.3" cy="1065.4" r="5.3" fill="url(#dotG)"/><circle cx="1351.4" cy="1053.4" r="5.3" fill="url(#dotG)"/><circle cx="1354.5" cy="1041.3" r="5.3" fill="url(#dotG)"/><circle cx="1357.7" cy="1029.2" r="5.3" fill="url(#dotG)"/><circle cx="1360.8" cy="1014.3" r="5.3" fill="url(#dotG)"/><circle cx="1363.9" cy="999.3" r="5.3" fill="url(#dotG)"/><circle cx="1367.1" cy="987.4" r="5.3" fill="url(#dotG)"/><circle cx="1370.2" cy="977.2" r="5.3" fill="url(#dotG)"/><circle cx="1373.3" cy="971.0" r="5.3" fill="url(#dotG)"/><circle cx="1376.4" cy="974.5" r="5.3" fill="url(#dotG)"/><circle cx="1379.6" cy="981.6" r="5.3" fill="url(#dotG)"/><circle cx="1382.7" cy="994.4" r="5.3" fill="url(#dotG)"/><circle cx="1385.8" cy="1006.6" r="5.3" fill="url(#dotG)"/><circle cx="1389.0" cy="1018.7" r="5.3" fill="url(#dotG)"/><circle cx="1392.1" cy="1030.6" r="5.3" fill="url(#dotG)"/><circle cx="1395.2" cy="1044.0" r="5.3" fill="url(#dotG)"/><circle cx="1398.4" cy="1059.2" r="5.3" fill="url(#dotG)"/><circle cx="1401.5" cy="1070.5" r="5.3" fill="url(#dotG)"/><circle cx="1404.6" cy="1082.7" r="5.3" fill="url(#dotG)"/><circle cx="1407.8" cy="1095.3" r="5.3" fill="url(#dotG)"/><circle cx="1410.9" cy="1105.9" r="5.3" fill="url(#dotG)"/><circle cx="1414.0" cy="1119.4" r="5.3" fill="url(#dotG)"/><circle cx="1417.1" cy="1133.2" r="5.3" fill="url(#dotG)"/><circle cx="1420.3" cy="1144.3" r="5.3" fill="url(#dotG)"/><circle cx="1423.4" cy="1155.3" r="5.3" fill="url(#dotG)"/><circle cx="1426.5" cy="1164.9" r="5.3" fill="url(#dotG)"/><circle cx="1429.7" cy="1173.1" r="5.3" fill="url(#dotG)"/><circle cx="1432.8" cy="1180.2" r="5.3" fill="url(#dotG)"/><circle cx="1435.9" cy="1186.6" r="5.3" fill="url(#dotG)"/><circle cx="1439.1" cy="1191.7" r="5.3" fill="url(#dotG)"/><circle cx="1442.2" cy="1196.4" r="5.3" fill="url(#dotG)"/><circle cx="1445.3" cy="1200.3" r="5.3" fill="url(#dotG)"/><circle cx="1448.5" cy="1203.1" r="5.3" fill="url(#dotG)"/><circle cx="1451.6" cy="1202.8" r="5.3" fill="url(#dotG)"/><circle cx="1454.7" cy="1204.2" r="5.3" fill="url(#dotG)"/><circle cx="1457.8" cy="1208.7" r="5.3" fill="url(#dotG)"/><circle cx="1461.0" cy="1213.3" r="5.3" fill="url(#dotG)"/><circle cx="1464.1" cy="1216.9" r="5.3" fill="url(#dotG)"/><circle cx="1467.2" cy="1217.6" r="5.3" fill="url(#dotG)"/><circle cx="1470.4" cy="1217.2" r="5.3" fill="url(#dotG)"/><circle cx="1473.5" cy="1217.8" r="5.3" fill="url(#dotG)"/><circle cx="1476.6" cy="1220.2" r="5.3" fill="url(#dotG)"/><circle cx="1479.8" cy="1221.3" r="5.3" fill="url(#dotG)"/><circle cx="1482.9" cy="1220.0" r="5.3" fill="url(#dotG)"/><circle cx="1486.0" cy="1221.0" r="5.3" fill="url(#dotG)"/><circle cx="1489.2" cy="1221.4" r="5.3" fill="url(#dotG)"/><circle cx="1492.3" cy="1223.3" r="5.3" fill="url(#dotG)"/><circle cx="1495.4" cy="1224.7" r="5.3" fill="url(#dotG)"/><circle cx="1498.6" cy="1223.4" r="5.3" fill="url(#dotG)"/><circle cx="1501.7" cy="1224.0" r="5.3" fill="url(#dotG)"/><circle cx="1504.8" cy="1224.2" r="5.3" fill="url(#dotG)"/><circle cx="1507.9" cy="1224.6" r="5.3" fill="url(#dotG)"/><circle cx="1511.1" cy="1226.0" r="5.3" fill="url(#dotG)"/><circle cx="1514.2" cy="1224.6" r="5.3" fill="url(#dotG)"/><circle cx="1517.3" cy="1223.8" r="5.3" fill="url(#dotG)"/><circle cx="1520.5" cy="1224.8" r="5.3" fill="url(#dotG)"/><circle cx="1523.6" cy="1224.4" r="5.3" fill="url(#dotG)"/><circle cx="1526.7" cy="1225.1" r="5.3" fill="url(#dotG)"/><circle cx="1529.9" cy="1226.0" r="5.3" fill="url(#dotG)"/><circle cx="1533.0" cy="1225.3" r="5.3" fill="url(#dotG)"/><circle cx="1536.1" cy="1225.2" r="5.3" fill="url(#dotG)"/><circle cx="1539.3" cy="1225.5" r="5.3" fill="url(#dotG)"/><circle cx="1542.4" cy="1226.7" r="5.3" fill="url(#dotG)"/><circle cx="1545.5" cy="1227.4" r="5.3" fill="url(#dotG)"/><circle cx="1548.6" cy="1227.8" r="5.3" fill="url(#dotG)"/><circle cx="1551.8" cy="1228.4" r="5.3" fill="url(#dotG)"/><circle cx="1554.9" cy="1228.2" r="5.3" fill="url(#dotG)"/><circle cx="1558.0" cy="1227.0" r="5.3" fill="url(#dotG)"/><circle cx="1561.2" cy="1227.2" r="5.3" fill="url(#dotG)"/></g>
<path d="M1210.5,1218.5C1223.8,1218.5 1271.8,1218.6 1290.0,1218.8C1308.2,1219.0 1310.0,1219.1 1320.0,1219.6C1330.0,1220.1 1340.0,1221.1 1350.0,1222.0C1360.0,1222.9 1370.0,1224.2 1380.0,1225.0C1390.0,1225.8 1398.3,1226.5 1410.0,1227.0C1421.7,1227.5 1424.8,1227.7 1450.0,1227.8C1475.2,1227.9 1542.7,1227.5 1561.2,1227.5" fill="none" stroke="#e8dc30" stroke-width="6.3" stroke-linejoin="round"/>
<path d="M1210.5,1218.5C1217.1,1218.3 1239.2,1218.2 1250.0,1217.6C1260.8,1217.0 1268.3,1216.2 1275.0,1215.0C1281.7,1213.8 1286.3,1212.0 1290.0,1210.5C1293.7,1209.0 1293.6,1210.2 1297.3,1205.9C1301.0,1201.6 1307.3,1193.3 1311.9,1184.9C1316.5,1176.5 1321.3,1165.4 1324.8,1155.7C1328.3,1146.0 1330.2,1136.8 1332.9,1126.6C1335.6,1116.3 1338.3,1105.0 1341.0,1094.2C1343.7,1083.4 1346.4,1072.7 1349.1,1061.9C1351.8,1051.1 1354.8,1039.2 1357.2,1029.5C1359.6,1019.8 1361.8,1010.6 1363.7,1003.6C1365.6,996.6 1366.8,991.3 1368.6,987.2C1370.3,983.1 1372.3,979.2 1374.2,979.2C1376.1,979.2 1378.0,983.1 1379.8,987.2C1381.5,991.3 1382.8,996.6 1384.7,1003.6C1386.6,1010.6 1388.8,1019.8 1391.2,1029.5C1393.6,1039.2 1396.6,1051.1 1399.3,1061.9C1402.0,1072.7 1404.7,1083.4 1407.4,1094.2C1410.1,1105.0 1412.8,1116.3 1415.5,1126.6C1418.2,1136.8 1420.3,1146.0 1423.5,1155.7C1426.7,1165.4 1430.9,1176.5 1434.9,1184.9C1439.0,1193.3 1443.5,1200.8 1447.8,1205.9C1452.1,1211.0 1455.4,1213.0 1460.8,1215.6C1466.2,1218.2 1470.1,1219.8 1480.0,1221.5C1489.9,1223.2 1506.5,1224.5 1520.0,1225.5C1533.5,1226.5 1554.3,1227.2 1561.2,1227.5" fill="none" stroke="#e8dc30" stroke-width="6.3" stroke-linejoin="round"/>
<rect x="1210.50" y="926.40" width="350.70" height="327.20" fill="none" stroke="#000" stroke-width="2.9"/>
<path d="M1235.60,1253.60v6.80M1298.22,1253.60v6.80M1360.84,1253.60v6.80M1423.46,1253.60v6.80M1486.08,1253.60v6.80M1548.70,1253.60v6.80" stroke="#000" stroke-width="2.9" fill="none"/>
<path d="M1266.91,1253.60v3.80M1329.53,1253.60v3.80M1392.15,1253.60v3.80M1454.77,1253.60v3.80M1517.39,1253.60v3.80" stroke="#000" stroke-width="2.9" fill="none"/>
<text x="1235.70" y="1282.60" font-size="22.50" fill="#000" text-anchor="middle">536</text>
<text x="1298.32" y="1282.60" font-size="22.50" fill="#000" text-anchor="middle">534</text>
<text x="1360.94" y="1282.60" font-size="22.50" fill="#000" text-anchor="middle">532</text>
<text x="1423.56" y="1282.60" font-size="22.50" fill="#000" text-anchor="middle">530</text>
<text x="1486.18" y="1282.60" font-size="22.50" fill="#000" text-anchor="middle">528</text>
<text x="1548.80" y="1282.60" font-size="22.50" fill="#000" text-anchor="middle">526</text>
<text x="1257.70" y="1317.00" font-size="28.80" fill="#000">Binding Energy (eV)</text>
<text transform="translate(1191.6 1230.0) rotate(-90)" font-size="30.4"><tspan x="-0.06" y="0" letter-spacing="0.356">Intensity </tspan><tspan x="126.05" y="0">(</tspan><tspan x="136.86" y="0" letter-spacing="0.021">arb. </tspan><tspan x="193.07" y="0" letter-spacing="-0.745">units</tspan><tspan x="260.92" y="0">)</tspan></text>
<text x="1375.90" y="957.80" font-size="26.20" fill="#000" font-style="italic">O 1s</text>
<text x="1189.00" y="939.80" font-size="29.50" fill="#000" font-weight="bold">i</text>
<g><circle cx="1638.5" cy="1217.3" r="5.3" fill="url(#dotG)"/><circle cx="1641.6" cy="1217.4" r="5.3" fill="url(#dotG)"/><circle cx="1644.8" cy="1218.5" r="5.3" fill="url(#dotG)"/><circle cx="1647.9" cy="1217.4" r="5.3" fill="url(#dotG)"/><circle cx="1651.0" cy="1216.6" r="5.3" fill="url(#dotG)"/><circle cx="1654.2" cy="1217.5" r="5.3" fill="url(#dotG)"/><circle cx="1657.3" cy="1217.2" r="5.3" fill="url(#dotG)"/><circle cx="1660.4" cy="1216.5" r="5.3" fill="url(#dotG)"/><circle cx="1663.5" cy="1216.5" r="5.3" fill="url(#dotG)"/><circle cx="1666.7" cy="1219.1" r="5.3" fill="url(#dotG)"/><circle cx="1669.8" cy="1219.0" r="5.3" fill="url(#dotG)"/><circle cx="1672.9" cy="1216.7" r="5.3" fill="url(#dotG)"/><circle cx="1676.1" cy="1216.2" r="5.3" fill="url(#dotG)"/><circle cx="1679.2" cy="1217.1" r="5.3" fill="url(#dotG)"/><circle cx="1682.3" cy="1217.6" r="5.3" fill="url(#dotG)"/><circle cx="1685.5" cy="1217.0" r="5.3" fill="url(#dotG)"/><circle cx="1688.6" cy="1216.6" r="5.3" fill="url(#dotG)"/><circle cx="1691.7" cy="1215.7" r="5.3" fill="url(#dotG)"/><circle cx="1694.8" cy="1215.4" r="5.3" fill="url(#dotG)"/><circle cx="1698.0" cy="1215.4" r="5.3" fill="url(#dotG)"/><circle cx="1701.1" cy="1215.9" r="5.3" fill="url(#dotG)"/><circle cx="1704.2" cy="1216.1" r="5.3" fill="url(#dotG)"/><circle cx="1707.4" cy="1216.3" r="5.3" fill="url(#dotG)"/><circle cx="1710.5" cy="1215.5" r="5.3" fill="url(#dotG)"/><circle cx="1713.6" cy="1213.8" r="5.3" fill="url(#dotG)"/><circle cx="1716.8" cy="1212.6" r="5.3" fill="url(#dotG)"/><circle cx="1719.9" cy="1210.0" r="5.3" fill="url(#dotG)"/><circle cx="1723.0" cy="1206.4" r="5.3" fill="url(#dotG)"/><circle cx="1726.1" cy="1201.9" r="5.3" fill="url(#dotG)"/><circle cx="1729.3" cy="1196.8" r="5.3" fill="url(#dotG)"/><circle cx="1732.4" cy="1190.5" r="5.3" fill="url(#dotG)"/><circle cx="1735.5" cy="1185.8" r="5.3" fill="url(#dotG)"/><circle cx="1738.7" cy="1179.0" r="5.3" fill="url(#dotG)"/><circle cx="1741.8" cy="1169.4" r="5.3" fill="url(#dotG)"/><circle cx="1744.9" cy="1160.4" r="5.3" fill="url(#dotG)"/><circle cx="1748.1" cy="1149.9" r="5.3" fill="url(#dotG)"/><circle cx="1751.2" cy="1139.3" r="5.3" fill="url(#dotG)"/><circle cx="1754.3" cy="1129.3" r="5.3" fill="url(#dotG)"/><circle cx="1757.4" cy="1119.9" r="5.3" fill="url(#dotG)"/><circle cx="1760.6" cy="1110.3" r="5.3" fill="url(#dotG)"/><circle cx="1763.7" cy="1101.5" r="5.3" fill="url(#dotG)"/><circle cx="1766.8" cy="1093.7" r="5.3" fill="url(#dotG)"/><circle cx="1770.0" cy="1085.9" r="5.3" fill="url(#dotG)"/><circle cx="1773.1" cy="1082.0" r="5.3" fill="url(#dotG)"/><circle cx="1776.2" cy="1078.9" r="5.3" fill="url(#dotG)"/><circle cx="1779.4" cy="1075.2" r="5.3" fill="url(#dotG)"/><circle cx="1782.5" cy="1070.3" r="5.3" fill="url(#dotG)"/><circle cx="1785.6" cy="1066.7" r="5.3" fill="url(#dotG)"/><circle cx="1788.7" cy="1061.6" r="5.3" fill="url(#dotG)"/><circle cx="1791.9" cy="1053.8" r="5.3" fill="url(#dotG)"/><circle cx="1795.0" cy="1045.8" r="5.3" fill="url(#dotG)"/><circle cx="1798.1" cy="1036.9" r="5.3" fill="url(#dotG)"/><circle cx="1801.3" cy="1027.0" r="5.3" fill="url(#dotG)"/><circle cx="1804.4" cy="1017.3" r="5.3" fill="url(#dotG)"/><circle cx="1807.5" cy="1006.3" r="5.3" fill="url(#dotG)"/><circle cx="1810.7" cy="994.7" r="5.3" fill="url(#dotG)"/><circle cx="1813.8" cy="986.0" r="5.3" fill="url(#dotG)"/><circle cx="1816.9" cy="977.9" r="5.3" fill="url(#dotG)"/><circle cx="1820.0" cy="974.0" r="5.3" fill="url(#dotG)"/><circle cx="1823.2" cy="970.9" r="5.3" fill="url(#dotG)"/><circle cx="1826.3" cy="973.6" r="5.3" fill="url(#dotG)"/><circle cx="1829.4" cy="978.7" r="5.3" fill="url(#dotG)"/><circle cx="1832.6" cy="988.7" r="5.3" fill="url(#dotG)"/><circle cx="1835.7" cy="999.4" r="5.3" fill="url(#dotG)"/><circle cx="1838.8" cy="1013.8" r="5.3" fill="url(#dotG)"/><circle cx="1842.0" cy="1031.2" r="5.3" fill="url(#dotG)"/><circle cx="1845.1" cy="1047.3" r="5.3" fill="url(#dotG)"/><circle cx="1848.2" cy="1063.4" r="5.3" fill="url(#dotG)"/><circle cx="1851.3" cy="1078.0" r="5.3" fill="url(#dotG)"/><circle cx="1854.5" cy="1093.8" r="5.3" fill="url(#dotG)"/><circle cx="1857.6" cy="1111.6" r="5.3" fill="url(#dotG)"/><circle cx="1860.7" cy="1126.6" r="5.3" fill="url(#dotG)"/><circle cx="1863.9" cy="1138.5" r="5.3" fill="url(#dotG)"/><circle cx="1867.0" cy="1154.0" r="5.3" fill="url(#dotG)"/><circle cx="1870.1" cy="1170.9" r="5.3" fill="url(#dotG)"/><circle cx="1873.3" cy="1185.2" r="5.3" fill="url(#dotG)"/><circle cx="1876.4" cy="1192.9" r="5.3" fill="url(#dotG)"/><circle cx="1879.5" cy="1199.0" r="5.3" fill="url(#dotG)"/><circle cx="1882.6" cy="1204.1" r="5.3" fill="url(#dotG)"/><circle cx="1885.8" cy="1209.0" r="5.3" fill="url(#dotG)"/><circle cx="1888.9" cy="1215.7" r="5.3" fill="url(#dotG)"/><circle cx="1892.0" cy="1220.5" r="5.3" fill="url(#dotG)"/><circle cx="1895.2" cy="1221.2" r="5.3" fill="url(#dotG)"/><circle cx="1898.3" cy="1221.2" r="5.3" fill="url(#dotG)"/><circle cx="1901.4" cy="1223.5" r="5.3" fill="url(#dotG)"/><circle cx="1904.6" cy="1227.3" r="5.3" fill="url(#dotG)"/><circle cx="1907.7" cy="1226.6" r="5.3" fill="url(#dotG)"/><circle cx="1910.8" cy="1225.6" r="5.3" fill="url(#dotG)"/><circle cx="1913.9" cy="1227.1" r="5.3" fill="url(#dotG)"/><circle cx="1917.1" cy="1226.8" r="5.3" fill="url(#dotG)"/><circle cx="1920.2" cy="1226.0" r="5.3" fill="url(#dotG)"/><circle cx="1923.3" cy="1226.5" r="5.3" fill="url(#dotG)"/><circle cx="1926.5" cy="1227.2" r="5.3" fill="url(#dotG)"/><circle cx="1929.6" cy="1227.6" r="5.3" fill="url(#dotG)"/><circle cx="1932.7" cy="1227.4" r="5.3" fill="url(#dotG)"/><circle cx="1935.9" cy="1226.9" r="5.3" fill="url(#dotG)"/><circle cx="1939.0" cy="1227.7" r="5.3" fill="url(#dotG)"/><circle cx="1942.1" cy="1226.8" r="5.3" fill="url(#dotG)"/><circle cx="1945.2" cy="1227.1" r="5.3" fill="url(#dotG)"/><circle cx="1948.4" cy="1228.6" r="5.3" fill="url(#dotG)"/><circle cx="1951.5" cy="1227.6" r="5.3" fill="url(#dotG)"/><circle cx="1954.6" cy="1226.3" r="5.3" fill="url(#dotG)"/><circle cx="1957.8" cy="1225.8" r="5.3" fill="url(#dotG)"/><circle cx="1960.9" cy="1227.3" r="5.3" fill="url(#dotG)"/><circle cx="1964.0" cy="1227.4" r="5.3" fill="url(#dotG)"/><circle cx="1967.2" cy="1227.0" r="5.3" fill="url(#dotG)"/><circle cx="1970.3" cy="1226.3" r="5.3" fill="url(#dotG)"/><circle cx="1973.4" cy="1225.8" r="5.3" fill="url(#dotG)"/><circle cx="1976.5" cy="1228.0" r="5.3" fill="url(#dotG)"/><circle cx="1979.7" cy="1229.1" r="5.3" fill="url(#dotG)"/><circle cx="1982.8" cy="1229.7" r="5.3" fill="url(#dotG)"/><circle cx="1985.9" cy="1228.7" r="5.3" fill="url(#dotG)"/><circle cx="1989.1" cy="1226.7" r="5.3" fill="url(#dotG)"/></g>
<path d="M1638.5,1217.5C1655.5,1217.7 1716.7,1218.0 1740.4,1218.5C1764.1,1219.0 1768.8,1219.7 1780.5,1220.5C1792.2,1221.3 1800.6,1222.5 1810.6,1223.5C1820.6,1224.5 1829.0,1225.7 1840.7,1226.5C1852.4,1227.3 1856.0,1227.8 1880.8,1228.1C1905.5,1228.4 1971.1,1228.1 1989.2,1228.1" fill="none" stroke="#00dc00" stroke-width="4.7" stroke-linejoin="round"/>
<path d="M1638.5,1217.5C1648.8,1217.5 1686.5,1218.5 1700.3,1217.5C1714.1,1216.5 1715.8,1214.2 1721.4,1211.4C1727.0,1208.6 1730.4,1204.6 1733.8,1200.4C1737.2,1196.2 1739.3,1192.1 1742.0,1186.4C1744.7,1180.7 1747.5,1173.3 1750.2,1166.3C1752.9,1159.3 1755.7,1151.9 1758.3,1144.2C1760.9,1136.5 1763.6,1126.6 1765.8,1120.2C1768.0,1113.8 1769.5,1109.4 1771.2,1106.1C1772.9,1102.8 1774.2,1100.6 1775.8,1100.1C1777.3,1099.6 1778.7,1100.8 1780.5,1103.1C1782.3,1105.4 1784.6,1109.7 1786.6,1114.2C1788.6,1118.7 1790.3,1123.5 1792.6,1130.2C1794.9,1136.9 1797.9,1146.3 1800.6,1154.3C1803.3,1162.3 1805.9,1170.9 1808.6,1178.3C1811.3,1185.7 1814.0,1192.7 1816.7,1198.4C1819.4,1204.1 1821.7,1208.7 1824.7,1212.5C1827.7,1216.3 1830.4,1219.3 1834.7,1221.5C1839.0,1223.7 1843.1,1224.7 1850.8,1225.8C1858.5,1226.9 1857.7,1227.7 1880.8,1228.1C1903.9,1228.5 1971.1,1228.1 1989.2,1228.1" fill="none" stroke="#00dc00" stroke-width="4.7" stroke-linejoin="round"/>
<path d="M1638.5,1217.5C1655.5,1217.7 1720.7,1219.0 1740.4,1218.5C1760.1,1218.0 1752.2,1216.5 1756.5,1214.5C1760.8,1212.5 1763.5,1210.1 1766.5,1206.4C1769.5,1202.7 1772.2,1197.4 1774.5,1192.4C1776.8,1187.4 1778.5,1182.7 1780.5,1176.3C1782.5,1169.9 1784.8,1161.6 1786.6,1154.3C1788.4,1147.0 1790.1,1139.6 1791.6,1132.2C1793.1,1124.8 1794.1,1118.1 1795.6,1110.1C1797.1,1102.1 1799.4,1090.7 1800.6,1084.1C1801.8,1077.5 1801.6,1076.1 1802.6,1070.5C1803.6,1064.9 1805.3,1057.1 1806.6,1050.4C1807.9,1043.7 1809.3,1036.8 1810.6,1030.4C1811.9,1024.1 1813.1,1018.0 1814.6,1012.3C1816.1,1006.6 1817.8,1000.2 1819.7,996.3C1821.6,992.4 1823.9,989.1 1825.7,988.8C1827.5,988.5 1829.0,991.0 1830.7,994.3C1832.4,997.5 1834.1,1003.3 1835.7,1008.3C1837.3,1013.2 1838.8,1017.5 1840.4,1024.0C1842.0,1030.5 1843.6,1039.1 1845.2,1047.0C1846.8,1054.9 1848.3,1063.1 1849.9,1071.5C1851.5,1079.9 1853.2,1088.6 1854.9,1097.2C1856.6,1105.8 1858.2,1114.7 1859.9,1123.0C1861.6,1131.3 1863.5,1140.2 1864.9,1147.2C1866.3,1154.2 1867.2,1158.7 1868.5,1165.0C1869.8,1171.3 1870.8,1177.8 1872.9,1184.8C1875.0,1191.8 1877.9,1200.7 1880.9,1206.7C1883.9,1212.7 1887.0,1217.6 1891.0,1220.7C1895.0,1223.8 1896.6,1224.5 1904.9,1225.6C1913.2,1226.7 1927.0,1227.1 1941.0,1227.5C1955.0,1227.9 1981.2,1228.0 1989.2,1228.1" fill="none" stroke="#00dc00" stroke-width="4.7" stroke-linejoin="round"/>
<path d="M1638.5,1217.5C1647.1,1217.5 1678.3,1218.2 1690.3,1217.5C1702.3,1216.8 1705.3,1215.2 1710.3,1213.4C1715.3,1211.6 1717.4,1209.2 1720.4,1206.4C1723.4,1203.6 1725.7,1200.7 1728.4,1196.4C1731.1,1192.1 1733.7,1186.8 1736.4,1180.4C1739.1,1174.1 1742.1,1165.0 1744.4,1158.3C1746.8,1151.6 1748.5,1146.2 1750.5,1140.2C1752.5,1134.2 1754.5,1128.2 1756.5,1122.2C1758.5,1116.2 1760.2,1110.4 1762.5,1104.1C1764.8,1097.8 1767.5,1090.1 1770.5,1084.1C1773.5,1078.1 1777.2,1073.8 1780.5,1068.2C1783.8,1062.6 1787.6,1056.4 1790.6,1050.4C1793.6,1044.4 1796.3,1038.4 1798.6,1032.4C1800.9,1026.4 1802.6,1020.3 1804.6,1014.3C1806.6,1008.3 1808.6,1001.6 1810.6,996.3C1812.6,990.9 1814.7,985.7 1816.7,982.2C1818.7,978.7 1820.7,975.7 1822.7,975.4C1824.7,975.1 1826.7,976.7 1828.7,980.2C1830.7,983.7 1832.9,989.9 1834.7,996.3C1836.5,1002.6 1838.0,1010.3 1839.7,1018.3C1841.4,1026.3 1843.0,1035.7 1844.7,1044.4C1846.4,1053.1 1848.0,1061.8 1849.7,1070.5C1851.4,1079.2 1853.1,1087.9 1854.8,1096.6C1856.5,1105.3 1858.1,1114.2 1859.8,1122.6C1861.5,1130.9 1863.4,1139.7 1864.8,1146.7C1866.2,1153.7 1867.1,1158.2 1868.4,1164.5C1869.7,1170.8 1870.7,1177.4 1872.8,1184.4C1874.9,1191.4 1877.8,1200.4 1880.8,1206.4C1883.8,1212.4 1886.9,1217.3 1890.9,1220.5C1894.9,1223.7 1896.6,1224.3 1904.9,1225.5C1913.2,1226.7 1927.0,1227.1 1941.0,1227.5C1955.0,1227.9 1981.2,1228.0 1989.2,1228.1" fill="none" stroke="#00dc00" stroke-width="6.6" stroke-linejoin="round"/>
<rect x="1638.50" y="926.40" width="350.70" height="327.20" fill="none" stroke="#000" stroke-width="2.9"/>
<path d="M1694.70,1253.60v6.80M1757.30,1253.60v6.80M1819.90,1253.60v6.80M1882.50,1253.60v6.80M1945.10,1253.60v6.80" stroke="#000" stroke-width="2.9" fill="none"/>
<path d="M1663.40,1253.60v3.80M1726.00,1253.60v3.80M1788.60,1253.60v3.80M1851.20,1253.60v3.80M1913.80,1253.60v3.80M1976.40,1253.60v3.80" stroke="#000" stroke-width="2.9" fill="none"/>
<text x="1694.80" y="1282.60" font-size="22.50" fill="#000" text-anchor="middle">204</text>
<text x="1757.40" y="1282.60" font-size="22.50" fill="#000" text-anchor="middle">202</text>
<text x="1820.00" y="1282.60" font-size="22.50" fill="#000" text-anchor="middle">200</text>
<text x="1882.60" y="1282.60" font-size="22.50" fill="#000" text-anchor="middle">198</text>
<text x="1945.20" y="1282.60" font-size="22.50" fill="#000" text-anchor="middle">196</text>
<text x="1685.70" y="1317.00" font-size="28.80" fill="#000">Binding Energy (eV)</text>
<text transform="translate(1619.6 1230.0) rotate(-90)" font-size="30.4"><tspan x="-0.06" y="0" letter-spacing="0.356">Intensity </tspan><tspan x="126.05" y="0">(</tspan><tspan x="136.86" y="0" letter-spacing="0.021">arb. </tspan><tspan x="193.07" y="0" letter-spacing="-0.745">units</tspan><tspan x="260.92" y="0">)</tspan></text>
<text x="1820.8" y="961.3" font-size="26.1" font-style="italic">Cl 2p<tspan font-style="normal" font-size="17.3" dx="3.4" dy="7">3/2</tspan></text>
<text x="1667" y="1083.6" font-size="26.1" font-style="italic">Cl 2p<tspan font-style="normal" font-size="17.3" dx="3.4" dy="7">1/2</tspan></text>
<text x="1617.20" y="939.80" font-size="29.50" fill="#000" font-weight="bold">j</text>
</g>
</svg>
</body>
</html>
